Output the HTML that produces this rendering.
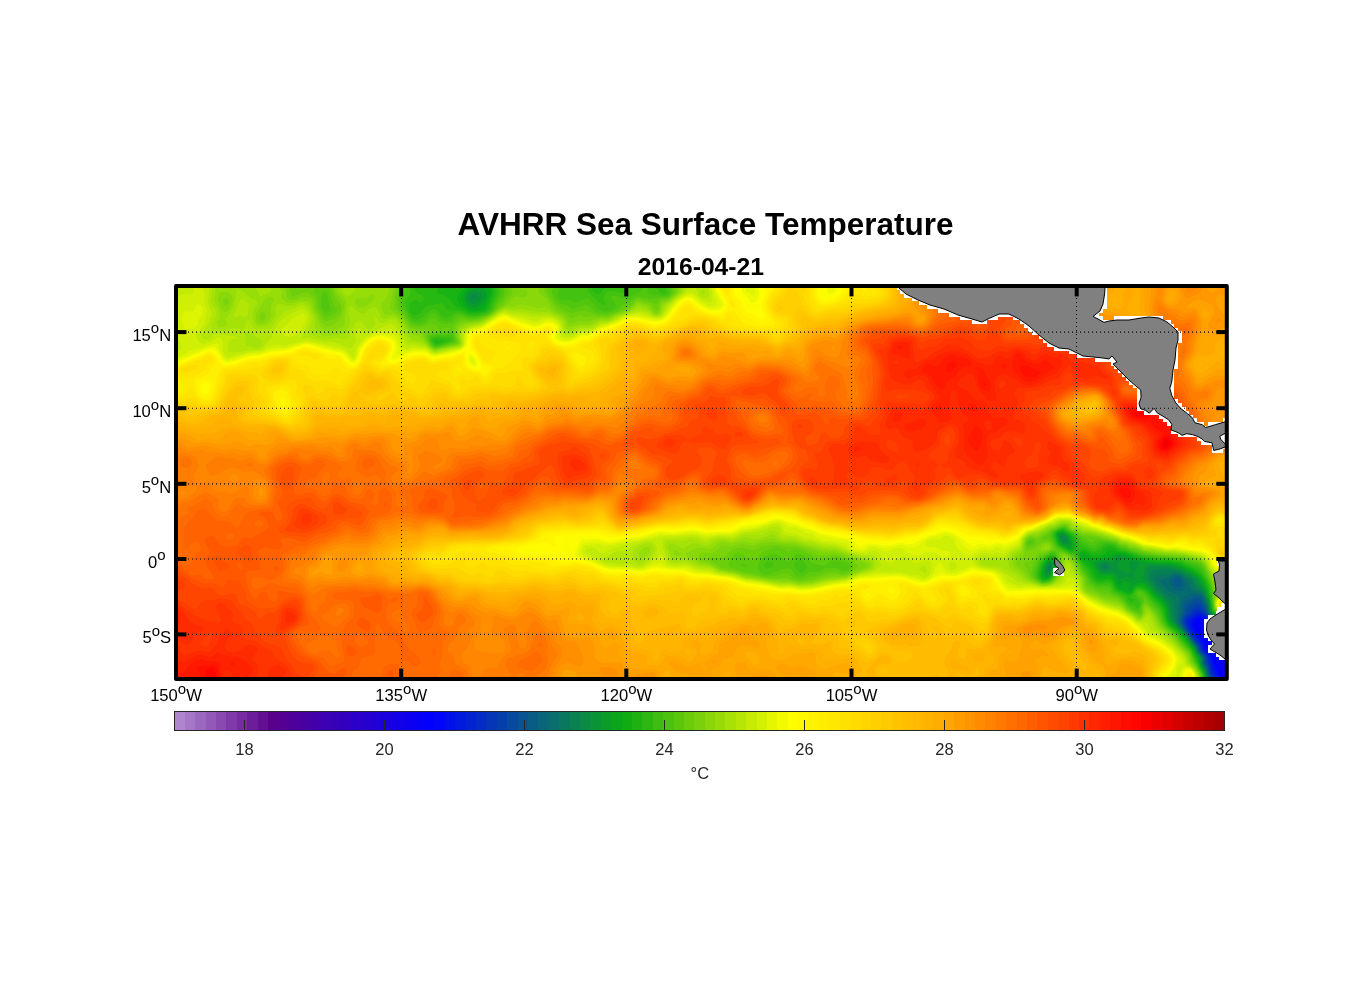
<!DOCTYPE html><html><head><meta charset="utf-8"><title>AVHRR Sea Surface Temperature</title>
<style>html,body{margin:0;padding:0;background:#fff}svg{display:block}text{font-family:"Liberation Sans",Arial,Helvetica,sans-serif}</style></head><body>
<svg width="1356" height="1000" viewBox="0 0 1356 1000">
<rect width="1356" height="1000" fill="#fff"/>
<defs><clipPath id="ax"><rect x="176.0" y="286.0" width="1050.8" height="393.0"/></clipPath></defs>
<g clip-path="url(#ax)" id="field">
<rect x="176.0" y="286.0" width="1050.8" height="393.0" fill="#ff8800"/>
<g fill-rule="evenodd" shape-rendering="geometricPrecision"><rect x="174.0" y="284.0" width="1054.8" height="397.0" fill="#1200e8"/>
<path fill="#0c00ef" d="M174 284l1054 0 0 387-1 1-1 2 1 6-1053 0z"/>
<path fill="#0600f7" d="M174 284l1054 0 0 377-4 0-2 1-0.5 2 1.5 4 0.5 6 1.5 6-1051 0z"/>
<path fill="#0000fe" d="M174 284l1054 0 0 373-12-2.5-0.5 3.5 0.5 4.5 4 7.5 3.5 10-1049.5 0zM1198 621.5l-1 2.5 0.5 4 4.5 7 2 1 0-4-1-10-1-1.5-2 0zM1206 641l0 3 2 3 4 2.5 2 0 2-1 5-4.5-3-1z"/>
<path fill="#0109f3" d="M174 284l1054 0 0 357-14 0-4-1-2-1.5-1-2.5-2-8-0.5-8-2.5-2-2.5 0-3.5 2-1.5 2-0.5 2 1 4 8.5 14 2.5 6 5 6 4.5 12 3.5 6 3.5 8-1048.5 0zM1228 646l0 7.5-4.5-1.5-1-2 0.5-2 3-1.5z"/>
<path fill="#0113e6" d="M174 284l1054 0 0 355.5-12 0.5-4-1-2-1-1-2-2.5-8-0.5-8-1-2-3-1.5-2 0-4.5 1.5-2.5 2-1 2-0.5 2 1 4 10.5 16 1 4 6.5 8 3.5 11 7 13-1047 0z"/>
<path fill="#021dd8" d="M174 284l1054 0 0 355-12 0-4-1.5-1.5-1.5-3-8-0.5-8-1-2-4-3-2 0-4 1-5.5 4-1 2 0.5 4 1.5 4 10.5 14 2 6 5.5 6 4 14 6 10-1045.5 0z"/>
<path fill="#0226cb" d="M174 284l1054 0 0 354-12 0-3.5-2-4-8-0.5-8-1-2-3-3-4-2-2 0.5-7.5 4.5-2 2-1 2 1 4 1.5 4 11 14 2 6 5 6 3.5 10 0.5 4.5 6 9.5-1044 0z"/>
<path fill="#0330be" d="M174 284l1054 0 0 353.5-10 0-3.5-1.5-5-8-0.5-8-1-2-2-2.5-6-4-2-0.5-2 1-8 6-1.5 2-0.5 2 3 8 7 10 4 4 2 6 5.5 6 0.5 2 0.5 4 2 4 1 6 4.5 8-1042 0z"/>
<path fill="#033ab1" d="M174 284l1054 0 0 353-8-0.5-4-1-5.5-7.5-0.5-8-1-2-9-9-2-0.5-4 2.5-8 7.5-1 1.5 0 2 3 8 8 11 3 3 3 7.5 4.5 4.5 1 2 0 4 2 4 1 6 4 8-1040.5 0z"/>
<path fill="#0444a4" d="M174 284l1054 0 0 352.5-8-0.5-4-2.5-4.5-5.5-0.5-8-1-2-6-6-2-3.5-2-2-2-1-2 1-4 3-7.5 8.5-1 2 0 2 1 2 3.5 7 8 11 3.5 4 1 4 1 2 4 4 1 2 0 4 2.5 4 0.5 6 3.5 8-1039 0z"/>
<path fill="#044e97" d="M174 284l1054 0 0 352-8-1.5-2-1-4-4-1.5-1.5-0.5-2 0-4-1.5-4-5-6-3.5-6-4-3.5-2 0.5-6.5 5-3 6-3 4-1 2 0 2 1 2 4.5 8 7 10 3.5 4 1 4 1.5 2 4 4 0.5 2 0 4 2.5 4 1 6 3 8-1038 0z"/>
<path fill="#055889" d="M174 284l1054 0 0 351-6.5-1-5.5-3.5-2-2-1-2.5-0.5-6-2.5-4-3.5-4-1.5-4-5-8-2-1.5-2 0.5-9.5 7-0.5 2-1.5 6-2.5 4-0.5 2 0 2 5.5 10 7.5 10 3.5 4 2 6 4 4 1 2-0.5 4 3.5 6 0.5 4 2.5 8-1037 0z"/>
<path fill="#06617c" d="M174 284l1054 0 0 350.5-6-1.5-4-2-3-3-1-2-0.5-6-1.5-2-5-6-2-6-2.5-4-1.5-4-1-1-2-1-4 0.5-6 4-3.5 3.5-1 2 0 6-3 6 0 4 6 10 7.5 10.5 3 3.5 2.5 6 4 4 1 2-0.5 4.5 0.5 1.5 2.5 4 0.5 4 3 8-1036.5 0zM1176 578l-2.5 2 0.5 3 2.5 3 1.5 1 2-0.5 1.5-2.5 0-2-1.5-2.5-2-1.5z"/>
<path fill="#066b6f" d="M174 284l1054 0 0 350-6-2-6-4-1-2-1-6-6-8-1.5-6-2.5-4-1-4-1.5-2-3.5-1.5-6-0.5-4 1-4 3.5-2.5 5.5 0 8-2.5 6 0 4 7 10 8 11.5 2.5 2.5 2.5 6 3.5 4 1 2 0 4 0 2 3 4 3 12-1035.5 0zM1176 576l-2 0.5-2.5 1.5-1.5 2 0 2 0.5 2 3.5 4.5 2 2 2 0.5 2 0 2-1 2-2 1-2 0-2-0.5-2-3.5-4-3-2z"/>
<path fill="#077562" d="M174 284l1054 0 0 349-6-2-5-3-1.5-2-0.5-6-6-8-1.5-6-2.5-4-1-4.5-2-3-2-1.5-8.5-3-1-2-2.5-6-2-2-6-5-4-1-4 1-6 3.5-5 1.5-0.5 2 6.5 8 12 6 1 2-1.5 8 0 6-1 8 0.5 2 1 2 17 22.5 2 5.5 4 4.5 1 1.5 0 6 3 4 3 12-1035 0z"/>
<path fill="#077f55" d="M174 284l1054 0 0 348.5-4-1-4-2-2-1.5-1.5-2-1-6-6-8-1-2-0.5-5-1.5-3-2-6-2.5-3.5-7.5-4.5-3-6-1-2-2.5-1.5-8-5-4-1-2 0-6 2-10 1-2 0.5-1 2 0 2 1.5 4 5.5 5 2 3 2 2 7 4 1.5 2 0.5 2 0.5 14 1 6 18.5 24 1 2 1.5 4 4.5 5.5 0.5 6.5 2.5 4 3.5 12-1034.5 0z"/>
<path fill="#088948" d="M174 284l1054 0 0 348-6-2.5-2.5-1.5-2-2-1.5-6-6-8-0.5-2-1-6-4.5-11-2-2.5-5.5-4.5-3-6-2-2-11.5-6-4-1.5-10-1-12 0.5-2 0.5-1 1.5-1 2.5 0 3.5 6 9.5 4 3.5 4 4.5 5 4.5 1.5 2 1.5 4 0.5 8 1.5 6 2.5 4 5.5 6 8 10 5.5 8 1.5 4 4.5 6 0.5 6 3 6 2 6 0.5 4-1033.5 0zM1050 565.5l-2 1 0 3 2 0 0.5-1.5zM1104 565l-1.5 1 1 2 2.5 0.5 1.5-0.5 0-2-1.5-1z"/>
<path fill="#08923a" d="M174 284l1054 0 0 347-6-2-3.5-3-1.5-6-6-8-1-2-1-6-5-13.5-5.5-6.5-4-6-4.5-3-10-5-6-2-6-1-16-0.5-2 0.5-2 1.5-1.5 9.5 9 12 4.5 4 7.5 8 2 4 1.5 10 1 4 3 4 7 7 6 7.5 7 9.5 1.5 4 4 6 0.5 6 3.5 6 2 6 0.5 4-1033 0zM472 295l-1 1 0 2 1 1.5 2 0 2-1.5 0.5-2-0.5-1-2-1zM1050 563l-2 1-1.5 4 0.5 4 1 1 2-1.5 2-3.5 0-3zM1062 535l-2 1 0 2 2 3 2 1.5 2 0 0.5-0.5 0.5-2-0.5-2-2-2zM1102 563l-2 1-0.5 2 1 2 1.5 2 2 1 4-0.5 2-0.5 2-2-1-2-3-2.5-2-1z"/>
<path fill="#099c2d" d="M174 284l1054 0 0 346.5-6-2.5-2.5-2-2-6-6-8-1-2-0.5-6-6-16-6-9-3-3-15-7.5-7-2.5-5-1-20-0.5-2 0.5-1.5 1 0 6-2.5 6 1 2 5 3.5 6.5 8.5 7.5 6.5 4.5 5.5 1.5 4 2 10 2 4 10 10 6 7.5 6 8.5 2 4.5 4 5.5 0.5 6 3.5 6 1.5 4 0.5 6-1032 0zM472 291.5l-3.5 2.5-1 2-0.5 2 1 2.5 2 2.5 2 1 2 0 4-1.5 2-2 2-2.5 0.5-2 0-2-2.5-2-4-1.5zM1050 561.5l-2 1-2.5 3.5-0.5 4 1 5 2 0.5 2-2 3-5.5 0-2 0-2-1-1.5zM1060 534l-1 2 1 4.5 3.5 3.5 4.5 1 1-1-1-6-1.5-2-2.5-2-2-0.5zM1116 558l-2 4-2 0.5-6-2-4 0.5-4 1.5-1.5 1.5 0.5 2 2.5 4 2.5 2.5 2 0.5 8-1 2 0.5 2 1.5 2 4 2 1 6-2.5 2 0.5 4 2.5 2 0.5 1-2-1.5-6 6-8-3.5-2.5-4-0.5-2 0.5-0.5 0.5 0 4 1.5 6-3 1.5-2 0-4-2-3.5-3.5 0-2 0-2 4-6-2.5-1.5-2 0z"/>
<path fill="#09a620" d="M174 284l1054 0 0 345.5-4.5-1.5-3-2-2-6-6.5-8-1-2-1-7.5-4-13-4-7.5-3-4-3-3-16-8.5-4-1-8-2-10 0-12-1-18-5-6-2.5-4-0.5-4 1.5-2 2.5-14 2-4.5 1.5 0 2 4.5 7.5 2 2 2 1 10 0 2 1.5 4 8 2 1 4-4 2 0 2 0.5 2.5 2.5 0 2-1.5 2 0 2 1.5 0 2-4 5.5-3 4 0 2 0 4 3 6 7.5 7.5 6.5 3.5 4 2 4 1.5 10 2 4 10 10 13 16 2.5 5.5 3 4.5 1 6 4 7.5 1.5 4.5 0 4-1031.5 0zM476 288l-4 1-4 2.5-2.5 2.5-1 2 0 2 1.5 4 3 4 3 1.5 4 0 4-1.5 2-2 2-3 2.5-5 0-2-0.5-2.5-2-3-2-2-2 0zM1048 561l-2.5 3-1.5 4 0 7.5 2 2 2-0.5 2-2 3-5 1-4 0-2-2-3.5-2-0.5zM1060 533l-1.5 1-0.5 2 0 2 2 4 4 3.5 6 2.5 1.5-2 0-2-2-6-1-2-4.5-3-2-0.5zM1123.5 564l0.5-0.5 0.5 0.5-0.5 1.5z"/>
<path fill="#0baf14" d="M174 284l301.5 0-2 2-5.5 3-3.5 3-2 2-1 4 1 4 5 6 2.5 1.5 4 1 4-0.5 4-1.5 2-2 1.5-2.5 4-10 0-2-2-8 740.5 0 0 345-3-1-3-2-3-6-6.5-8-1-2-0.5-6-4-14-3.5-8-5.5-7-6-4-10-5-5.5-2-8.5-1.5-10 0-12-1.5-8-2-14-5-4-1-6 0.5-6 2.5-7 2-7 0.5-4-0.5-2-0.5-4-3.5-2-0.5-1 2.5 1 1.5 6 3.5 2 2 3.5 5 4.5 7.5 4 1.5 8-1 2 1 2 2.5 2 5 2.5 3.5 7.5 3 2 1 2 0 2-1.5 4-4.5 2-1 4-0.5 4 2 8 9 6 5 3 3.5 2.5 4 2 10 1.5 4 1.5 2 9.5 8.5 8 9.5 5.5 8 4.5 8 1.5 6 4.5 9 1 3 0 4-1031 0zM1048 560l-3.5 4-1.5 4-0.5 4 0 4 1 2 2.5 0.5 2-0.5 2.5-2 3.5-6 1-4-1-4.5-2-2.5-2-0.5zM1060 532l-3 2 0 2 2 6 1.5 2 2.5 2 7 3.5 2-0.5 1-1 0.5-2-0.5-2-3-8-6-4-2-0.5z"/>
<path fill="#19b413" d="M174 284l270 0 0.5 2 1.5 1.5 1.5-1.5 0.5-2 22.5 0-6.5 5-5.5 5-1 2-0.5 2 1 4 3.5 4 6.5 4.5 2 1 4 0.5 8-1 2-1 2-2 6-14 0-4-1.5-6 737.5 0 0 344.5-5-2.5-3.5-6-6-8-1.5-2-4-20-3-8-5-7-6-4.5-12-6-4-1.5-10-1.5-10 0-14-2.5-6-1-14-5-12-2.5-2-0.5-2 1-3.5 3-4 2-4.5 0.5-4-0.5-8-4.5-2 0-2 1-1 1.5 1 3.5 2 2.5 5 4 4 4 1.5 2 2.5 6 1.5 2 3.5 1.5 2 0 8-1 2.5 1.5 3.5 7.5 2 2 10 4 2 0 2-1.5 4-5 2-1 4 0.5 2 1 4 3 6 6.5 6 5.5 4 5.5 3 12 2 4 11 9.5 8 9.5 5 7 4 8 3 8 4 8 0 6-1030 0zM1050 557.5l-2 1-3.5 3.5-2 4-1.5 6 0 4 0.5 2 2.5 1.5 2 0 4-2 2.5-3.5 3-6 0.5-4-2-5-2-1.5zM1058 532l-2 2 0 2 1 4 2 4 3 2.5 8 4 2 0 1.5-0.5 1.5-2 0-4-3.5-8-7.5-5-2-0.5z"/>
<path fill="#27b912" d="M174 284l264.5 0-1 8 0.5 2 4 0.5 4 1.5 2.5 2 4.5 6 3 2.5 12 6 2 1 4 0 10-1.5 3-2 1-1.5 6-14.5 0-4-1.5-6 735.5 0 0 343.5-4-1.5-3.5-6-8-10-3.5-20-3-8-4-7-4-3.5-16-8.5-14-3-10 0.5-16-3-16-5.5-9.5-2-2.5-2-4-1.5-4 1.5-6 5-4 1-4-0.5-6.5-3.5-3.5-0.5-2 0.5-2 2-0.5 2 0.5 2 2 3.5 9.5 10.5 4 8 2.5 2 4 1.5 8-1 2 0 2 1.5 2.5 6 2 2 11.5 5 2 0 2-1.5 4-5 2-1 4 0.5 6 4 4 5 7.5 7 2.5 3.5 2 4.5 2 8 2 4 11 10 13 16 8 18 3.5 6 0 2-0.5 4-1029 0zM436 341.5l-0.5 0.5 0.5 0.5 3-0.5-1-1zM1052 556l-2 0.5-2 1-3 2.5-1.5 2-2.5 4-1 6-0.5 4 1 2 2 2 3.5 0.5 2-0.5 2-1.5 2-2.5 4.5-8 0.5-4-1-2.5-2-4.5zM1062 529.5l-4 1.5-3 3 0.5 4 2.5 6 2 2 10 5.5 2 0.5 2-1 1.5-1 1-2 0.5-4-4-8-9-6zM453 284l10 0-3 4-2 1-2 0-2-1.5z"/>
<path fill="#35bd10" d="M174 284l237.5 0 0.5 2 4 5.5 2 2 4 1.5 1 1 1 2 0 2-2 2.5-2 0-4-2.5-2 0.5-4.5 3.5-0.5 4 1.5 4 1.5 2 2 1.5 2 0 3-1.5 7.5-8 3.5-1 12-2 2 1 2 5 2 0.5 12 1.5 10 4 8-0.5 8-2 2-1.5 2-2 2.5-7 4-8 0-2-1.5-8 98.5 0-1 4 0 2 1.5 2.5 2 1 2 0.5 2-0.5 1.5-1.5 4.5-6 2 0 8 1 2.5-1 1-2 608.5 0 0 343-2.5-1-1.5-1.5-3-4.5-8-10-3-20-2.5-8-5.5-9-2-2.5-4-2.5-14-6.5-14-2-10 0-18-3.5-14-5-6-1-2-1-4-3.5-4-1-4 0.5-2 1-6 4.5-2 1-4-0.5-8-3.5-4-0.5-1.5-5-4.5-7-10-6-2 0-3 1-3.5 2-1.5 2 0.5 4 2.5 6 3 3 8 4.5 2 1 4 0 2 1.5 4 7 8.5 11 3 6 2.5 2.5 2 1.5 4 1.5 8-1 2 0.5 2 2 2.5 5 3 2 6.5 2.5 2.5 1.5 1.5 2 0.5 2 1.5 2 2 0 2-1 0.5-1-0.5-1-4.5-1 1-2 1.5-1 4-5 2-1.5 2 0 2 1 4 2.5 2 2 4 5 6 6 2.5 3 1.5 2.5 3 9.5 2 4 1.5 2 9.5 8 13 16 8.5 18 3.5 6 0 2-0.5 4-1028.5 0zM434 339l-1 1 0 2 2 2 1 0.5 3.5-0.5 4-2 2.5-2-6-1.5-4 0zM1050 555.5l-4 2.5-4 4-1.5 2-1.5 6-1 4 1 4 2 2 3 1.5 4-1 3.5-2.5 4.5-8 1.5-4-0.5-4-2.5-6-2.5-1zM428 284l6.5 0-2.5 2.5-2-0.5z"/>
<path fill="#43c20f" d="M174 284l234.5 0 2.5 8-1 3-4 5-0.5 6 1.5 4 3.5 6 1.5 2 2 1 2 0.5 2 0 3-1.5 7-6.5 4-2.5 2 0 2 0.5 6 6 2 1.5 2 0.5 2 0 2-1 3-2.5 3-1.5 4 0.5 8 3 4 0.5 6-0.5 8-2.5 3-1.5 2-2 3.5-8 3.5-6 1-4-2-8 90 0 0.5 6 1 2 1.5 2 5 4 5 5 4 2 2-1-2-4 0-2 0.5-2 1.5-3 2-1.5 4-0.5 4 0.5 6 1.5 2 0 1.5-1 0-2-1-6 29 0 1 2 5.5 6 4 2 2-0.5 1-1.5-1-2-3-4-1-2 566 0 0 342.5-3.5-2.5-2.5-4-8.5-10-0.5-4-2-16-2.5-8-6.5-11.5-4-4-16-6-14-2-10-0.5-18-3-14-5-6-1.5-6-4-4-1-6 0-8 5-4 0-10-4.5-7.5-10-4.5-2-6-4-2 0-4 1.5-4 2.5-1 2-0.5 2 1 2 2.5 6 2 2.5 2 1.5 10 5.5 4 1 13.5 19.5 3.5 6 3 2.5 2 1.5 4 1 8-0.5 2 1 4 6 9.5 4.5 4.5 6.5 2 2 4 0 2 3 1 0.5 1 0 2-4 0-2-4.5-6-1-2 1-2 2.5-2 2 0 4 2 2.5 2 4.5 6 9 10 4.5 12 2.5 4 9.5 8 6.5 8 7.5 8 8.5 18 3.5 6 0 2-1 4-1027.5 0zM432 338l-1 2 1 2 2 3 2 0.5 2 0 10-3.5 4-2 0-2-2-1-4 0-8-0.5zM1052 553.5l-5 2.5-5 4-1.5 2-2 4-1.5 6 0 4 0.5 2 2 2 2.5 1.5 4 0.5 4.5-2 3-4 4.5-8 0.5-4-2-6-2.5-4z"/>
<path fill="#51c60e" d="M174 284l231 0 0.5 6-3.5 8 1 8 1.5 4 6.5 10 3 2 4 0.5 3.5-0.5 2.5-1 6-7 2-1 2 0 2 1 6 6 4 1 5-1 4-4 3-1 4 0 6 2 4 0.5 6-0.5 10-3 3-2 1.5-2 3.5-6.5 4.5-7.5 1-4-2-8 61 0-1 4-2.5 6 1 3 2 2.5 2 1 6-1 2 0.5 6 2.5 2-0.5 6-3 2-0.5 2 0 2 1 2 2 4 5.5 2 2 2 1 6 1.5 6-1.5 3-2 1-2-0.5-2-1.5-3-3-3 0.5-2 4.5 0 8 2.5 4-0.5 6-3.5 5.5-2.5 2-2 2.5-6 1.5 0 0.5 0 1.5 4 0 4 1.5 2 15 2 2 0 2-1 1-1 0.5-2-3.5-8 562 0 0 341.5-2.5-1.5-11.5-14-1-4-1-16-2.5-8-7.5-14.5-4-3.5-16-5-14-1.5-10-0.5-16-2.5-16-6-6-1-4-3.5-8-2-6.5 0-7.5 4-4-0.5-6-3.5-8-8-6-2.5-4-3.5-2-1-2 0.5-4 1.5-5.5 3-1 2-0.5 2 1 2 4 8 2 2 16 8 8 12.5 4 5.5 4 7 2 2.5 4 2.5 2 0.5 4 0.5 6 0 2 1.5 2 3.5 6 3 4 2.5 6 7 7.5 5.5 2.5 0.5 1-0.5 3-8-1-2-4-6 0.5-2 0.5-0.5 2 0 4.5 2.5 15 18 4 10 2.5 4 10 9 6 7.5 8 8.5 5 11 6.5 12 0.5 2-1 4-1027 0zM432 336l-2 1 0 3 2 4 2 2 2 0.5 2 0 14.5-4.5 1.5-2-0.5-2-1.5-3-2-0.5-4 1-8-0.5zM766 562l-1.5 2-0.5 2 2 2.5 2 0 2-1 3-1.5 1-2-2-2.5-4-0.5zM798 559.5l-2.5 2.5-1 2-0.5 2 4 6 2 1 2 0 4-3 1-2-0.5-2-2.5-4-2-2-2-1zM844 567l0 1 1.5 0zM1050 553.5l-8 4.5-2 2-4.5 10-0.5 4 0.5 2 3 4 3.5 2.5 2 0 4-0.5 3.5-2 3-4 3.5-6 1.5-4-0.5-4-3-7.5-2-2zM568.5 284l8 0-2 2-2.5 0.5-2-0.5z"/>
<path fill="#5fcb0d" d="M174 284l227.5 0 0 6-1.5 4.5-0.5 3.5 0 6 1.5 4 9 14 3.5 2 4.5 1 4-0.5 4-1.5 6-5.5 2 0 6 5 2 1 4 0.5 6-1 5.5-5 2.5-1 8 1.5 6 0.5 6-1.5 8-2.5 4-3 2-2 9.5-14 1-4-2.5-8 54 0-3.5 6-0.5 2 0.5 2 3.5 6 4 4 8 2 4 2.5 2 0.5 10-4 2 0 2 0.5 8 6.5 4 1 6 0.5 6-1.5 5-2 2.5-2 2.5-3 6-2 8-6 4-0.5 6.5 1.5 9.5 1 4-1.5 6-0.5 2-0.5 3-2.5 0.5-2 0-2-3-6 559.5 0 0 340.5-2-1.5-11.5-13-1-6-0.5-14-2.5-8-6.5-14-2-3-2-1.5-2.5-1.5-5.5-1-10-3-24-2-16-2.5-12-4-4-2-6-1.5-4-3-8-2-9-1-7 2-2 0-5.5-4-4.5-2-4-3.5-6-2-4-3.5-2-0.5-4 1-8 4-1 0.5-2 4 0 2 3 3 4 7.5 2 1.5 6 2 8 4 2 1.5 7.5 12.5 4.5 6 2.5 6 1.5 2 6 4 6 1.5 4.5 0.5 5.5 4 6 2.5 4 3 6 7 4.5 3.5 5.5 2.5 2-0.5 1.5-6 2-4 0.5-2-1-2 1-1 13.5 15 2 4 2.5 6 2.5 4 11.5 10 6 8 8 8 4 10 7 12 0.5 2-1 4-1026.5 0zM324 291l-1 1-1 2-1 8 0.5 4 0.5 2 2 3 2 1.5 2 0 1.5-0.5 1.5-2-0.5-2-2.5-11-2-4.5zM436 334l-6 1-1.5 1-0.5 2 3 6 3 3 2 0.5 2-0.5 17-5 0.5-2-0.5-2-1-3-2-2.5-2 0-4 1.5-6-0.5zM742 564l-0.5 0 1 2 3.5 0.5 1-0.5-2.5-2zM774 554l-6 1-4 1.5-2 2-2.5 3.5-2 4 0 2 2.5 4 2 1.5 4 1 4-0.5 12-5 6-0.5 2 0.5 2 1.5 4 5.5 4 1 2 0 8-5 8 0 4.5-2 1.5-1.5 2-0.5 10 0 8 3.5 4-1 2-2.5 0-2-2-2.5-12-3.5-4 0.5-3 1.5-3 3-2 1-12-3-6-5.5-6-3.5-2 0-2 0.5-6 6-2 0.5-2-0.5-2-1-6-4.5-2-1zM1030 540l-2 2 0 2.5 2 0.5 3-3-1-1.5zM1052 551.5l-12 6-3 4.5-3 8-1 4 0.5 2 1.5 2 5 4 2 1 2 0 4-0.5 4-2 3.5-4.5 4-8 0.5-4-3-10-1-2.5-2-0.5zM1141.5 596l1 0-0.5 0.5z"/>
<path fill="#6dcf0c" d="M174 284l142.5 0-2 6 0 2 3 6 1.5 10 5 8 2 1 4-1 4.5-2 2-2 1-2-0.5-2-3.5-4-5.5-20 71 0-0.5 6-1.5 8 1 10 1 2 5 5.5 4 6.5 2 2.5 4 2 6 0.5 4-1 8-2.5 2 0.5 2 1.5 3 2.5 1 2 2-1 1-1 3-0.5 4 0.5-1 2-3 1.5-6-1.5-4.5 2-5.5 1-2.5 1-1 2 0.5 2 1.5 4 3.5 4.5 2 1 2 0.5 18-4 3-2-1-4.5-2-5.5-2-4 1-2 6.5-6 2.5-1 8 1.5 8-1 10-4 5.5-3.5 9-10 5.5-8 0.5-2-0.5-2-3-6 44.5 0-1.5 6 1 4 7 10.5 4 3 10 5.5 2 0.5 8-2.5 4-0.5 4 1 8 3 10 1 4-1 16-6.5 3-2 5-5.5 2-1.5 2-0.5 12 2.5 6 3 3.5-4 8.5-2 4.5-4 1.5-2 0-2-2.5-6 556.5 0 0 339.5-11-11.5-2.5-4-1-6 0-12-2.5-10-7-14.5-4-4-16-4-24-2-16-3-10-3.5-4-0.5-4-2.5-6-1-4-3-8-2-26-4.5-6-4-5.5-1.5-4.5-4-2-0.5-4 1-8 3.5-2 1.5-2 2.5-4 2-2 2 0 0.5 2 1.5 4 0 2 1.5 2.5 2.5 1.5 4-1.5 2-6.5 3.5-6 2-2.5 2.5-5 8-1 4-0.5 4 0.5 2 1.5 2 5.5 4 3.5 1.5 4 0 5-1.5 4-4 4.5-8 1.5-4-0.5-4-2-8 1.5-2 4 1 6.5 3 3.5 3 6 11 4.5 6 1.5 4 1 4 1 1.5 14 8 6 1 10 3.5 6 5 4 5 4 3 6 3 2 0.5 0.5-0.5 1-2 1-6 1.5-2.5 2-1 2 1 9 10.5 3.5 8 3.5 5 10.5 9 7.5 9.5 6.5 6.5 1.5 2 3 8 3 4.5 4.5 7.5 0 2-1 4-1025.5 0zM772 548l-9.5 4-6.5 7-2 1-2 0.5-2-1-6-4.5-2-1-4-1-2 0.5-2 0.5-1.5 2-2.5 4-2 4 1 2 3.5 2 5.5 1.5 6 2.5 10 1 10 3.5 10 0 8-3 4 0 2 0.5 5.5 4 4.5 1.5 2 0.5 4-0.5 6-2.5 6-1 8-3 6-1.5 6 0 6 2 4 0 4-2 2-1.5 1-2 0-2-0.5-2-2-2-14.5-5-4 0-8 2.5-4 0.5-4-1-7.5-5-9-4-5.5-0.5-6 2-7.5-3.5-2.5-0.5-2-0.5zM1028 539.5l-1.5 2.5-0.5 2 0.5 2 1.5 2 2-0.5 4-2.5 2-3-1-2-3-1.5-2 0z"/>
<path fill="#7bd40b" d="M174 284l114.5 0 1.5 4 0.5 6 1.5 2.5 2 0 8-3.5 4-0.5 2 0.5 5 3 1.5 2 1 2 0.5 6 1.5 4 4.5 8 2 2.5 2 1 8-3 4-2.5 2-2.5 1-3.5 0-4-0.5-2-4.5-5.5-2.5-4.5-2-10 65 0 0 4-1.5 8-0.5 10 0.5 2 1 2 6 5.5 5.5 8.5 2.5 3 2 1 4 1 10 0.5 2 0.5-2 1.5-1 2.5 0.5 4 5 8 3.5 2.5 2 0.5 21-5 1-2-2.5-10 0-4 1-2 3.5-3 2-1.5 2 0 6 0 8-1 8-3 6-3.5 12-10 8-10 0.5-2-0.5-2-3.5-6 36 0-0.5 4 1 4 9 14.5 3.5 3.5 6.5 2.5 6 5 2 1 8-3 6 1.5 6-1 14 1 2-0.5 20-7.5 2-1.5 5-5.5 3-1.5 2 0 10 3 2 2 4 5 2-1.5 1-5 1.5-2 1.5-1.5 6-1.5 2-1 4.5-4 1.5-2 0-2-2-6 554 0 0 338.5-10.5-10.5-3-4-0.5-6 1-12-3-10-2.5-6-5.5-10-4-3.5-8-1.5-8-2.5-20-1.5-20-3.5-10-3.5-4-0.5-4-2.5-6-1-4-3-28-6.5-6-0.5-6-3.5-4-0.5-2-1.5-2-2.5-2-1-2-0.5-2 0.5-6.5 3-5.5 1.5-2 2.5-2 1.5-2.5 0.5-5.5 4.5-8-1.5-2 1-1.5 2-1.5 4 0.5 4 0.5 1.5 2 1.5 8-3 4-4.5 4-1.5 4 0 2 1.5 2 2.5 0 2-1.5 2-4.5 2.5-6 0.5-2 1-4 5-2 1.5-6 1.5-2.5 2 4 6 2 6 1.5 2 6 4 5 2 6-0.5 4-1.5 4-4 5-10 1-4-1.5-8 1-2 2.5 0 4.5 2 3 2 3 4 4 8 5.5 8 1.5 8 2.5 2.5 8 3.5 6 4 6 1 8 2 6 4 4.5 5 3.5 3 9 5 1 0.5 2.5-2.5 0.5-6 1-2.5 2-1 2 1 7.5 8.5 4.5 9.5 3.5 4.5 10.5 9 8 10 6 5.5 2 3.5 1.5 6 4.5 5.5 3.5 6.5 0.5 2-1 4-1025 0zM764 546l-4 1-6 3-4-0.5-8-2-5 0.5-7 3-6 6-2 0.5-11.5 0.5-1.5 2 12.5 8 14.5 3 9 3 9 1 13.5 3 8.5 0.5 10-0.5 6.5 2 7.5 1.5 12-1.5 12-4.5 4-1 6-0.5 8 1 4-0.5 6-2.5 2.5-2 3.5-4-1-2-5-4-16-5-12 0.5-4 0-19-7.5-5-1.5-12-0.5-8-1.5z"/>
<path fill="#89d80a" d="M174 284l109 0 3 6 0.5 6 1 2 2.5 2 4 0 8-2.5 4-0.5 4 1 2 1.5 3 10.5 3.5 6 2.5 6 3 3 4 1.5 4-1.5 6-4 2-1.5 2-4 1.5-5.5 0.5-4-0.5-4-1.5-2.5-6-6.5-1-3-1-6 60 0-2.5 16-2 8 1 2 9.5 6 2 2.5 4.5 7.5 3.5 3.5 4 2 6 0.5 2 1.5 3 6.5 4.5 6 2.5 2.5 2 1 2 0 10-2.5 10-2 3-1 0.5-2-2.5-8 0-4 1-2.5 4-3.5 4-1 12-1.5 4-1.5 8-4 10-7.5 8-4.5 4-5 2-2 2-0.5 6 1 2 0 2.5-1.5 1-2 0.5-2-2-2-8-1.5-3.5-2.5-1-2 26 0-0.5 6 0 2 1.5 2 5.5 4.5 5.5 9.5 4.5 4 8 3.5 2.5 2.5 2 4 1.5 1.5 2 0 8-2.5 8 1 8-3.5 4-0.5 8 0.5 6-3.5 15-5 7-7 2-0.5 2 0 8 3 2 1 4 5.5 2 1 2-0.5 1.5-2.5 1-4 1.5-3 8-4 6-5 2-2 0-2-1.5-6 551.5 0 0 337.5-10-9.5-3-4-0.5-6 1-10 0-4-4.5-14-3-4-3-6-4-4-17-4.5-20-1.5-20-3-10-4-4-1-4-2-4-0.5-2-0.5-4-3-16-4-12-2.5-6-0.5-4-3-6-1-1.5-1-2.5-3.5-4-0.5-4 0.5-6 3-4 1-4 3-4 1.5-4 3.5-8-0.5-3.5 2-1 2-1 4-0.5 10-1 2-5 3-1 1-1 2 0.5 2 1 2 6.5 5.5 3 4.5 1.5 2 3 2 10.5 4.5 6 0 4-1.5 3.5-3 3.5-6 3.5-8 0-4-0.5-4 0.5-2 1.5-0.5 2 0.5 3.5 2 3.5 4 4 8 5.5 8 1 2 0.5 6 2 4 2 1.5 8 3 6 3.5 8 2 4 0.5 6 2.5 2 1.5 3 3.5 5 4 4 2 4 3 2 0.5 2.5-1.5 1-2 1-6 1.5-1.5 4 3 4 4.5 5 10 3 4 11.5 10 8 10 6.5 6 2.5 8 5 6 3.5 6 0.5 2-1 4-1024.5 0zM224 298l-1 2 0 2 1 2.5 2 1.5 2.5-2 0-4-1.5-2zM264 311.5l-2 0.5-2 2-0.5 2 0 2 0.5 1.5 2 1 2-0.5 1.5-2 0.5-1.5-0.5-2.5zM770 542l-10 1.5-8 2.5-10-2-12 2.5-8-0.5-2 1-5.5 5-2.5 1-10-0.5-2.5 1.5-0.5 2-0.5 2 1.5 2 2 1 8 2.5 8 5 4 1.5 10 1.5 14 4 10 1 8 2 12.5 1.5 11.5 0.5 12 2 12-1 16-4.5 14-0.5 4-0.5 5-2 5-3 8.5-3 2.5-2 0-2-3-1.5-28-10-12 0-28-8-6-0.5-6 0-10-2zM1044.5 544l3.5 0 2 2 0 2-1.5 2-2.5 1-4 0-1.5-1 0-2 1.5-2.5z"/>
<path fill="#97dd08" d="M174 284l70 0 2 2 2-2 28.5 0 4.5 6 0.5 2-0.5 4 0.5 2 5 4 3.5 1 2 0 8-2.5 4 0 4 0.5 2 1.5 3 7.5 3.5 6 2.5 8 1 2 4 4 4 1.5 4-0.5 10-4 2-2 1-3 0-6 1.5-14-2-4-4.5-5-2-2.5-1-6.5 53 0-2.5 12-1 2-4 4-1 2 0 2 0.5 4 2 4 2 1 6-0.5 4 1 2 1.5 3 3 5 8.5 4 4.5 4 2 6 1.5 10.5 11.5 3.5 2 2 0.5 10-2.5 12-2.5 2-1.5 0.5-2-2.5-10 0.5-2 1.5-2 4-2.5 4-1.5 12-2 10-5 12-8.5 4-1.5 8-0.5 6-2 6 0 10 3.5 4.5 0 3.5-1.5 2 0.5 6.5 5 9.5 4.5 3 3.5 3 6 2 1 10-3 10 0.5 6-3.5 4-1.5 8 0 8-4 14-4.5 6-6 2-0.5 2 0 8 3.5 6 5.5 2 1 2-0.5 2-2 2-6 1.5-2 6.5-3.5 8-6.5 1.5-2 0.5-2-1.5-6 549.5 0 0 336.5-10-9-2.5-3.5-1-6 2.5-10-0.5-4-4.5-14-4-5.5-2-5-4-4-2-1-8-1.5-8-2.5-10-1-10-0.5-20-3-9-4-5-1-4-2-4-0.5-6-3.5-16-4.5-12-2.5-6-0.5-4-3-6-0.5-2-3-2-1.5-4-1-2 0.5-8 3.5-4 1-4 2.5-8 4-8 1-4 2.5-2 3.5-2 10.5-2 2-4 2.5-3 4-0.5 4 1.5 3 6.5 5 5.5 6 3 2 11 4.5 4 1 4-0.5 4-1.5 5-3.5 2-4 4-8 0.5-4 0.5-6 2-0.5 2 1 4 4 3.5 7.5 6 8 0.5 2 1.5 8 2.5 4 10 4 8 4 16 4.5 2 1.5 4 4 4 3 4 2 4 3.5 2 0.5 2-1 2.5-4 1.5-4.5 2 0.5 2 1.5 3.5 4.5 3.5 8 3 4 12 10.5 8 9.5 6.5 6 1 2 2 6 1 2 4 4 3.5 6 1 2-1 4-1024 0zM222 291.5l-2 1-0.5 1.5-1.5 4 0 2 4 10 2 2 2 0 2.5-2 2.5-4 1.5-4 0-4-0.5-2-2-2.5-4-1.5zM268 297.5l-2 1-2 2-8 13.5-0.5 2 1 4 1.5 3 2 1 4-0.5 3-1.5 2-2 2-4-0.5-8 3-8-0.5-2-1-0.5-2-0.5zM374 294l-8 4-8 0.5-2 0.5-0.5 1-0.5 2 1 2 2 2.5 2 1.5 2 0 2-0.5 8-6 2-3.5 0.5-2zM674 550.5l-0.5 3.5 1.5 2 3 0 3-2-5-3.5zM764 540l-12 3-8-2-4 0.5-8 2-10-1.5-4 1.5-6 4.5-2 1-8-1-4.5 0-13 6 1.5 2 8 3 6 4 10 2 10 5.5 14 2.5 12 3.5 34 5 10 0.5 10 2 12-1 16-4.5 18-1.5 20-8 2.5-1 1.5-2 0.5-2-2.5-2.5-8-2.5-24-8.5-10 0-22-5-8-3-6-0.5-8 0-10-3.5zM1043.5 548l2.5-2 1.5 2-1.5 1z"/>
<path fill="#a5e207" d="M174 284l43 0-1 4-1.5 12 0.5 2 3 6 1.5 4 0.5 4-0.5 2-2 4-0.5 2 1 2 2 1 4 0 2-2 0.5-1 0-6 6.5-10 1.5-4 1-4 1-10-0.5-1.5-2-1-6-1-3-2.5 12.5 0-1 4 9.5 5.5 6 5.5 4 1 1.5 2-1.5 4-2.5 4-1 4 0 4 1.5 4 2 3 2 1 4 0.5 4-0.5 4-2 5.5-8 0.5-2-0.5-6 0.5-2 2-2 2 0 8 2 4-0.5 8-2.5 4 0 2.5 1 2.5 2 6 12 0 10 7 7 2 1 2 0 12-2 6 0 2.5-2 3-8 0.5-4-1.5-8 0.5-4 1-2 2 0 6 6 2 1 4 0.5 2-1 2-2.5 3-2 3-1 2 0 2 3 2 5 2 3 2 1 2-0.5 6-1.5 4 1 2.5 2 7.5 12.5 4 5.5 4 2 8 1.5 4 3 6 5.5 2 1 2 0 10-2.5 13.5-2.5 1.5-2 0-2-1-6-0.5-4 2.5-3 6-3.5 10-2 4-1.5 10-5.5 8-5.5 4-2 2 0 8 0.5 8-0.5 14 2.5 12 0.5 12 5.5 2 1.5 2 3 2 6.5 2 1.5 2 0.5 10-4.5 10 0 10-5 8 0 9.5-5 12.5-4 3-2 3-2.5 2-1 2 0.5 8 3.5 6 4.5 2 0.5 2-0.5 2-1 1.5-2 2.5-5.5 2-2.5 4-2.5 11.5-9.5 0.5-2-1.5-6 547.5 0 0 335.5-8-7-4-4.5-1-6 0.5-2 2.5-6 0-6-5-14-4-6-3-6-4-3.5-16.5-4.5-11.5-1.5-10-0.5-10-2-10-1-10-4.5-4-0.5-4-2-4-0.5-6-3-10-3-4-1.5-4-0.5-10-2.5-6-1-4-3-5-1-3-3-2-1-6-0.5-8 4-4 0.5-6 3.5-6 2.5-8 2-4 2.5-2.5 3.5-1.5 7-1.5 3-6 4-2 2-4 6 0 2 2 4 2 2 6 4 6.5 6 15 5.5 4 0.5 4-0.5 5-1.5 3.5-2 2-2 4.5-10 3-10 2 0.5 3.5 3.5 3.5 8 4.5 6 1 2 1.5 8 2 3 2 2 20 9.5 14 3.5 8 6.5 6 3.5 4 4 2 0 2-1 3-3 1-2 2-1.5 2 1.5 2 3 3 7 2.5 4 14 12 8.5 9.5 6 6 2 6.5 1.5 2 4.5 4 3.5 6 0.5 2-0.5 4-1023.5 0zM644 547.5l-3 2.5-2 2-0.5 2 0 2 1.5 2 2 0 4-1.5 3-2.5 1-2 0-3-2-2-2 0zM768 535.5l-6 2.5-4 1-6 0-6-1.5-2 0-8 3-4 1-8-1.5-4 0-4 1-6 4-2 0.5-4 0-8-2-4 0-8 4.5-2 0-8-4-4 0-2 2 0 2 3 10 1 1 2 1 8-1 4 0.5 6 2 8 3.5 10 1.5 10 5 14 2 12 4 34 5.5 10 0 10 2 11.5-1 14.5-3.5 20-2.5 12-5 10-3 3.5-2 1.5-2 0-2-0.5-2-2.5-2-10-2.5-24-8.5-10-0.5-22-5-10-3-12-0.5-4-2-4-3-2-0.5zM255 284l16 0 0.5 6-2 2-7.5 4-2 0-5-8zM341.5 286l0.5-2 14 0-0.5 6-5.5 5-2 0.5-2-1-3-2.5-1-2zM368 284l2.5 0-0.5 2-2 1.5z"/>
<path fill="#b3e606" d="M174 284l38.5 0-1.5 16 0 2 1 2.5 3.5 5.5 1 4-0.5 2-3.5 6-1 4 0 2 0.5 1.5 1 0.5 11 1 10-3 8 2 2 0 2-7.5 2-2.5 2 2 4 6.5 2 1 12 0 2-1 2-1.5 6-8.5 6-6.5 14-5.5 4-0.5 2 0 3 2 5.5 10-0.5 4-2 4.5-1 3.5 1 3.5 2 1.5 8 3.5 4 1 14-1.5 8 1.5 2.5-1.5 5.5-13 2-3 2-1.5 2 0 2 1.5 4 5.5 2 1.5 2 0 2.5-1 2-2 0.5-2 0-2-1.5-4 0.5-3 2 1.5 1.5 3.5 1 2 1.5 1 4 0 6-3 2 0 2 0 2 1.5 2 2.5 4 6 4 8.5 2 2.5 2 1 14 2.5 8 6.5 2 1 2 0 24-5.5 2-2.5 0-2-1-8 0.5-2 2-2 4.5-3 14-3.5 10-6 8-5.5 4-1.5 2-0.5 6 1.5 10 0 10 2.5 8 0.5 6-0.5 4 0.5 7.5 3.5 3 2 2.5 4 1.5 6 1.5 2.5 2 0.5 4-0.5 8-4.5 10 0 4-1.5 6-4 8-0.5 12-6 12-4 4-2 2-0.5 10 2.5 6 4 4 0 3.5-2 5-8 9-8 6-4 2-2 0.5-2-1-6 545 0 0 296-2 0.5-2 1.5 0 2 2 1.5 2 0.5 0 32.5-8-6.5-3.5-4-1-2 0-4 0.5-2.5 3.5-5.5 0.5-4-1-4-1-2-1.5-6-2-4-4.5-6-3-6-5-5-16-3.5-12-2-10 0-10-2.5-10-1-9-4-5-1-4-2-4-0.5-4-2.5-8-2.5-16-4.5-10-2-6-3-4-1.5-4-3-8-1-14 5.5-6 3.5-14 4.5-4.5 4-3.5 10-8 5-6 6.5-4 1-18-1-2 0.5-2 2 1 2 5 2 10 0 4 1 13 7 7.5 6 3.5 2 6 1 10 3 4 0.5 8-1.5 7-3 2.5-4 4.5-12.5 2-2 2 1.5 3 7 5 6 1.5 4 1.5 6 2.5 4 2.5 2.5 20 9.5 8 2.5 6 1 8 6 6 4 4 3.5 2 0 2-0.5 4-3.5 2-1.5 0.5 0.5 1.5 2 4 10 2 2 8 5.5 6 5 15 15.5 3 8 5 4 4 6 0.5 2-0.5 4-1023 0zM246 332l-1 2 1 11 1 1 9 2 2 0 2.5-2 2-4-0.5-2-6-3-4-4-2-1zM644 544l-4.5 2-3 2-3.5 4 0 4 1.5 4 1 2 2.5 2 2 0 4-2.5 7-5.5 2.5-4 0-4-1.5-2.5-2-1.5-2-0.5zM702 289.5l-1 2.5 1 2.5 2 0 1-0.5 0.5-2-1.5-2zM768 531.5l-6 3-4 1-10-1-4 0.5-8 3.5-4 1-10-1.5-4 0.5-5 1.5-5 2.5-2 0.5-4-0.5-6-2.5-4-1-10 2-10-0.5-4 0.5-2 1-1 2 0.5 4 4 12 2.5 2 4 0.5 6-1 4 0 12 5 12 1.5 8 4 16 2.5 12 4 10 1 24 4.5 10 0 10 1.5 12-0.5 14-3.5 20-3 10-3.5 15.5-5 2.5-2 1.5-2 0.5-2-0.5-2-1.5-2-4-2.5-8-1-8-2.5-18-7-2-0.5-8 0.5-14-4-8-1-8-3.5-14-1-2-1.5-2-3.5-2-1.5-4-0.5zM240 300l2-1.5 2 1 4.5 4.5 0.5 2-1 7.5-2 4-4-1.5-2 0-4 1-2-1 2-6z"/>
<path fill="#c1eb05" d="M174 284l34.5 0 0.5 8-1 10 3.5 10 0.5 2-5 12-5 8-0.5 2 0.5 2 2 1.5 2 0.5 2 0 2-1 4-4 4-1 10 2 6.5 0 2 2-0.5 0.5-6 1.5-2 3.5 0 7.5 1 1 1 0.5 10-0.5 10-2 8 0 4-1.5 9.5-10.5 1.5-6 1-2 4-6 4-4.5 6-4.5 12-5.5 2-0.5 2 0.5 3 2.5 2 4 0.5 4-5.5 12.5-2.5 3.5-0.5 2 7 0 14 3.5 12 0.5 16 6.5 2-0.5 3.5-6 0.5-2-1-4 0-2 1-3 2-2.5 2 0 3 3.5 3 1 4-1 20-8 2 0 2 1 6 7 2 4 2 6 2 3 2 0.5 8-0.5 8 1.5 2 0.5 6 5 2 0.5 2 0.5 24-5.5 2-1.5 1-2-0.5-10 1-2 2.5-2.5 4-2 12-3 18-11.5 4-1.5 2 0 6 2 9 0.5 13 3 12-1 6 1 6 3 2 2 2 4 0.5 6 1.5 2 2 1.5 2 0 5.5-1.5 6.5-4 10-0.5 4-1.5 6.5-4 9.5-1.5 12.5-6.5 13.5-4 2-0.5 8 1.5 8 4 4 0 3-1 2-2 4-6 7.5-8 11-8 1.5-2 0-2-1.5-4 8.5 0 2 4 2 6 1.5 2 2.5 2 4 0.5 2-0.5 1-2 0.5-4-1.5-3.5-4-4.5 524 0 0 294-8 0.5-2-1.5-5-7-3-3-1.5-5-1.5-2-5-4-16-3.5-12-2-8 0.5-12-2.5-10-1.5-8-3.5-6-1.5-2-1-6-1-4-2.5-8-3-16-4.5-10-2.5-8-3.5-6-3.5-4-0.5-6 0-8 4-4 1-6 3.5-14 4.5-5.5 5-3 8-1.5 1.5-6 3-6 5.5-2 1-2 0.5-6-1-6 0.5-6-1-2 0-3.5 2-1.5 2-0.5 2 1 2 3 2 5.5 1.5 8 0.5 4 1.5 14 8 4 4 2 1 6 1.5 6 0 12 3 8-0.5 10-2.5 2-2 1-2 3-8.5 2-3.5 3.5 6 4.5 4.5 1.5 3.5 1 4 1 2 4.5 6 6 3.5 14 6.5 10 3.5 6 1.5 8 5.5 5.5 3.5 2.5 2.5 2 1.5 2 0.5 6-1 3.5 6.5 2 2 10.5 6.5 4 3 8 7 9 9.5 1.5 2 2 6 5.5 4 4.5 6 0.5 2-0.5 4-1022.5 0zM644 542l-11.5 4-6.5 5-8 0-4 1.5-6 3.5-4.5 2-0.5 2 3 2 2 0.5 14 1.5 6-0.5 8 2.5 4 0.5 2-0.5 3-2 7.5-6 3-4 1.5-4 0-2-2-4-2.5-2-4.5-1zM770 527.5l-12 4-12 1-4 1-8 3.5-2 0.5-14-0.5-5.5 1-6.5 2.5-2-0.5-8-3-4-0.5-16 2-10 0-3 1.5-0.5 8 5.5 14 3 2 5 0.5 8-1 2 0 10.5 4.5 5.5 1 6 0 10 4 14 2 14 4 10 1.5 24 4.5 10 0 10 1.5 12-0.5 14-3.5 20-3 12-4.5 14-3.5 3.5-1.5 4.5-3.5 1-0.5-1.5-4-1-2-2.5-2.5-4-2.5-8 0-4-0.5-8-2-8-4-8-3-12-1-12-3.5-8-1-8-3.5-12-1.5-2-1.5-2-5-2-2-4 0zM884 567.5l-0.5 0.5 2.5 0.5 6 0 1-0.5zM922 566l-2.5 2 1 2 3.5 2.5 2 0 1-2.5-1-3-2-1zM1223.5 590l2.5-1 2-0.5 0 29-9.5-7.5-2.5-4-0.5-4 1-2 1.5-2.5 4.5-3.5z"/>
<path fill="#cfef04" d="M191 284l8 0 1 2 2 1.5 2 2.5 0.5 4-0.5 6 3 10-0.5 6-3 10-1.5 2-5.5 6-0.5 2 1.5 4 2.5 3 4 1 6-1.5 7-4.5 1-0.5 2.5 0.5 2 2 0.5 2 0 8 1 4 2 2.5 2 1 20-5 12-1.5 3-1 5-3.5 6-2 4 0 6 1 22-5 24 4.5 6 2 6 1.5 4 1.5 6 6.5 2 0 1.5-6.5 2-4 6.5-8 6-3.5 6-2.5 14-2.5 2 0 2 1 4 3.5 2 4 2.5 8 1.5 2 2 1 8-2 10 1 2 0.5 6 4.5 4 0.5 24.5-5.5 2.5-2 0.5-2 0.5-9 1.5-3 2-2 2.5-1.5 12-3 18-11.5 4-1.5 2 0.5 6 2 10 2 12 4 2 0 10-3.5 6 1 4 2 4 3.5 1 4 0 6 1 2 2 1 4 0.5 5.5-1.5 6.5-4 2-0.5 6 0 2-0.5 12-6 8-2 12-5.5 6-2 8-2 2 0 8 1.5 8 3 2 0.5 4-1 4-3 5-6.5 7-8 12-7.5 4 0 2 1 6 5.5 10 4 2-1 0.5-8-1-4-3-6 519.5 0 0 292.5-8-1.5-2-1-7.5-8-2-6-4.5-4-2-1-16-3.5-12-1.5-8 0-12-2.5-10-1.5-16-6-6-1-4-2.5-8-2.5-26-8-8-3-4.5-3-3.5-1-6 0-4 0.5-6 3-4 1.5-14 6.5-6 1.5-6 5.5-2 5-2 3-6 3-8 5-2 0.5-4-1.5-2 0-4 1.5-2 0-4-1.5-4 0.5-5.5 3-4.5 4 0.5 2 4.5 4 5 2 10 1 4 1.5 6 3.5 7.5 8 4.5 2.5 4 1 12 0 12 2 16-1 2-0.5 4-2 4-6.5 2-0.5 2 1 2 2 3.5 8 6.5 7 6 3.5 14 7 16 4.5 12 8 4 4 2 1 4 1 6.5 8 11.5 5.5 8 5.5 6 5.5 7 7.5 1.5 2 2 6 2.5 2 5 2.5 1 1.5 3.5 6-0.5 4-1022 0 0-329 4 0 1.5-1 1.5-2 0-2-0.5-2-2.5-3.5-4-3 0-7 2-1 1.5-3.5-1-6 0-6-1-2-1.5-1 0-10 6-5.5 2-1 8 0 2-1 1.5-1.5 0-2zM776 523.5l-18 5.5-16 3-10 4-14-0.5-12 2.5-10-3-4 0-18 1.5-10 0-6 1.5-2 1-10 1-19.5 4-14.5 4.5-3.5 1.5-2.5 2-2 1-4 0-1.5-1-2.5-3-1.5-1-2.5 0-4 0.5-2 1-1 2.5 1.5 2 7.5 3.5 7 4.5 5 2.5 4 0.5 20 1.5 8 1.5 4-0.5 3.5-1.5 9-6 5.5-5 2 0 2 3 2 5 2 2 2 0.5 6 1 10-1 10 4 14 1.5 8 3 15 2 13 4 12 1.5 22 4.5 10-0.5 10 2 12-0.5 20-4.5 14-2 12-4.5 20-4 10 0.5 12-0.5 10 2.5 8 0.5 6 2.5 4.5-1.5 1.5-2 1-2 0.5-8-0.5-2-1-1-2-0.5-4 0.5-10 2.5-5.5-5.5-4.5-1.5-4 1-8 5-4 0-2-1-9-9.5-3-1.5-10 3-8.5-1.5-5.5-2-6-3.5-6-2-4-1-6 0-4-0.5-12-4-8-1.5-6-3-12-2-2-1.5-2-5-3-2zM950 561.5l-2 2.5 1.5 4 2.5 2 3 0 1.5-2 0-2-1.5-4-1-1-2-0.5zM300.5 314l1.5-0.5 2 0.5 1.5 2 1 2-0.5 2-4 8-3 4-3 3-4 1.5-6-0.5-4-2-1-2 0.5-2 1.5-2 5-4.5 2.5-3.5 2-2zM1226 594l2-2 0 25-6-4.5-4-3.5-1.5-3-0.5-2 0-2 2-3.5z"/>
<path fill="#ddf403" d="M711 284l517 0 0 291-8-2-2-1-6-6-1-2-1-4-1.5-2-4.5-3.5-2-1-26-4.5-10 0.5-12-3-10-1-16-6.5-5.5-1-12.5-5-18-5.5-16-6-4-2.5-4-0.5-8-0.5-2 0.5-6.5 3.5-6 2-12.5 6-5 1-6 5-4 7-12 6.5-2 0.5-6-2.5-2 0-4 3-2 0-4-0.5-4 0-10 5-2 0-4-1-8-5-2-3.5-2-5.5-1.5-2-3.5-2-4 0-5 3.5-6-0.5-4 0.5-3.5 2.5-0.5 2.5 2 2.5 8 0.5 6 3 6 0.5 2 1 0.5 2-2 2-4.5 1.5-2 0-6-4.5-6-1-4 0.5-6 3-4 0-8-2.5-6-5-2-0.5-4 0.5-8 3.5-4-0.5-7-3-3-0.5-4 0.5-4 3-2 0.5-6-0.5-4-1-4-2-4-4.5-12-2.5-8 0-5.5-1-4-2-4.5-4.5-2-0.5-4 0-4.5-3-5.5-2-8-1-6-4-4-1-4 0.5-8 2.5-10 3-14 2.5-10 4-14 0-12 1.5-10-2.5-4 0-18 1.5-14 0-6 2-16 3.5-12 1.5-16 3.5-4 0.5-8-2-12 1.5-2 1-1.5 1.5-1.5 4 0.5 2 2.5 2 8 3 10 5.5 6 2 20 1 12 1.5 4-0.5 10-5 6-1 6 3.5 4 1 6 0.5 10 0 10 3.5 6 1 6 0 10 3 14 1.5 14 4.5 22 3 12 3 10-0.5 10 2 12-0.5 20-4.5 14-2 12-4.5 20-3 22 0 6 1 16 4.5 4-0.5 4-2 3-3 3-8 2-3 2-0.5 2 2 3.5 5.5 3 2 3.5 1 4-0.5 8-3 6-3.5 2-0.5 8 3 12 2 4 1.5 3 2 2 2 3.5 6 2 2 5.5 2.5 4 1 4 0.5 8-1 14 1.5 16-1 9-1.5 3-2 2 0.5 3 3.5 5 4 4 4 6 4 14 6.5 10 3.5 4 0.5 6 3.5 8 5.5 4 3.5 5 3 4.5 6 2.5 2 14 6.5 10 8 6.5 7.5 2 4 0 2-3.5 6-0.5 6-2.5 4-0.5 2-999.5 0 0-322.5 7-1.5 9-5.5 26-7 2 0.5 4 10 2 3.5 2 1.5 2 0.5 20-6 12-1 10-4 4-0.5 10 0 16-5 6-1 6 0.5 22 6 8 1.5 4 2.5 6 7 2 0 2-3 2.5-8.5 5.5-7.5 8-5.5 4-1.5 4-0.5 12 1.5 2 0.5 2 2 2 3 2 6.5 2 3.5 2 1 2 0 8-2 10 0.5 2 0.5 6 4 4 0.5 16-3.5 10-3 2-2 0.5-2 0.5-8 1-2 2-3 4-2 10-2.5 16-10.5 4-2 2 0 22 6.5 8 3 4-0.5 8-3.5 4 0.5 4 1 4 3 1.5 2 0 2-1 6 0.5 2 1 1.5 2 1 4 1 2 0 4.5-1.5 9.5-5 6 0 2-0.5 12-6.5 8.5-2 7.5-3.5 4.5-2.5 5.5-2 8-1 10 1.5 8 2.5 6-0.5 2-0.5 2.5-2 13-16 6.5-4 4-1.5 4 0.5 2 1 6 5 8 5 4 0.5 2 0 2.5-2.5 0-2-2.5-10zM198 304l2 0.5 2 2 1 3.5-0.5 4-4 6-1.5 6-3 2-2 0.5-4 0.5-2-0.5-2-2-2.5-6.5 0-4 0.5-2 2-2.5 2-0.5 6 1 2-1 2-5.5zM1225.5 596l2.5-1 0 21-8.5-6-1.5-2-1.5-4 0-2 1.5-2.5zM1182.5 668l1.5-1 2 0 4 1 2 1.5 3 4.5 0.5 2 0 4-18 0 2-6z"/>
<path fill="#ebf802" d="M713 284l33.5 0-1 4 0 2 0.5 1 6 4 2 0.5 1.5-1.5 0-2-2.5-8 475 0 0 289.5-10-3-6-6.5-1-4-1-2-5-4-3-1.5-26-4-10 0-12-2.5-10-1.5-16-6.5-4-0.5-28-10-4-0.5-4-2.5-12-4-4.5-2.5-3.5-0.5-10 0-8 4-12 5-6 3-4 1-2 1-5 4.5-3 4.5-2 1.5-10 4.5-2 0-6-2-2 0.5-6 2.5-8-0.5-10 3.5-3-0.5-3-2-5-6-7.5-6-3.5-2-4-0.5-3 0.5-5 2-6 0.5-4 1.5-10 7.5-6 2.5-4-0.5-4-2-4-0.5-14 3-4-0.5-6-2-4 0-3.5 0.5-4.5 3-2 0.5-4-0.5-3.5-1-2.5-4.5-1.5-1.5-2.5-1-28-5.5-8-4.5-8-2-8-3-10-2.5-4-2-4-1.5-4 0.5-12 4.5-12 2.5-8 1-8 4-4 1-12-0.5-12 1.5-10-2.5-4-0.5-18 2.5-14-1-20 5.5-13 1.5-17 3.5-4 0-8-2-14 1.5-2 1-1.5 2-2.5 6 0 2 2 2.5 12 4.5 10.5 5 5.5 2 22 1 10 1.5 4-1 8-3 4-1 14 3 14 0.5 12 3.5 12 1 10 2 12 1.5 16 5 22 3 12 3 10-0.5 10 2 12-0.5 22-5 12-1.5 14-5 20-1.5 14-0.5 6 0 6 1 14 4.5 4 0 6-2 8-6 2-1 7.5 2 6.5 0.5 3.5-0.5 6.5-2.5 8-3.5 10 2.5 8 0.5 4 1.5 4.5 3.5 5.5 9 4 3 4 1 6 0.5 12-1 14 1 14-0.5 12-1 2 0.5 6 3 6 5.5 6 4 12 6 16 5 6 3 6 4 6 5.5 2.5 1.5 7.5 8.5 16 8 10 7.5 4.5 6 1.5 4-4.5 12-3.5 4-1 2-0.5 2-994.5 0 0-319 8-3 10-4.5 14-5.5 4-1 4 0 2 0.5 2 2.5 4 7 2 2.5 2 1.5 2 0 8-2 10-3.5 14-1.5 12-4 14-1 16-5 4-1 10 2 17 5 9 1.5 3.5 2.5 5 6 1.5 1 2 0 2-1.5 1-1.5 3-10 4-5.5 2.5-2.5 5.5-3.5 6-2 4 0.5 8 1.5 4 2 2.5 3.5 1 4 0.5 4-1 4 1 0.5 8-1.5 6-2 4-0.5 10 0.5 6 4 4 0.5 16-3.5 10-3 3-3 1-2 0.5-8 1.5-3 2-2 12-3.5 18-11.5 4-1 30 10.5 4-0.5 8-3.5 4 0 4 1 2 1.5 2 2 0.5 2-2 8 1 2 4.5 2.5 4 0.5 2 0 6-2 8-4.5 6 0 14-7 11-3.5 5-2 6-3.5 4-1.5 8-0.5 10 1.5 8 2.5 4 0 4-1 2-1.5 2-2 11-14 3-2.5 6-3 2-0.5 4 1 10 7.5 6 3.5 6 1 4-1 3-2 1-2-4.5-8zM472 357.5l-1 0.5-0.5 2 1.5 3 2 1 0.5-2-0.5-2zM1222.5 598l5.5-2 0 19.5-8-5.5-3-4 0-4 1-2 2-1.5zM1183.5 670l2.5-1.5 2 0 2 0.5 2 1.5 2.5 3.5 0.5 2 0 4-14 0 1-6z"/>
<path fill="#f9fd00" d="M714.5 284l28 0-1 6 0.5 2 6.5 6 2 4 1.5 1 2 0 2-1.5 2-3.5 1.5-4 0-2-3-8 471.5 0 0 287.5-10-3-4.5-4.5-1.5-5-2-3-4-3-4-1.5-12-1.5-14-3-10 1-10-2.5-10-1-18-7.5-6-1-24-8.5-6-1.5-4-3-12-3.5-6-3-6 0.5-4-0.5-4 0.5-6 4-13 5-5 3-6 1-8 8.5-2 1.5-10 4-10-1-6 2-2 0-8-1.5-6 2.5-2 0-2-1-5.5-5-10.5-6-4-2-4-0.5-4 0.5-6 2.5-8 1.5-10 5.5-6 2.5-4 0-8-1-10 2-4 0.5-10-1.5-6-0.5-4 1-4 2-2 0-2-0.5-3.5-4-4.5-2.5-30-6-8-4-6-1.5-10-4-8-2-8-3-4-0.5-12 4.5-14 2.5-8 1-8 4-4 1.5-12 0-12 1-10-2.5-4-0.5-18 2.5-14-1-4 0.5-8 3-8 2-14 1.5-16 3.5-4-0.5-8-2.5-16 0.5-2.5 2.5-4.5 10 0 2 0.5 2 3.5 2 13 4.5 10 4.5 6 2 22 1 10 1.5 4-0.5 8-3 4-0.5 12 2 16 1 12 3.5 12 0.5 10 2 12 1.5 16 5 22 3 10 2.5 4 0.5 8-0.5 10 2 12-1 22-4.5 14-1.5 10-4 4-1 12-0.5 18-1.5 6 0 6 1 14 4.5 6 0.5 4-1 10-5.5 4-0.5 10 0.5 4 0 16-6 18 2.5 4 1.5 2.5 2 5.5 9.5 4 4.5 2 1 12 0 10-1 42 0 6 3 10 8 10 5.5 6 2.5 14 4 6 3 6 4 9 8 6.5 8 12.5 5.5 6 3.5 8 7 3 4 1 4-1 4-3 6.5-5 5.5-1.5 4-991.5 0 0-317 34-14 4-0.5 3.5 1.5 2.5 2.5 4.5 7.5 3 2 2.5 0.5 8-2 12-4 12-1.5 12-3.5 10-0.5 6-1 14-5 4-1 10 2.5 14 4 12 2.5 2 1.5 6 7 2 1 2 0 3-2.5 3.5-10 4-6 3.5-3.5 4-2.5 2-1 4-1 6 0.5 6 2 2.5 1.5 2 2 1 6-1 4-3 6 0.5 1.5 2 0 10-4.5 10-3 12 0.5 6 3.5 4 0.5 16-3.5 8-2.5 4-2 2.5-2.5 0.5-2 1-8 2-3.5 2-1 10-3 18-11 4-1 2 0 12 5.5 16 5 4-0.5 8-3.5 2 0 4 0.5 4 2.5 1 2-0.5 2-2 6 0.5 2 1 1 2 1.5 4 1.5 6 0 6-1.5 8-4.5 6 0 15-8 12.5-4 4.5-2 4-2.5 4-1.5 8-0.5 18 4 8-1 4-2.5 13-16 3-2.5 4-1.5 2-0.5 4 1 9 7.5 7 3.5 6 1 5-0.5 3-2 1.5-2 0.5-2-0.5-2-5.5-8.5zM828 285.5l-0.5 0.5-0.5 2 1 4.5 2 1 2-0.5 2.5-1 1.5-2 0-2-2-2zM470 354l-1 2-0.5 2 1 4 2.5 3.5 2 1 2 0 1-2.5-1-4-4-5.5zM1225 598l3-1 0 17.5-8-5-2-2.5-1-3 0.5-2 1.5-2zM1186 670l2-0.5 2 0 2 1.5 2.5 5 0 4-11.5 0 0.5-6 1-2z"/>
<path fill="#fffb00" d="M716 284l23.5 0-1.5 6 0 2 1 2 5 4.5 3 7.5 1 1.5 2 1 4 0.5 2 0 1-1 5.5-14 0-2-0.5-2-2-3-1-3 61 0 0.5 6 1 4 2.5 3 2 1 2 0.5 2-0.5 4-2 3-2 1.5-2 1-4-1-4 389.5 0 0 286-7.5-2-2.5-1.5-2.5-2.5-2.5-6-1.5-2-3.5-3-4-2.5-6-1.5-8 0-10-3-4 0-8 1-12-2.5-10-1-4-1.5-6-3-8-2.5-6-1.5-12-4.5-8-2-4-2-6-1.5-4-3-12-3-6-3-2 0-4 0-6-0.5-2 0.5-8 5-12 5-4 2-6 1.5-8 7-10 4.5-4 1-8-1-8 1.5-8-2.5-6 0-4-0.5-18-8.5-6-1.5-4 0.5-6 2-8 2-12 5-6 1.5-8 0-14 2.5-14-1-14 0-8-4-30-5.5-10-4.5-6.5-2-9.5-4-8-2-8-2.5-4-0.5-12 4.5-22 2.5-4 2-6 3.5-6 1-20 1-10-2.5-4-0.5-18 2.5-12-1-4 0-19.5 6-10.5 1-18 2.5-4-0.5-8-2.5-18 0-3 1.5-1.5 4-3.5 5.5-2-0.5-1-5-1-2-2-1-2 0.5-0.5 0.5 0.5 6 0 2-1 2-3.5 4 0.5 2 8.5 2 7.5 1 12 3.5 6 2 10 5 6 1.5 20 0 10 2 4-1 8-2.5 4 0 12 1.5 14 0.5 14 3.5 12 0.5 22 3.5 16 5 22 3.5 10 2 4 0.5 8-0.5 10 2 12-0.5 22-5 14-1 10-4.5 4-0.5 12 0 18-2 6 0 8 1 12 4 6 1 4-1.5 8-3.5 4-1.5 4-0.5 12 0 16-5 4 0 14 1.5 4.5 2.5 7.5 12 4 4 2 1 14-0.5 12-1.5 16 0.5 14-0.5 8 0.5 6 2.5 10 8.5 10 5 6 2.5 14 4 6 3 7 5 7 7 6 7.5 4 2.5 14 6.5 8 6.5 3.5 4 1 4-1 4-3 6-6 6-1.5 4-989 0 0-315.5 16-7 18-7 4 0 2 0.5 3 3 5 7.5 2 1.5 4 0.5 8-1.5 12-4.5 14-1.5 10-3 16-2 14-5 4-1 10 2.5 13.5 4.5 10.5 2 3.5 2 6.5 7 2 1 2 0 2-1 2-3 3.5-10 4.5-6 6-5 4-1.5 2-0.5 4 0.5 4 1 4 1.5 2.5 2 1 2 0 4-0.5 4-3.5 6 0 2 2.5 1.5 2 0 16-7 4-1 12 0 6 4 4 0 16-3 14-5.5 1-1 1-2 1-8 1.5-4 3.5-2 6-1.5 4-1.5 14-9 4-2 2-0.5 2 0.5 12 5.5 14 5 2 0 4-0.5 10-4 4 0.5 2 1.5 1 2 0.5 2-2.5 6 0.5 2 1 2 3.5 2 4 1.5 6 0 6-1.5 8-4.5 6 0 16-8.5 14-5 7-4 3-1 4-0.5 4 0 18 4.5 8-1 4-2.5 14-17 6-3.5 2 0 4 1 6.5 6 7.5 4.5 8 1.5 6-0.5 2-1 2.5-2.5 1-4-1.5-4-6-10zM470 351.5l-2 1.5-0.5 3 0 4 0.5 2.5 2 3 2 1.5 4 1 2-0.5 1-1.5-1.5-6-3.5-5.5-2-2.5zM528 548l-2.5 2 6.5 1 3 1 3 0.5 2.5-0.5 1-2-7.5-2zM1227.5 598l0.5 0 0 16-4-2-4-3-2-3-0.5-2 0.5-2.5 2-1.5zM1186 672l2-1.5 2 0 2 1.5 2 4-0.5 4-9 0 0-4z"/>
<path fill="#fff500" d="M717 284l19.5 0-2.5 6 0 4 2 2.5 5 3.5 1 2 1.5 6 1 2 2 2 7.5 2.5 8 4.5 2 0 1-1-0.5-2-3-6-0.5-6 1.5-4 3.5-8 0-2-4.5-6 56 0 0.5 10 2 3 2 2 2 1.5 2 0.5 6-1.5 4-2 4.5-3.5 2-4 0.5-6 385 0 0 284.5-8-2.5-2-2-5-8-3-3.5-4-2.5-4-1.5-4-1-8 0-8-3.5-6 0.5-5 1.5-3 0-12-2.5-10-1-10-4.5-16-4.5-12-4.5-6-1-4-2.5-4-0.5-2-0.5-4-3-10-2.5-6-3-4-1-4 0.5-4-0.5-4 0.5-8 5-12 4.5-4 2.5-6 1-3 1.5-5 5.5-2 0.5-12 4.5-8-1.5-8 0.5-8-2.5-10 0-18-8-4-1.5-4 0-4 0.5-26 9.5-10 1-12 2.5-4 0.5-22-2-6-1-7.5-2.5-6.5-1.5-24-3.5-4-1.5-6-3-8-3-8-3.5-15-4-5-0.5-4 1-4 2-4 1-8 0.5-14 2.5-4.5 1.5-7.5 4-18 2-6 0-10-2.5-4-0.5-18 2.5-14-1-6 1-12 4-6 1.5-24 2-4 0-8-3-4-0.5-18 0.5-6 1-10-0.5-5.5 1.5-2 2-0.5 2 2 4-0.5 2-1.5 0.5-2-0.5-6-4-2 0-6 2-8 1-10 2-3 1-0.5 2 1.5 2.5 2 1.5 2 0.5 8 0 8 1 10 0 8 4.5 2 1 12 0.5 4-0.5 4 0 14 4 12 5.5 6 2 6 0 14-0.5 10 2 14-3 14 1.5 14 0 14 4 12 0 22 3.5 16 5 22 3.5 10 2.5 12-0.5 10 2 4 0.5 10-1.5 22-4.5 12-1 4-1 6.5-3 3.5-1 12 0.5 18-2 10 0 4 0.5 12 4.5 6 0.5 16-6 6-0.5 12-0.5 14-4.5 4-0.5 12 1.5 4 1.5 2 2 3 6 2.5 4 6.5 6 2 0.5 14 0 14-2 12 0.5 16-1 8 0.5 6 2.5 10 8.5 10 5.5 12 4.5 8 2 6 3 6 4 14 15 4 2.5 14 6.5 6.5 5.5 3 4 1.5 4-1 4-3.5 6-6.5 6-1 4-987 0 0-314 16-7 8-3 10-4.5 4 0.5 2 1 2 1.5 4 6.5 2 2.5 2 1 4 0.5 8-1.5 12-5 12-1 12-3.5 18-2 12-5 4-0.5 10 2.5 12 4 12 2.5 2 1 7 7.5 3 1.5 2 0 2-1.5 3.5-4 3.5-10 3-4.5 6.5-5.5 3.5-1.5 2 0 4 0 4 1.5 4 2 1.5 2 0.5 2 0 4-1.5 4-2.5 4 0 2 1 2 1 0.5 4 0 14-6 6-1.5 10-0.5 2 0.5 6 4 2 0 8-2 10-1 12-4.5 1.5 0.5 1 10 2 4 2 2 3.5 1.5 6 0 2-1.5-3-8-3.5-6-5.5-6 0-8 1-4 1-1.5 2-1 10-3 9-6.5 9-4.5 4 0 12 5.5 14 5 6-0.5 10-4 3.5 0.5 2 2 0.5 2-2.5 6 0 2 1.5 2 3 2.5 4 1.5 4 1 4 0 6-1.5 8-4.5 6 0 8-5 8-4 14-4.5 10-5.5 4-0.5 4 0.5 18 4.5 4-0.5 6-1.5 4-3.5 12-15 2.5-2 3.5-1.5 2-0.5 4 1.5 7 6.5 8 4 9 1.5 4 0 2-1 4-4.5 0.5-4-1-4-6-10zM202 383.5l-1 2.5 0.5 6 2.5 2 2 0 2-1 1.5-3 0.5-4-2-3-2-0.5-2 0zM1221.5 600l6.5-1.5 0 15-6-3.5-3.5-4-0.5-2 0.5-2zM1187.5 672l2.5-0.5 2 1.5 1 3 0 4-7 0 0.5-6z"/>
<path fill="#ffef00" d="M718.5 284l14.5 0-1.5 6 0 4 2 4 4 4 1.5 2 1 6 1.5 4 2.5 2.5 2 1 6 1.5 2 1.5 2.5 3.5 3.5 1 5.5-1 3.5-2 0.5-2-0.5-2-4.5-8-1-6 2-6 8-14 42 0 0 8 1 4 1.5 2.5 3.5 3.5 4.5 1 4-0.5 4-1.5 8-5 2-2 3-6 3.5-4 377.5 0 0 282-8-3-4-4-6-8-8-4.5-4-1-8 0.5-6-3.5-2-0.5-6 1-6 2-2 0-10-2.5-10.5-0.5-11.5-4.5-16-4.5-12-5-6-1-4-2-4-0.5-2-0.5-4-3-12-3.5-6-3-2-0.5-4 1-6-0.5-2 0.5-8 5-10.5 4-5.5 3-7.5 1-3 2-3.5 4-2 1-12 4-22-4-12-1-18-7-8-2-6 1-12 5.5-10 3.5-10 1.5-14 3-4 0-20-1-8-1.5-18-5-20-2.5-4-1.5-6-3.5-10-3-8-4-12-3-6 0-4 0-6 2.5-10 1-16 3.5-12 4.5-18 3-6-0.5-8-2.5-4-0.5-18 2.5-14-0.5-5 0.5-19 5-18 2.5-8-1-10-3-4-0.5-36 1-8 2-6 0.5-3 1.5-5 4.5-4 1.5-21.5 4-4.5 2 8 8 2 1 4 0.5 8-0.5 8 1.5 8-0.5 4 2 4 3 4 1 10 0 8-1.5 2 0 14 3.5 14 7 4 1 6 0 14-1 10 2.5 14-3 14 1.5 14-0.5 12 4 14 0 20 3 5.5 1.5 12.5 4.5 30 5.5 4 0.5 10-0.5 10 2 14-1 10-2 12-3 12-0.5 6-2 6-2.5 4-0.5 12 1 18-2.5 8 0 4 0.5 12 4.5 6 0.5 16-6 6-1 12 0 14-4.5 4-0.5 12 1.5 2 0.5 2 1.5 3.5 8 1.5 2 9 7.5 2 0.5 4-0.5 10 0.5 14-2 12 0.5 16-1 8 0.5 6 2.5 8.5 7.5 11.5 6.5 12 4.5 8 1.5 6 3 6 4.5 14 15 18 9 4.5 4 3.5 4 1.5 4-1 4-4 6-5 4-1.5 2-1 4-985 0 0-288 2.5-2-0.5-2-2-1.5 0-18.5 14-7 10-3.5 10-4.5 4 0.5 2 1.5 2 2 4 7 2 1.5 6 0.5 8-1.5 12-4.5 12-1 12-3.5 20-2.5 10-5 4-0.5 9 2.5 13 5 10 1 3.5 2 6.5 7.5 4 1.5 2-0.5 2-1 3.5-3.5 2-4 2.5-7.5 3-4.5 5-4.5 3-1.5 3-0.5 6 1 3.5 1.5 2.5 2.5 0.5 1.5 0 4-4.5 10 0 2 2 1.5 4 0.5 2 0 14-6 6-1.5 10-1 2 0.5 4 3.5 4 0.5 10-2 8-0.5 10-4 2 0.5 1.5 10 3 4 3.5 2.5 6 0.5 6 2 2.5-1 1.5-2-0.5-2-3.5-2-2-2-4-8-5.5-8-1-4 0-6 1-2 1.5-1 10-3 10-7.5 8-3.5 4-0.5 12 5.5 14 5.5 6-0.5 8-3.5 4-0.5 1.5 1 0.5 2-2 6 0 2 2 3 2 1.5 4 2 6 2 4 0 6-1.5 8-4.5 6-0.5 8-5 6-3 16-5.5 10-5.5 4-0.5 4 0.5 18 4.5 4-0.5 6-1.5 4-2.5 14-17 4-2 2-0.5 2 0.5 8 7 8 4 6 1.5 10 0.5 5-5 1.5-2 0-2-1.5-6-7-11.5zM868 593l-2 1 1 2 1 0.5 2.5-2.5-0.5-0.5zM888 587.5l-1 2.5 1 2 2 1.5 2 0.5 2-0.5 1-1.5 0-2-1-1.5-4-1.5zM202 379.5l-2 1-2 1.5-0.5 2 1.5 8 1 3 2 2 4 0.5 3.5-1.5 1-2 2-6 0-4-0.5-2.5-2-2-4-0.5zM280 397.5l-0.5 2.5 0.5 4 2 3 2 1 2-2 0.5-2-0.5-5-2-2-2 0zM496 548l1 2 3 1 2 0 3-1 1-1 1.5-1-5.5-1zM1223 600l5-1 0 14-6-3.5-3-3.5-0.5-2 0.5-2 1-1zM1187.5 674l2.5-1.5 1.5 1.5 1 2-0.5 4-4.5 0-0.5-4z"/>
<path fill="#ffe800" d="M720 284l10.5 0-2 12-0.5 0.5-6-7.5zM778 284l36 0-0.5 10 1.5 4 2.5 4 2.5 2 4 1 6.5-1 6-2 7-4 6.5-6.5 6-3.5 2-1 2 0.5 4 2.5 2.5 0-4.5-6 366 0 0 279-8-2.5-4-3.5-4-6-2-2-10-5.5-4 0-4 1-2-0.5-4-3-2-0.5-8 1-6 2-2 0-10-2.5-8 0.5-14-5-14-3.5-12.5-5-5.5-1-6-3-4 0-6-4-12-3-6-3-2-0.5-4 1-6-0.5-2 0.5-10 6-9.5 3.5-4.5 2-6 1-2 0.5-4 2.5-2 2.5-2 1-8 3-4 1-4-1-8-2-18-2.5-10-4-16-4-6-1-4 1-12 6.5-12 4-8 0.5-16 3.5-10-1-10-0.5-12-2-16-4-20-3-4-1.5-6-3-10-3.5-8-4-10-2.5-10-0.5-34 7.5-12 3.5-18 3.5-6-0.5-8-2.5-4 0-18 2-14 0-6 1-18 4-16 2.5-6-0.5-10.5-3.5-5.5-1-18 1-16-0.5-10 1.5-8 0.5-4 1.5-6 6-4 1.5-12 3-27 2.5-6.5 2-0.5 2 4 2 8 2 10 1.5 6 4.5 2 0.5 14 0 8 2 6 0 7.5 3.5 4.5 1 12-1 8-2 2 0 14 3.5 12 6.5 6 1.5 6 0.5 10-1.5 4 0 10 2.5 14-3 14 1.5 14-0.5 4 1 6 2.5 2 0.5 14 0 20 3 14 5 8 2 8 2 9.5 1 8.5 2 14-1 12 2.5 10-1 12-2 10-3 14-0.5 8-2 6-2.5 4-0.5 3.5 2-1 2-6.5 3-1 1 0 2 3 4.5 2 2 2 0.5 2-0.5 6-5.5 4-1 2 0.5 6 4.5 2 1 4 0.5 2-1 2.5-3.5 2-6-2.5-6 4-1.5 4 0.5 10 3.5 8 2.5 14-6 6-2 16 0 7.5-3 6.5-2 14 1.5 2 1 1.5 1.5 0.5 2 0 6 2 2 6 2 6 5.5 6-0.5 4 1 8 0 6-2 6-1 12 1 16-1.5 8 0.5 6 2.5 8 7.5 10 6 14 5.5 8 1.5 4.5 2 5.5 4 5.5 6 10 10 16.5 8 5 4 3.5 4 1.5 4-0.5 2-3.5 6-6.5 6-1 2-1 4-983.5 0 0-284.5 4-0.5 2.5-1 2-2 1-4-1.5-5-8-7.5 0-5 3-2.5 11-5.5 10-3.5 8-4 2-0.5 2 0 2 1 2 1.5 1.5 3 0.5 2-1 2-4 4-3 5.5-4 2.5-7.5 2-2.5 2 0.5 4 2 8 1.5 4 2 2.5 2 1 2 1 4-0.5 2-0.5 1.5-1.5 2-4 2-6 0.5-8 3-8 1.5-2 3.5-2 12-2 4-1 6.5-3 3.5-1 10-0.5 14-4 18-2 4-1.5 6-3.5 4-0.5 15.5 5 3.5 2 3 2.5 2 0.5 4-0.5 4 0.5 2 1 6 7 2 1 4 0.5 4-1.5 4.5-5 5-12 3-4 5.5-4 2-1 4-0.5 4 1 4 2.5 1 2 0.5 2-2 6-3.5 6-2.5 2-1 2 1.5 1 2 0.5 12-1 12-5 6-1.5 10-1 2 0.5 4 3.5 4 0.5 10-2 8-0.5 8-3.5 2 0 1.5 2.5-0.5 8 2 2 5 3 8 1.5 6 3.5 2 0.5 2-1.5 2-3 2-4 0-1-0.5-1-5.5-1.5-2-1-2-2.5-8.5-15-0.5-4 0.5-4 0.5-1 2-1.5 6-1 4-1.5 8-7 8-3.5 4-0.5 14 6.5 12 4.5 6-0.5 10-3.5 2 0.5 0 2.5-2 4 0 2 1.5 2 2.5 2.5 4 2.5 6 2 4 1 8-1 8-4.5 6-0.5 2-1 8-5.5 8-3.5 10-3.5 10-5 3.5-1.5 6.5 0 18 5 4-0.5 6-1.5 5-3 13-16 3-2 3-0.5 2 0.5 6 5.5 6 3 8 3 8 1 4 1.5 2-1 4-5 4-1 2 0.5 8 10 3.5 2.5 10.5 3.5 6 0 10-2 2.5-1.5 0-2-8-12-0.5-6 1-4 1-2.5 4-5.5 5-6zM928 594l-1 0 1 1.5zM960 586l-1.5 2 0 2 1.5 4 1.5 2 2.5 0.5 2 0 4-2.5 0.5-2-0.5-2-4-4-2-1-2 0zM278 389.5l-2 1-2 1.5-0.5 2 0.5 4 4 10.5 4 4 2 1.5 2 0 2-1.5 3-6.5 0-4-1-4-2-5-2-2.5-4-1.5zM458 367l-1 1-0.5 2 1.5 1 2.5-1 0.5-2-1-1zM506 346.5l-0.5 1.5 0.5 1 2 0 1.5-1-1.5-2zM574 353l-1.5 1-0.5 2 2 3.5 6 6 2 0.5 2-1 1.5-3 0-4-2-2-5.5-3.5-2 0zM729.5 298l0.5-0.5 5 6.5 0 2-1 1.5-2-0.5-2-3zM1225.5 600l2.5-0.5 0 13-4-2-3-2.5-1.5-2-0.5-2 1-2.5zM1189 676l1-1.5 1 1.5-0.5 4-1 0z"/>
<path fill="#ffe200" d="M722 284l5.5 0-1.5 5-2-1zM780.5 284l31.5 0-0.5 10 1 4 3.5 6.5 2 2 2 0.5 4 0 12-2.5 8-3.5 8-5 4-1.5 2 0 10 2 4-0.5 2-0.5 2-1.5 1-2-0.5-2-2.5-3-3-3 357 0 0 277-6-1-3.5-2-2.5-3-4-6.5-10-7-4-0.5-6 1.5-2-0.5-4-3-2 0-8 1-6 2-12-2-8 0.5-6-2.5-22-5.5-12-5-6-1-5-2.5-5-0.5-6-3.5-12-3.5-6-3-2-0.5-4 0.5-8 0.5-10 6-14 5.5-6 0.5-2 1-4 2-4 3-10 4-4 0-10-3.5-16-2-10.5-4.5-13.5-3.5-10-1.5-4 1-12 7-10 4-10 0.5-12 3.5-4 0.5-10-1.5-12-0.5-12-2-14-4-20-3-4-1.5-6-3-10-3-6-3.5-3.5-1.5-10.5-2-8 0-4 0-20 5.5-13.5 2.5-8.5 2.5-8 1-8 2-6 0-10-2-8-0.5-14 2.5-10-0.5-8 1-22 4.5-12 2-6 0-10-4-6-1.5-20 1.5-16-1-10 1.5-8 0-3 1-3 1.5-6.5 6.5-11.5 3.5-24 2.5-20 3.5-8-1-11.5 1.5-2.5 1-4 1-4 2-3.5 4-2 2 0 2 3.5 1 4-1 2.5-2 5.5-6 4-1 4-0.5 8.5 1.5 6.5 4 19 2.5 3 1.5 7 4 6 1 10 0 12 4 14 1.5 22-4 4 0 16 3.5 12 7 10 1 4 0 5-2 3-0.5 3.5 0.5 6.5 3 2 0 14-2.5 6 0 10 1 8-1.5 4 0 4 1.5 6 3.5 16-1 14 2 7.5 2 8.5 4.5 10 3 6 2.5 12 0.5 10 2 14-2 12 3 10 0 6-2 8-1 8-3.5 10 0.5 8-1.5 2 0.5 2 1.5 3 4 7 7.5 2 1 2 0.5 2-1 4-3.5 2-0.5 2 0.5 6 3 4 1 4 0.5 3-1 3-2.5 7-9.5 0.5-2-0.5-2 1-1 6.5 1 4.5 2 4.5 6 4.5 4.5 2 1 4 0.5 3-2-0.5-2-5.5-8 0.5-2 8.5-4 8-2 4 0.5 3.5 1.5 0.5 6 1 4 3 4.5 2 1.5 2 0 6-1.5 4-0.5 2-1 1-1 0-4-1-2-9-8 1-2 4-2 4-0.5 4 0.5 8 2 1 2-1 6 0.5 2 1.5 3 2 1.5 6-1 2 1 2 1.5 2 3.5 2 1 6-1.5 12 1 6-2.5 6-1 14 1.5 14-2 8 0 5 2 8.5 8 8.5 5.5 16 7 8 1 5 2.5 5 4 3.5 4 10.5 10 4 2.5 14 7 5 4.5 3 4 0 2 0 2-4 6-6.5 6-1 6-982.5 0 0-282.5 6 0.5 4-1.5 4.5-4.5 1.5-3.5 2 1 3.5 6.5 4.5 5 4 1.5 6 0 2-1 2.5-3.5 3-8 1.5-8 2-6 3-5 2-1 14-3 10-3.5 4-0.5 6 0.5 2-0.5 5-3 5-2 10-1.5 6-0.5 4 1 2 1 2.5 4 1.5 1 2 1 8 1 2 1.5 2 5.5 2 2 2 0.5 12 0.5 2-1 2-4 2-2 2-0.5 2.5 0.5 5.5 4 4 0.5 6-2.5 4-3 5-7 3-7.5 2-3.5 5.5-5 4.5-2 4 0.5 3 1.5 2 2 0.5 2-0.5 4-3 5.5-2 1.5-6 3 0 2 4 3.5 2 0.5 6-1 8-0.5 4-1 5.5-3.5 4.5-2 12-1.5 2 0 6 4 2 0.5 12-2.5 10 1 2-0.5 1-1 3-1 0.5 1-0.5 1-4 1.5-2 2.5-1.5 3-1 4 0.5 2 1.5 2 0.5 0.5 2 0 6-2.5 4-1 10 1 4 2 4 3.5 2 0.5 2-1 6-8 2-1.5 8-2.5 6.5-5 7.5-8 2.5-4 0.5-4-0.5-2-2.5-1.5-24-4-2-0.5-2-2-0.5-2 0.5-2 3.5-4 4.5-2.5 6-1.5 6 1.5 20 9.5 2 0.5 4 0 3.5-1.5 4.5-1 1 1 0.5 4 3.5 4 7 4.5 10 3.5 2 2 1 4 3 5 6 8 2 1.5 2 0 4-2 3-2.5 4-4 1-2 0.5-2-0.5-3.5-2-3-2-2-5-1.5-2-2 7-3 6-5 8-4 10-3 13.5-7 2.5-1 6 0.5 18 5 4-0.5 8-2 4-2.5 7.5-7.5 4.5-5.5 4-3.5 2 0 3.5 3 2.5 1 16 5.5 8 1.5 4 2.5 2 0 1-0.5 2-2 1-1.5 2-1 1.5 2.5 0 6 2.5 2 24 3.5 19-1.5 2.5-2 0-2-1-2-4.5-4.5-4-5.5-1.5-4-0.5-4 2-6 4-5 5-5zM1218 519.5l-1 2.5 1 1.5 2 0.5 3.5-2 0-2-1.5-1.5-2 0zM282 386l-6 1-4 2-1.5 3 0 4 3 10 2 4 6.5 6 4 1.5 2 0 2-2 5.5-9.5 0.5-2-0.5-2-3.5-7.5-2-8-2-1zM530 341.5l-2.5 2.5 0 2 1.5 4 1 1 2 0 2-3 1.5-6-1.5-1.5-2 0zM475.5 340l0.5-1.5 2 0 3.5 5.5 2.5 3 4 2 6 2 1 1 0.5 2-0.5 2-5 5-2 1-2 0-2-1.5-8-13.5-0.5-3zM302 352l4-1 2 0.5 4 1.5 3.5 1 4 2 1 2-2.5 1-2 0.5-8-3.5-7.5 0-0.5-1 0-1zM208 356l2 0.5 2 1.5 1 2-1.5 2-3.5 2-2 2-2 4-2 2-10 3.5-4 2-2 0-6-3-2.5-2.5 0.5-2 2-2 3.5-2 4.5-2 14-5zM1220 602l2-1 6-1 0 12-4-2-4-3.5-1-2.5z"/>
<path fill="#ffdc00" d="M783 284l27 0 0 4-1 8 0.5 4 3.5 8 2.5 2 2.5 0.5 24-5.5 4-1.5 4-3 4-1.5 10 1 8-1 4-1 4-2 1.5-2 0-2-4.5-8 351 0 0 235.5-4-2.5-4-0.5-3 1.5-1.5 2-1 2 0 2 1.5 2 4 1 4-1 4-2.5 0 35.5-4 0-4-1-2-2-1.5-2-2.5-6-1.5-2-6.5-4.5-4-2-4 0-6 0.5-2-0.5-4-2-2 0-14 2.5-12-1.5-8 0.5-6-2-22-5-12-5-6-1-4-2.5-6-0.5-4.5-3-11.5-3-10-4.5-4 0.5-8 0.5-2 0.5-8 5.5-14 5.5-8 1-4.5 2-5.5 4-8 2.5-4 0-8-3-16-2-10-4.5-14-4.5-12-1-4 0.5-10 7-10 4-4 1-8 0.5-12 3-4 0.5-10-1-10-0.5-12-1.5-16-4-20-3.5-10-4.5-10-2.5-8-5-8-2-12-0.5-6 0.5-20 6-12 1.5-10 2.5-6.5 0.5-7.5 2-6 0.5-10-2.5-8 0-14 2.5-10 0-8 0.5-18 4-16 2.5-6-0.5-10-4.5-6-2-8 1.5-12 1-6 0-8-1.5-12 2-10 0-5 2.5-7 7-12 3.5-38 4.5-12-0.5-10 1-8 1-3 1.5-5 5-4 2.5-4 0.5-8.5 0-1 2 1.5 3 4 3 2 0.5 4 0.5 8-0.5 6-1.5 10-5.5 2 0 1.5 0.5 0.5 2-0.5 4 0.5 2 4 2 4-0.5 3-1.5 3-3 2-0.5 2 0 2 1.5 2 2.5 2 1 8-2 4 1 14 5 2 0 8-1 8 1.5 8 0 8 1.5 4 0 6-2 12-2.5 4 0 8 2 8 0.5 4 1.5 8 5.5 16 3 2-0.5 4.5-3 3.5-0.5 8 4 8 0 6 1.5 2 0 6-3.5 10 0.5 8-2 4 0 4 2 2 3 2 1 4 0 7.5-2 6.5-0.5 16 3 3.5 1.5 6.5 7.5 4 2.5 16 1 10 0 12 3 4 0.5 2-0.5 6-3 4 0 3.5 1 6.5 4 6 2 6-0.5 6-4 2 0 6 1 2-0.5 4-5 2-0.5 4 2 2 0 7-2.5 3 0 4 2.5 10 10 2 1 2 0.5 8-2.5 12 3 4 0 3-0.5 10-6 2-2 5-7 2-0.5 2 1.5 10 10 4 2 4 0 4-2 2.5-2 1-2-0.5-2-4.5-6-0.5-2 1-2 3-2.5 4-1.5 2 0 2 0.5 2 1.5 5 12 3 5 2 0.5 2 0 4-1.5 4-0.5 4 1.5 1 1 1 2 0.5 6 1 2 2.5 1 2 0.5 2-1.5 1.5-4-0.5-6-4.5-6 0-2 0.5-2 1-1 2 1.5 2 3.5 2 1 8-0.5 3.5 3.5 4.5 1.5 8-1.5 10 0.5 2-0.5 6-3.5 4-0.5 4 0 10 2 4 0 10-2.5 8 0 2.5 0.5 3 2 6 6 10.5 7.5 8 3 8 5 8 0.5 4 2 4 2.5 5 5.5 11 9 6 4 8 3.5 5 3.5 3.5 4 1 2 0.5 2-0.5 2-2.5 4-5 5-2 3-1 6-981 0 0-280.5 6 0.5 3.5 0 6.5-2.5 2-0.5 2 1 4 4 4 2 6 0.5 4-0.5 2.5-2 4-8 2.5-6 3-12 2-3 4-1.5 15.5-1.5 6.5-2 8-0.5 2-1 5.5-4.5 3-2 5.5-1.5 8-1 4.5 0.5 2 2 1.5 5 2 3 8 2 2 2 1.5 4 2.5 2 8 3.5 2 0 6-1 4 0.5 10 4 2 0 2-1.5 3.5-5.5 6.5-4 8.5-8 5-6 2.5-5.5 4-5.5 4-3.5 2-1 2 0 3.5 1.5 1.5 2 0 2-1 4-2 2.5-6 2-3 1.5-1.5 2 0.5 2 2 2 6 4 2 0 8-1.5 2 0 4 1.5 2 1.5 5 2.5 1 1.5 2 4.5 1 2 3 2 2 0 2.5-2 1.5-4-0.5-2-2-2-7.5-2.5-2-1.5-0.5-2 1-2 2-2 4-2 11.5-1.5 2 0.5 4 3.5 2 1 4-0.5 10-3 5.5 2 0.5 2-2 3.5-2 1.5-6-0.5-2 0.5-1 1-0.5 2 0.5 2 2.5 2 8.5 2.5 2 1.5 6 7.5 2 1 1.5-0.5 1-2-0.5-6 0.5-2 1.5-1.5 2 0 4 2 2 0 4-3.5 2-0.5 2 1 3.5 4.5 2.5 2 2 0.5 2.5-0.5 3-2 2.5-6 2-2.5 2-0.5 6 0 6-2 12-1.5 1-1.5-1-6 0-2.5 2-2 8-0.5 2.5-1 2-2 3.5-8.5 2-1.5 2-0.5 4 0.5 16.5 8 10 16 1.5 4 2 2 4-0.5 5.5-1.5 2.5-1.5 6-5 2-3.5 0.5-4-0.5-4-4.5-10 1-2 1.5-2 2.5-2 3.5-2 10-2.5 18-9 4 0 2 0 16 5 4 0.5 12-3 8-5 7.5-2 6.5-4.5 6-1 8 1.5 12.5 4 5.5 3 4 1.5 4 3.5 2 0.5 26 2.5 12-0.5 2 0.5 4 2 2-0.5 5.5-6.5 0.5-2 0-2-2-2-6-3.5-4-4.5-1.5-4 0-4 1.5-4 1-2 8-8 1-2zM290 380l-10 3.5-11.5 2.5-2 2 0 4 3 10-1 6 1.5 2 11.5 8 4.5 2 3 0 3-2 7.5-12 1.5-6-1-3-3.5-3-1-2 1.5-6-0.5-4-2.5-2.5zM501 328l7 0 4.5 2 6 4-2 2-6.5 1-12-2.5-2-1-1-1.5 0.5-2 2.5-1.5zM188 366l8-1.5 2.5 1.5-1.5 2-7 4-4 1-3.5-1-1-2 2-2zM973.5 580l5 0 3 2 0 2-1.5 1-2 0-3-1-2.5-2zM1221 602l7-1.5 0 11-4-2-4-3.5-0.5-2z"/>
<path fill="#ffd500" d="M785.5 284l19.5 0 1 2 0 2-2.5 8 1 4 6 10 2 2 3.5 1.5 2-0.5 12-3.5 16-1.5 4.5-4 3.5-1.5 6 1 4 0 10-2 6-2.5 4-2.5 1.5-2.5 0-2-1-2-3.5-6 347 0 0 232.5-6-1.5-2 0-2 1-3 2-1.5 2-1 4 0 2 4 4 1 2-0.5 2-1 2.5-2 1-6 1-6-1-10 0.5-6-2-2 0-14 2.5-12-1-8 0.5-6-2-6-1-16-3.5-14-5.5-4-0.5-4-2.5-6-0.5-4-2.5-12-3.5-10-5-12 1.5-2 0.5-8 5.5-14 5.5-6 0.5-3.5 1-5.5 2-6 4-5 1.5-4-0.5-8-3-10-0.5-6-1.5-22-9.5-6-1-8 0.5-4 0.5-10.5 7.5-9.5 4-4 1-8 0-12 3.5-4 0.5-10-1.5-10 0-14-1.5-14-4-8-1-14-3-8-4-8.5-2-7.5-5-4-1.5-10-1-10-0.5-24 6.5-30 4.5-8 2-6 0-8-2.5-8 0-14 2.5-10 0.5-8 1-20 4-14 2-6-0.5-12-7-4-1-8 2.5-12 1.5-6-0.5-8-2-12 2-10 0.5-6 2-5.5 6-2.5 2-10 3-24 3.5-12 1-14 0-12 0.5-9 2-7 5.5-2 1-4 0.5-6-1-4 0.5-2.5 1.5-2 2 0 2 2.5 4.5 3.5 3.5 6.5 2.5 6 0.5 12-1.5 4 0 14 7 4 0 6-2 2 0.5 6 4 2 0.5 2-0.5 1.5-1 2.5-4 2-1.5 2-0.5 2 0 4 2 4 3.5 2 1 4 0.5 4 0 8-2.5 12-0.5 10 2 4 0 8-3 10-1.5 4 0.5 8 3.5 2 0 6-1 2 0.5 6 4 4 2 10 1.5 8 2.5 4-0.5 4-2.5 2 0.5 20 5.5 4-0.5 4-4 2-1 2-0.5 8 0.5 6-2.5 2 0 2 0.5 4 4.5 2 1.5 2 0 6-0.5 8-2.5 4-0.5 8 3 4 0.5 3 1.5 4 6 2 2 7 4 6 2 8-2.5 12 0 4.5 0.5 11.5 4 4 0.5 3-0.5 5-3 2-0.5 2 0.5 10 5 4 1.5 8 0.5 6-2 8 0.5 8-3 8-0.5 4-3 2-0.5 2 0.5 4 2 8 7.5 4 1.5 8-1.5 2 0 10 2 6 0.5 12-5.5 3-2.5 5-5 2-0.5 2 1 2 1.5 4 4.5 2 1.5 6 2 4-0.5 7-4.5 2-2 1-2-0.5-4-2.5-4-0.5-2 1.5-2 1.5 0 0.5 0 2 2.5 5.5 11.5 2.5 4.5 2 1.5 2 0.5 2 0 5.5-2.5 2.5 1 1 1 1 6 1.5 2 4.5 2.5 4 0.5 2-0.5 2-2.5 4-10 2-1.5 2-0.5 8 1.5 4 0 16.5-1.5 3.5-1 5-3 3-0.5 4 0 8 2.5 4 0.5 4.5-0.5 9.5-3 6 0 4 1.5 6 5.5 10 8 9 4 7 5.5 10 2.5 6 2.5 20 15 12 6.5 2.5 2 3.5 4 1.5 4-0.5 2-2.5 4-5 6-1.5 4-0.5 4-979.5 0 0-278 6 0.5 12-1 10.5 4.5 3.5 0.5 6-0.5 3.5-2 2.5-4 6.5-14 1.5-8 2-3 2-1 2 0 14 0 6 0.5 5 1.5 2 2 0 6-1.5 6 0.5 2 1 2 5 4 1 2 0 2 0 2-2 4 0 2 1 1.5 2 1.5 8 3 11.5 6 2.5 0.5 2 0 2-1 3.5-3.5 8-14 1.5-6 0.5-2-0.5-2-2.5-4-0.5-2 1-2 1-1 2-0.5 4 1 2 1.5 4 5 2 1 2 0 2-0.5 5-4.5 3-1 4 0.5 6 2 2-0.5 2-1.5 4-5.5 14-15 2-2 2-0.5 2 0.5 10 6.5 2 0.5 8-1.5 2 0.5 1.5 1 4.5 6 4 2.5 6 6.5 12 6.5 2 0 2-0.5 3-3 5-8 2-1.5 2 0 6 2.5 6 1.5 2 1 2 2 4 5 2 1.5 2 0.5 4-1 6-5 6-2.5 4 0.5 8 1.5 12-2 8 1.5 6-1 3.5-2.5 0.5-6 2-1.5 2 0 1.5 1.5 3 6 2.5 2 3 1 4-1 1.5-2-0.5-2-5.5-10-1.5-4 0-4 1.5-2 6.5-3.5 3-2.5 3-6 2-2 4-1 4 1 8 3.5 3.5 2.5 8 14 1.5 10 1 1 2-0.5 14-4 8.5-6.5 1.5-2 1-4 0.5-6-1-8-2.5-6 1.5-2 4.5-2 6 0 2-0.5 7-5.5 9-5 3.5-1 4.5 0 16 5.5 4 0.5 15-4 7-3 6-2 8-4.5 6-1.5 4 0 4 1 5 2 18.5 10 26.5 2 11 0 3 1 5.5 5 2.5 0 4.5-6 5.5-6 0.5-2-0.5-3.5-2-3-6-1.5-4-2-3-4 0-4 1-4 1-2 7.5-6 2-4zM276 360l8-1 3.5 1 1.5 4 0.5 10-4 4-5.5 3-4 1-6-0.5-7-3.5-2-2 0-2 2.5-4 5-6 2.5-2zM1215 540l1-1.5 2-0.5 2 0.5 2 1.5 4.5 6 1.5 1 0 11-6-0.5-2-1-2-2-1-2.5-1-6-1.5-4zM1222 602l6-1 0 10-4-2-3.5-3-0.5-2z"/>
<path fill="#ffcf00" d="M789 284l4.5 0 3.5 8 2.5 8 2 4 7.5 8 3 2.5 4 1.5 2 0 12-4.5 16 0 3-1.5 3-3 2-1 6 0.5 4-0.5 16-4 6-3.5 2-2.5 0.5-2-0.5-4-2-6 342 0 0 231-6-1.5-2 0-2 1-4 3-2 2.5-1.5 4 0 2 1 4 0 2-1.5 2-2 1-14 1.5-10-2-14 2.5-12-1-6 1-24-4.5-14-4.5-4.5-2-5.5-1-4-2.5-6-0.5-4-2.5-12-3.5-10-5-12 1.5-2 0.5-8 6-14 5-6 0.5-10 3-6 4-4 0.5-4-0.5-8-3-10 0-6-1.5-15-7-7-4.5-4-0.5-14 2-12 9-5 2-5 1.5-10 0.5-12 3-4 0.5-8-1-12 0-12-1.5-6-1-10-3-10-1.5-12-2.5-8-4-8-2-6-4-4-2-6-1-14-1-6 1-22 6.5-12 1-8 1.5-8 0.5-8 2.5-4 0-10-2.5-10 0-12 2.5-10 0.5-8 1-18 4-16 2.5-4-0.5-2-0.5-12-9-2-1-2-0.5-8 4-12 2-4 0-8-2-4-0.5-10 1.5-12 1.5-4 1-2 1.5-6.5 6.5-11.5 4-24 4-14 0.5-10 0-20 1.5-2 0.5-6 4.5-2 0.5-8-0.5-4 0.5-6 2.5-2.5 2-1.5 2 0 2 1 2 2.5 4 4.5 4 10 3.5 6 1 8-1 2 0.5 6 4 8 3 4 0.5 8 0 8 2.5 4-0.5 6-1 2-0.5 4-3 2 0.5 4 2 4 1 8.5-0.5 9.5-2.5 10-1 14 2.5 2-0.5 6-3 8-1.5 2 0.5 4 1.5 8 4.5 2 0.5 6-1.5 2 0.5 8 2.5 10 2 12 3.5 2 0 6-2.5 2 0.5 5.5 2 6.5 3 2 0.5 8-0.5 2-0.5 4-4 2-1 8 1 6-3 2 0 5.5 4.5 2.5 1 10-0.5 8-2.5 2 0 9.5 4 2.5 1.5 4 6 2 2 14 6 4 0 8-3.5 8 0 24 6.5 4 0 4-2.5 2-0.5 10 3.5 12 3 8-2 8 1 3 1 5 4.5 2 0.5 2.5-1 5.5-6.5 4-2.5 2-0.5 4 1.5 10 7.5 2 0 4-1.5 4-0.5 8 1.5 6 0.5 4-1 10-4.5 10-6.5 2 0.5 4 4 2 1 6 2 4 0.5 4 0 2-1 6-4.5 2-0.5 2 0 6 6.5 4 2.5 18 8 4 1 2-1 2-2.5 4.5-10 1.5-2 2-1 2-0.5 10 1 10-0.5 10-2.5 6-3 2-0.5 4 0 8 2.5 4 0.5 6-0.5 10-3 4 0 4 2.5 9 7 5 4.5 11 5.5 5 5 4 2 16 5.5 8 5 10 7.5 9.5 5 2.5 2 4 6 0.5 2 0 2-6.5 10-1.5 8-978.5 0 0-274.5 14-0.5 6 0.5 10 2.5 4 0 6-1 2-1 2-2 10-18 2-6 2-2 10-1 6 0 2.5 1 2.5 2 1 2-0.5 8 0.5 4 6 8 0 2-2 6 0.5 2 3.5 2.5 12 4 10 5 2 0.5 4 0.5 2-0.5 4-2 3.5-4 6-12 2.5-6.5 2-3 2 0 10 3.5 4 0.5 2-1 1.5-1.5 2.5-4.5 2 0 4 3 2 0 2-1 7-9.5 5.5-6 7.5-9.5 2-1.5 2-1 6 2 6 4 2 0 6-1 2 0.5 2 2 4 6.5 5.5 4 4.5 5.5 8 2.5 6 4 2 1 2-0.5 10-8.5 2-1.5 2-0.5 6 0 4 1 2 1 5.5 6 4.5 1 5.5-1 8.5-5 4-1 8 0.5 12-1 10 1.5 16-2.5 6 1 4 0.5 5.5-2 1.5-2 0.5-2-0.5-2-5-6.5-2-3.5-1-4 0-2 1-2 2-1.5 7-4.5 5.5-6 3.5-1 4 1 6 2.5 4 3.5 3.5 6 1 4 0 8 1 6 0.5 1 2 1 10-4 8-2 3.5-2 8.5-7 2-3 1.5-16 1-4 1.5-2 6.5-4 7.5-7 6-3.5 4-1.5 4 0 4 1 14 5 4 0 12-3.5 8-3.5 6-2 8-4 8-1.5 4 0 6 2.5 6 4 12 5 4 1 34 1.5 2 1 6.5 5.5 1.5 0.5 3-0.5 2.5-2 4.5-5.5 6-4.5 1-2-1.5-8-1.5-3.5-2-0.5-6 0-4-1.5-2.5-2.5 0-2 0.5-3.5 2-2.5 6-2.5 1.5-1.5zM862 644l4 4 2 1.5 2-0.5 0.5-1 0-2-2.5-2-4-1zM275.5 362l6.5-1.5 2 0.5 1.5 1 1 4-1 6-1 2-4.5 4-4 1-6-1.5-2-1.5-1.5-2 0-2 1-2 2.5-4 2-2zM1219 548l1-1 2 0 6 4 0 5.5-4 0-2 0-2-1.5-2-3 0.5-2zM1223.5 602l4.5-0.5 0 9-4-2-2.5-2.5-0.5-2z"/>
<path fill="#ffc800" d="M890.5 284l337.5 0 0 229.5-8-1-4 2-4 3.5-2.5 4-2 8-1.5 2-2 0.5-10 2-8-1.5-14 2-14 0-6 0.5-14-2-14-2.5-10-3.5-4-2-6-1-4-2.5-6-0.5-6-3-12-3.5-8-4.5-12 1.5-2 1-8 5.5-14 5-6 0.5-10 2-6 4-2 0.5-4 0-10-3.5-8 0.5-7-1.5-12.5-6-8.5-6-4-1.5-16 3-4 2.5-7 6-9 4-4 0.5-8 0-14 3.5-10-1-12 0-16-1-12-3.5-10-1.5-12-3-6-3-10-3-6-4-4-2-20-2-6 1-18 6-6 1-12 0.5-7 1.5-7 0.5-10 2-4-0.5-6-1.5-12-0.5-12 3-10 0.5-10 1.5-16 3.5-16 2.5-4-0.5-2-0.5-7.5-6-4.5-5-2-1-2-0.5-2 0.5-5.5 4-2.5 1-8 1.5-6 0.5-8-2-4-0.5-24 3-5.5 2.5-6.5 6-9 4-19 4-10 1-10 0.5-10-0.5-20 1.5-2 0.5-6 3-2 0-8-0.5-10 4.5-6.5 4-1 2 1 4 4.5 6 2 2 3.5 2 14.5 5 10 0.5 8 4.5 6 2 12 0.5 8 1.5 4 0.5 14-2 8 0.5 10-0.5 12-3 8-0.5 4 0.5 10 2.5 4-1 6-3 6-0.5 6 2 8 5 2 0.5 10-1 16 2.5 12 4.5 2 0 6-1.5 2 0.5 1.5 2 1.5 4 3 1.5 10-2 8-0.5 6-1.5 8 0 8-4 6 2 26-0.5 4 1.5 2 1.5 1.5 2 1.5 4 1 6 2 2 4-1.5 4-0.5 8 2.5 2 0.5 2-0.5 6-3.5 2-1 4 0 4 1 6 3.5 8 0.5 3.5 1 12.5 6 2 0 5-4 3-0.5 4 0.5 12 3 10-1.5 6 2 6 4.5 4 1.5 2-0.5 2-1.5 6-5.5 4-2 3 0 3 1.5 2.5 2.5 2 4 1.5 1.5 4 1 10-3 8 0 4-0.5 18-7.5 6-1 6 1 14 4 8 4 2-1 2-3 2-1.5 2 0 10 6 8 2.5 2.5 1.5 5.5 6 2 0.5 2 0.5 2-2 1.5-5 5-10 1.5-3 2-1.5 4-1 10 0.5 8 0 10-3 8-3 4 0 6 2 4 0.5 8-0.5 8-2 4 0 8 3.5 6 4 6 6.5 7.5 3 2.5 1.5 6 7 4 1.5 12 3.5 6 2.5 6 3 10 7.5 9.5 5.5 2.5 4 1.5 4 0 2-5 10-1.5 8-977 0 0-271 10-1.5 8 2 12 1 12-2 3-2.5 7-12 8-10.5 4-2 6-1 2 0 2.5 1.5 0.5 2 1 12 1 2 3 4 1 2-3.5 8 0.5 2 3.5 2 18.5 4.5 12 5 6 0.5 6.5-2 3.5-2.5 1-1.5 2.5-8 4.5-9.5 2-2 2 0 2 1 10 4.5 4 0.5 10-0.5 2-2.5 8-13.5 7.5-8 6-8 2.5-2 4 0 8 4 8 0 2 2 1 2 1.5 6-0.5 4.5-2 1-8 2.5-2 1.5-1.5 2.5 1 2 2.5 0.5 4-1.5 4-3 2-3 2-0.5 2 1 2.5 4.5 1.5 2 4 1 3-1 3-2 2 0 2 1 8 5.5 4 1 2.5-1.5 2-4 1.5-2 8-4.5 4-1 4 1 6 5 6 1 12-1 6-4.5 10-0.5 6-1.5 4 0 8 2 10-1.5 18 0 6-1.5 4-3 1-2 0-2-2-4-5-5-2-3-1-4 0.5-2 2.5-2.5 8.5-3.5 5.5-3.5 2-0.5 8 1.5 2 1.5 2 2.5 1.5 4.5-0.5 8 1.5 12 3.5 1.5 2 0 6-2.5 14-4 4-2.5 11.5-8.5 2-4 1-8-0.5-6 2-6 11-10 9-5 4-0.5 4 0.5 14 5 4 0 26-9 8-4 12-1 4 1.5 4 4 2 1 12 3.5 6 1.5 12 0.5 20 1 2.5 1 4.5 4 3 1.5 4 1 4.5-2.5 5.5-5.5 7.5-4.5 1.5-2 0.5-2-1.5-4-1-4 1-9 2-0.5 2 1 12 7.5 4 1.5 4-0.5 10-3.5 16-1 4-1.5 4-2.5 10-1.5 14-3 8-4 3.5-3 1-2 0-4zM856 635.5l-1 0.5-0.5 2 2.5 8 2.5 2 4.5 2.5 4 3.5 2 0.5 2-1 2.5-3.5 0.5-2 0-2-1.5-2-3.5-3-4-2.5-6-2zM779 308l1-1.5 2 0 1.5 1.5-1.5 2-2 0zM277.5 364l2.5-0.5 2 0.5 1 2 0 2-1 3.5-2 2.5-2 1-2 0-4-1.5-1-1.5 0-2 2.5-4zM1220 552l2-1.5 3 1.5 1 2-2 1-2-0.5-1-0.5zM1221.5 604l2.5-1.5 4-0.5 0 8-4-2-2-2z"/>
<path fill="#ffc200" d="M893 284l335 0 0 228-8-1-4 1.5-5.5 5.5-5.5 10-3 2-8 1.5-8 0.5-20 2-14 0.5-14-1.5-14-2.5-10-3.5-4-1.5-6-1.5-4-2.5-6 0-4-2.5-4-1.5-10-3-6-3.5-2-1-12 1.5-4 2-6 4.5-10.5 4-3.5 1-6 0.5-10 1.5-2.5 1-3.5 2.5-4 0.5-10-3-10 0-8-2-12-6-8-6.5-2-1-2 0-14 3.5-4 1-8 7-8 4-4 1-10 0-10 2.5-4 0.5-10-1-12 0.5-18-1-10-3-10-1.5-10-2-8-4-8-2-3.5-2-4.5-3.5-4-1.5-20-2-8 2-15 5-5 1.5-14 0-8 1.5-6 0-10 2-10-2-14 0-10 2.5-10 0.5-16 3-12 3-14 2.5-3-0.5-3-1.5-7.5-6.5-4.5-5.5-2-1.5-2-0.5-3.5 1.5-6.5 5-10 2-4 0-8-1.5-6-0.5-24 3.5-3.5 1.5-6.5 4.5-6 2.5-6 4-18 4.5-10 0.5-16 0-12 0.5-14 1-6 2-8-1-2 0.5-16 9-2 2-1 2 2.5 6 4.5 6 2 2 20 7 10 1 8 4.5 6 1.5 12 0.5 8 1.5 4 0.5 12-1.5 8 0.5 12-0.5 4-0.5 6-2 6-1 6 0.5 10 2.5 4 0.5 4-1 6-2 4-0.5 6 2 4 2.5 4 2 4 0 8-1 8 1.5 11.5 3.5 10.5 4 8 5.5 4 1 4 0 6-2.5 4-1 8 1.5 8-0.5 8 2 2 0 3-4 3-2.5 6-1.5 6 0 4 2 2 2 0.5 2-2.5 1.5-4 1.5-1.5 1-2.5 4-0.5 2 0.5 3 2 2.5 2 0 5-1.5 6.5-4 2-2-1.5-8 1-2 2-2 3-0.5 2 1.5 1.5 3 0 4-1.5 4 0 2 2 2 2 1 4 0 6-3 2-0.5 10 2.5 2-0.5 6-4 4-1 4 1.5 8 4.5 10.5 1.5 7.5 5.5 4 1 4 0 2-0.5 6-4.5 2-0.5 10 2.5 12 0 2.5 0.5 10.5 6 2.5 2 1 2 1.5 6 2 3.5 6 2 2 2.5 2 6 2 2 6 2.5 4 4.5 2 1 2 0 3-2 5.5-6 1.5-2-0.5-2-7.5-9.5-4-4-2-0.5-2.5-2 4.5 0 2-1 10-5.5 12-1.5 20-8 4-0.5 6 0.5 14 4.5 10 7.5 4 2 2-0.5 1-1.5 0.5-4 2.5-1.5 6 3 8 2 2 1 2.5 3.5 0.5 8 1 1.5 2 0 9-5.5 1-2 1.5-8 3.5-8 2.5-4 2.5-1.5 20 0 18-5.5 2 0 8 1.5 4 0.5 18-2 8 2 5.5 3 2.5 2 4.5 6 9.5 4.5 5.5 7.5 2.5 2 4 2 6 0 4 1 8 3 7.5 4 14.5 10 2.5 2 0.5 2 1 6-3 10-1 8-976 0 0-268.5 8-0.5 2.5 1 3.5 3.5 2 0.5 8-2.5 19.5-3.5 3-2 5.5-10 8-9.5 4-2.5 4 0 2 2 0 3.5-4.5 4.5-1 2 0.5 2 1 1 7 5 0.5 2 0 2-2 6 1 2 3.5 1 16 1.5 10 2.5 12 4.5 6 0.5 10-2.5 2.5-1.5 1-2 1-8 3.5-5.5 2-2.5 2 0 2 0.5 10 3.5 6 0 6 0.5 4-0.5 2-2 2-7 4-7 2-2 4-2.5 2-2.5 2.5-3 3.5-7 2-2 2 0 2 0.5 4 2.5 8 0.5 2 2.5 0.5 3 0 2-2.5 2.5-12 6-2 0.5-4 0-6-2.5-1 1.5 0.5 2 7.5 6 5.5 2 5.5 1 4 0 8-2 8 1.5 14 0.5 4 1.5 6 3 4 0.5 2 0 3-2 1.5-2 3.5-6 2.5-2 3.5-1 2 0.5 4 2.5 4 1.5 18 1 2.5-0.5 5.5-3 2-0.5 6 0.5 3.5-3 2.5-1.5 4 0 6 2 10-1.5 10 1 12-1.5 6-1.5 6.5-3 2-2-4.5-8-6-6-1.5-2-1-2 0-2 2.5-2.5 16-5.5 4 0.5 2 0.5 2 2 1 3-1 6 1 8-0.5 2-2.5 2.5-3 1.5 11 4 4 0 6-2 10-2 10-3.5 2-1 13.5-11.5 3-4 1-6 0-4-2-6 1-4 1.5-2 7-6 7-4 4-1 4 0.5 14 4.5 4 0 34-13 10 0 3.5 1 4 4 2.5 1.5 8 0.5 12 2.5 12 1.5 18 0.5 2 0.5 8 5.5 4 1 2 0.5 2-1 5.5-3 11.5-8 4.5-4 0.5-2-2-6 0-2 2-2 4 0.5 8 4.5 4 0 10-3 10-0.5 8-2 10-4.5 7-1 15-3.5 8-3 4-2.5 2-3 0.5-4zM1092 405.5l-3 2.5 0.5 2 2.5-0.5 1-1.5 1-2zM1222.5 604l1.5-1 4 0 0 6-3-1-2.5-2zM853 620l1-0.5 2 0.5 0.5 2-0.5 4-2 1.5-2-0.5-1.5-1-1-2 0.5-2z"/>
<path fill="#ffbc00" d="M895.5 284l332.5 0 0 226.5-8-1.5-4 2-7 7-5 7-2 1.5-2 1-14 3-34 2.5-14-0.5-14-2.5-14-5-5-1-5-3-6 0-8-4-10-2.5-6-4.5-2-0.5-2 0-12 2.5-8 5.5-12 4.5-20 2.5-4 2-4 0.5-10-3-8 0.5-4 0-4-1-11.5-5.5-10.5-8.5-4-1-18 5-10 8-6 3-4 1-10-0.5-10 3-4 0-10-1.5-12 1.5-18-0.5-10-3-8-1-12-2.5-8-4.5-9-2.5-5.5-4-3.5-2-4-0.5-18-1-6 1-18 6-4 1-14 0-8 1-6 0.5-10 1.5-10-2-16 0-9 2.5-7 0.5-20 4-10 2.5-12 2-4 0-3-1-5-4-8-10-2-1.5-2-0.5-4 1-8 6-8 2-4 0.5-16-2.5-22 4-4 1-6 3.5-8 3-4 3.5-3 2-15 4-10 1-16-0.5-20 2-6-0.5-6 0.5-8-0.5-2 0.5-2 1-6 4.5-14 6.5-2 0.5-6-1-2 0.5-3 1.5-0.5 2 1.5 1.5 2 1 2 0 6-1 2 1 6 11 4 2.5 10 2 12 5.5 6 0 4 0.5 8 4.5 4 1.5 14 0 12 3 12-1 6 0.5 8-1 8 0 8-3 6-0.5 16 3.5 4 0.5 4-0.5 8-2.5 4 0.5 4 1 4 2.5 4 2 4 0 12-0.5 4 1.5 5.5 6 0.5 2-2.5 6 3.5 6 3 1.5 2 0 2-1 4-5 4-2 4 0 8 1.5 4-0.5 8-3 6.5 0.5 5.5 2 2 1 3 3 3 4 2 0 6-1.5 4 0 2 0.5 2 3 0 8 0.5 2 1.5 1.5 2 0.5 2 0 2-1 4-4.5 4-2 8-1.5 6-1.5 8-1 8-4 2 0.5 6 2.5 2 0.5 2-0.5 6-5 2-1 2 0 2 0.5 8 5 8 3 3 2 5 5 2 0.5 8-0.5 4-1 8-5 2 0 6 1.5 8-0.5 2 1 1.5 1 0.5 2 0.5 8 1.5 3.5 2 0 8-3.5 2 0.5 2 3.5 0.5 2 0.5 8 0.5 2 0.5 0.5 2 1 4-0.5 2 0 4.5 3 5.5 2 3 2 3 4.5 2 1.5 4-1 4-2.5 4.5-4.5 3.5-1.5 4 0 6 2.5 5.5 7 2.5 1.5 4 0 7.5-5.5 1-2 0-2-2-2-4.5-1.5-6 0-4-1-6-2.5-5.5-3-4-4-2.5-4-1.5-4 0-2 3.5-2.5 10-2 12-5.5 10-3 6-0.5 4.5 1.5 2 2 2.5 4 1 6 2 4.5 2 2.5 2 1.5 2.5-0.5 1.5-2-2-4-4-4-1-2 3-1.5 4 1 3 2.5 2.5 4 0.5 4.5 2 0.5 14-3 5 0 1.5 4 3 4 2.5 2 4 1.5 2 0 2.5-1.5 8-8 1.5-4 0.5-6 1-4 3-6 1.5-2 2-1 12-0.5 8 0.5 18-6 4 0 8 1.5 16-1.5 4 0.5 8 1.5 3 1 3 2 6 8.5 6 2 2.5 1.5 5 8 4.5 4 2 0.5 8-0.5 4 1 8 4.5 6.5 2.5 14 10 1.5 2 1 6-2.5 18-184.5 0-2-1.5-2 0-1 1.5-785 0 0-265 4-0.5 2 1 4 3 4 2 5.5-0.5 15-6 9.5-1.5 2-1 3.5-3.5 4.5-7.5 2-1.5 2 0.5 2.5 2.5 6 4 2 2 0.5 2-1.5 6 0.5 2 1 2 3 1.5 2 0.5 14 0 6 1 8 1.5 14 5.5 4 0.5 10-2 4-1.5 2.5-3 0.5-6 1.5-4 3.5-3.5 2-0.5 10 3 12 1 4-0.5 6-2.5 14-4.5 6 1 10 2 4 0 14-2 16 1.5 8 3.5 4 1.5 4-1 6-3 1.5-2 2.5-5 2-0.5 6 3.5 2 0.5 10-1.5 10 0.5 8-2.5 2 0 6 2 2 0 4-1 4-2.5 4 0 2 0 8-3.5 4 0 6 1.5 2 0 14-2.5 12-4 8-2 6 0 8 1.5 8-2 10-1 8-2 4-1.5 4-3 7.5-7 6.5-5.5 1.5-2.5 1.5-6 2-6-3-6 0-2 1-2 7-7 6-3 6-0.5 6 2 8 3 2 0 2 0 20-9 14-5 2 0 8 2.5 4 3 4 2 10-0.5 8 2 14 2 18 0.5 4 1.5 10 5.5 4 0.5 12.5-5.5 11.5-9 8-5.5 8-1.5 10-3 8 0.5 2-0.5 12-5 6-3 24-5 10.5-4 2.5-2 1.5-4 0.5-8zM1094 402l-4 2-4 4-1 2 1.5 2 3.5 0.5 2-0.5 2.5-2 1.5-2.5 0.5-3.5-0.5-1zM884 668l-2 0.5-1.5 1.5 0.5 2 1 1 2 1 2-0.5 2-1.5 0-2-2-2zM551.5 364l4.5-0.5 2 0.5 1.5 2 0.5 2-2 10-2 1.5-4 1.5-2-0.5-2-1-8-7-1-2.5 1-2 6-1.5zM369.5 380l0.5-0.5 2 0 10 2.5 0.5 2-0.5 2-3 2-5 2-2 0.5-3.5-0.5-1-2 0-2 1-4zM1224 604l4-0.5 0 4.5-4-2z"/>
<path fill="#ffb500" d="M898 286l0.5-2 329.5 0 0 225-6-2-4 0.5-4 2.5-8 9-4 3.5-6 1.5-8 4-6 1-10 0.5-8 1.5-12 1-8-1-6 0.5-12-1.5-8-3-4-1-4-1.5-4-1-6-3-6 0-6-3.5-11.5-3-6.5-4.5-4-1-12 2.5-8 6-12 4.5-14 1.5-6 0-6 2-4-1-6-2.5-10 1.5-5.5-1-6-2-4.5-2-3-2-9.5-8-3.5-1-4 0.5-8 3-8.5 1.5-3 2-6.5 5.5-8 3.5-12 0-12 3-12-1.5-13 1.5-15 0.5-4-0.5-8-2.5-10-1-9.5-2.5-8.5-4.5-6-2-8-5-4-2-14 0-8-1.5-8 2-13 5-7 2-4 0-10-1-16 1.5-6 1-10-1.5-20-0.5-8 2.5-6 1-10 2.5-10 2-8.5 2.5-15.5 2.5-4-1-4-3.5-4-4-6-8.5-2-1-4-0.5-4 1-11 7-5 1.5-4 0-12-2.5-4 0-8 1.5-14 3-17.5 6.5-6 6-2.5 1-12 4-8 0.5-18-0.5-20 2-8-1-14 0-4 2-4 3.5-2 1.5-12 4-12 1-4 2-1.5 2-0.5 2 0.5 2 1.5 1.5 6 3 7 1.5 1.5 2 1.5 4 4 3 6 1.5 10 1 8 4.5 4 1.5 6-0.5 4 1 8 5 2 1 4 0.5 12-0.5 14 4 12 1 4-0.5 8-2.5 9.5 0 6.5-3 4-0.5 4 0.5 10 3 6 1 6-0.5 8-2 4 0 12 5.5 4 0.5 10-0.5 2 1 1 1 0.5 2-2 6 0.5 4 4 6.5 2 2 4 1.5 8 1 2.5-1 4-6 1.5-1.5 2-0.5 2 1.5 1 2.5 0 4 1 4 4 10-2 6 0 2 2 2 4 1 2 0 1.5-1 0-6 0.5-2.5 2-1.5 6-1.5 6-2.5 14-2.5 4.5-1.5 1.5-1 2 1.5 2 5.5 2 1.5 4 0.5 4-0.5 4-1 6-3 10-2 8-4.5 6-1 6-2.5 2 0 5.5 2.5 4.5-0.5 3-1.5 5-4.5 2-0.5 16 7 3.5 4 4.5 7.5 2 1.5 2 0 5.5-3 6.5-1.5 8-5 6 0.5 8-0.5 1 0.5 1.5 2-0.5 6-2 4-5.5 6 2 2 5.5 1.5 2 0 10-4 2 0.5-1 6 0.5 2 2.5 2.5 2 1.5 4 1 10 0 6 2.5 2 2.5 2 7.5 1.5 2.5 0.5 2-1.5 8-686.5 0 0-258.5 6 0 12 3 4 0.5 10-5 5.5-4 8.5-1 2-1 3.5-2 4.5-4 2-0.5 2 0.5 2.5 2 1 8 2.5 3 4 3 4 1 18-0.5 8 1 6 2 12 5 4 0.5 10-2 4-2.5 4-4.5 1-6 1-2 2-1.5 2 0 4 2 4 0.5 10 0.5 12-2 6 1 2-0.5 8-4 6 0 6 2 4 0.5 10-3.5 6-1 8 1.5 8 0 8 4.5 2 0.5 4 0 18-5 8 0 6-2.5 8 0 10-3 2 0 8 2.5 10 1 4 0 2.5-1.5 2.5-4 3-2.5 2-0.5 2 0.5 4 1.5 2 0.5 8-2.5 8-1 14-5 6-1.5 4 0 10 1.5 10-2.5 16 0 4-2 11.5-8.5 11.5-10 1.5-8 1-2 4-4 0.5-2 0-2-4-6 0.5-2 2.5-4 5-3.5 4-0.5 4 0.5 5 1.5 7 3.5 2 0.5 10-5.5 12-5.5 12-3.5 4-0.5 3 1 11 6 2 0.5 10-1.5 8 2.5 12 2 10 0 10 0.5 14 6.5 4 1 8-4 8-1.5 2.5-2 5.5-6 10-5 6-2 6-2 4-0.5 8 0.5 8-5 12-5 24-5.5 13-3.5 2.5-2 2-4-0.5-8zM1090 402l-6 4-4 4-1 2 9 2 4-0.5 3-1.5 1.5-2 1-2 0.5-4-0.5-2-1.5-1.5-2-0.5zM798 637.5l-1 0.5-0.5 2 1.5 3 2 1 2 0.5 4.5-0.5 0.5-2-6-4zM550.5 368l3.5-1 2 1.5 0 3.5-2 3.5-2.5 0.5-1.5-0.5-2-1.5-1-2 0.5-2zM649 608l3-0.5 4 0.5 2 2 0.5 2-1 2-2 2-3.5 1.5-4 0.5-2-1-2.5-3 0-2 2-2zM1033 610l5-1 12 1 14-1.5 12 2 3.5 1.5 2.5 2.5 4 7 2 1.5 6 2 6 8.5 6 6 2 0.5 8-1 3 1 1 2-1 2-5 4-0.5 2 0.5 2.5 2 1.5 10 0 10-2 4 1 5 3 1.5 2 1 6 0.5 8-1 8-46.5 0-0.5-2-1-2-1-1-2-0.5-1 1.5-0.5 4-117 0 1.5-10-1-1.5-2 0.5-3 5-3 2-2 0-6-2-4-0.5-2 1-1.5 1.5-0.5 4-7 0 2-6-1-4-3.5-6-0.5-4 2-4 5-6 1.5-6 1.5-2.5 2-1 2 0.5 2 1 0.5 2 0 2-3.5 4 0.5 2 2.5 6 2 1 2 0 1-1 1-2-0.5-6 0.5-1.5 2 0 4 0.5 4 0 5.5-1 2.5-1.5 7-10.5 1.5-4 0-8 3.5-7 2-1.5 4-1 8-0.5 8 2 2 0 7.5-4zM1070 639l-4 3.5-2 2-1 3.5 0.5 2 2.5 4 8 9 10 7 2-0.5 1-1.5-1-4-6-6.5-2.5-3.5-2.5-8-1-6-2-2zM911 620l5-1 2.5 1 2 2 2.5 16-1 4-2 3.5-2 0.5-4 0.5-4-0.5-6-2-2 0-4 1-4 0-4-1.5-5-3.5-1-2-1-4 0-2 1-1 18-8.5zM880.5 656l3.5-0.5 4 1 2 1.5 1 2 0.5 2-1.5 2-10 0.5-2.5 1.5-1.5 2-1 2 0.5 2 3 8-12 0 0-8 0.5-2 11-12zM933 676l3-1.5 2 1.5 0 4-8 0 1-2z"/>
<path fill="#ffaf00" d="M902 286l0.5-2 216 0 1.5 1.5 2-1.5 106 0 0 57.5-2.5 0.5-3 2-1 2-0.5 4 0 4 1.5 4 3.5 4 2 1 0 143.5-6-2-2 0-4 1.5-4 3-4 5.5-4 4-2 1-8 2.5-5.5 4-2.5 1-4 0.5-10-0.5-8 2-10 1.5-10-1-6 1-12-1-20-6.5-4-2.5-2-0.5-6 0-6-3.5-10-2.5-4-2-4-3.5-4-1-12 3-7 5.5-11 4-14 1.5-8-0.5-6 1-8-3-4 0-8 1.5-10-2.5-5-2-3-2-10-8-4-1-4 1-8 3-10 1.5-2.5 1.5-5.5 4.5-10 3.5-10 1-10 2.5-14-1-18 2-10 0.5-4-0.5-8-2-8-1-12-3-6-3.5-7.5-3-6.5-4.5-4-2-6-0.5-8 0.5-12-1.5-10 3-11 5-5 1-4 0-12-2-20 2.5-8-1.5-10 0.5-12-2-22 7.5-12 2-10 3-14 2-4-1-4.5-4-3.5-4-5-8-3-1.5-4-0.5-4 0.5-10 3.5-5.5 4-2.5 1-4 0-10-2.5-4 0-10 2-14 4-16 5.5-3 2-5 5-6 2.5-6 1.5-8 1-18-0.5-12 0.5-8 1.5-10-2.5-14 1.5-3 1.5-4.5 4-2.5 1.5-12 2.5-8 0.5-4 1-6.5 4.5-3.5 4 0 2 3 6 1 1 4 0 2.5 1 5.5 6.5 14 4.5 10 0 4 0.5 10 5 10 1 4 2 5 4.5 3 1 16-1 6 1.5 8 3.5 12 2 4-0.5 8-3.5 10-0.5 10-3 4 0.5 10 4 4 1 8 0 10-3.5 2 0 2 1 6 5.5 2 1 2 0.5 8-0.5 2 0.5 1.5 2.5 2.5 10 0 8 0.5 2 1.5 2 2 0.5 6-2 4 0 12 6 3 3.5 1 2 0 6 2 4 2.5 2 7.5 2 8 2.5 2 1.5 1.5 2 2 6 0.5 0.5 2 0.5 2-1 1.5-2 1-6 1.5-2.5 2-0.5 2 0.5 4 2.5 4 0.5 9.5-4.5-0.5-4 0.5-4 1.5-2 3-2 6-1 6 0.5 2 0.5 4 3 2 0.5 1.5-1.5 2-4 1.5-2 7.5-6 23.5-3.5 4-1 6-3.5 2-0.5 6 1.5 6 2.5 3.5 4.5 7.5 18 0.5 4-1 4 0 2 1.5 1 2 0 1-1 2-6 1.5-2 1.5-1 2-0.5 12 5 10-1 5.5 1.5 4 2 1.5 2-1 6 2 2 2 0 4-3 2-0.5 8 1 6-1 4 0.5 2.5 1 1.5 2 1.5 8-0.5 4-3.5 6-677.5 0 0-254 8 0 12 3 4 0 6-2 6-0.5 1.5-0.5 2-2 3-4 3.5-1.5 4-0.5 2 0.5 5.5 3.5 4.5 1.5 10 4 8-0.5 8 0.5 6-1 6 0.5 4 1 4.5 2 9.5 5 4 0.5 10-1.5 4-2.5 8-6.5 12-3 10 0.5 4-0.5 1.5 2 2.5 2 4 0 8-2 6-4 6-1.5 4 1 6 4 2 0.5 2-2 1-4 1.5-2 5.5-2 4 0.5 4 3.5 2 1 2 0 6-3 2 0 6 2.5 6 0.5 14-1.5 8-2 10-1 8-2 8-3 4-0.5 8 2.5 10 1.5 12 0.5 3.5-1.5 2.5-2.5 12-5 4-0.5 6 0 8-3 8-3.5 4-1 14 1.5 10-2.5 6 0.5 2.5 2 1.5 4 4 1 2.5-1 13-12 6.5-4.5 6-6.5 2-1.5 6-2 1.5-1.5 4.5-12 2-1 1.5 1 4.5 0.5 4-1.5 3-3 4.5-8 5-6 3.5-2.5 14-6.5 10-3 4-0.5 16 7.5 4 0 4-1.5 4-0.5 8 2.5 12 3 10-1 7.5 0.5 6.5 2 12 5.5 2 0.5 8-4.5 10-1 1.5-0.5 5-6 2-2 15.5-7 4-1.5 4 0 6 1.5 2 0 2-1 6-5.5 12-5.5 10-1.5 8-2.5 21.5-5 2.5-2 3-4 0.5-2-0.5-2-1.5-6 0.5-2zM1092 399l-11 5-9 8-0.5 2 4.5 1.5 12 0.5 4-1 4-1.5 1.5-1.5 1.5-2 0.5-4-0.5-4-1-1.5-2-1.5-2-0.5zM1102 297.5l-0.5 0.5 0.5 0.5 1.5-0.5zM1116 297.5l-2 2.5 2 1 1.5-1-0.5-2zM1200 361.5l-1.5 2.5 1.5 2.5 2-2.5 0-2zM686 648.5l-2 1.5 2 4 2 1.5 2-0.5 1-1 0-2-1-2zM633.5 342l4.5-2 4 1 3 1 2.5 2 0 2-3.5 4-6 5-2-1-4-6-0.5-2 0.5-2zM1034 612l4-1 10 1.5 12-2.5 4 0 10.5 2 3.5 1.5 2.5 2.5 3.5 7 2 2 6.5 3 10 12 4.5 6 3 8.5 2 3 2 0.5 18-1 8 1.5 2 1 2 2.5 2 7.5 0 4.5-0.5 6-42.5 0 0-4-1.5-4-1.5-2-6-4.5-11-11.5-4-8-1.5-10-1.5-2.5-2-1-2 0-4 1.5-9 10-1 2-0.5 2 1 2 2.5 4 7.5 10 7.5 8 2 7.5 3-1.5 5-1 2 0 1 1 1.5 2-29 0-1-2-2.5-1-8-1-2 0.5-1 1.5-0.5 2-64.5 0 1.5-6 2.5-5 2-2.5 4.5-2.5 1-2 0.5-2-0.5-4-0.5-2-4-4-1-2 0.5-2 1-4 4.5-8 0.5-2 0-6 1.5-4.5 2-2 2-1.5 6-1.5 4 0 6 2.5 4 0 3-1 6.5-4zM907 624l7 0 2 2 0.5 2-0.5 10-2 1-4-1.5-10 0-6 2-2 0-2.5-1.5 0-2 1-2 4.5-4 6-4zM665 632l3-1 2 0.5 1 0.5 1 1.5 0 1.5-1 1-1 0.5-3-0.5-2.5-2zM806.5 632l2 0-0.5 0.5zM974.5 654l3.5-1.5 2-0.5 2 0.5 2 1 1 2.5-0.5 4-2.5 2-2 0.5-4-1-2-1-1-2.5 0-2zM951 660l1-1 2 0 6 5.5 2 1 6 0 1 2.5-0.5 2-2.5 1-4-2-8 0.5-2-1.5-1-2-1-4z"/>
<path fill="#ffa900" d="M907.5 284l206.5 0 0.5 6-2.5 3-2 1-2-0.5-6-3-4 0-4 2-1.5 1.5 0 2 4 4 5.5 4.5 4 1.5 6 1 6 2 2 0.5 2.5-1.5 2-4 0-4-1-6 0-2 5-6 0.5-2 5 0-1 10-4.5 10-1 4 1.5 4 2.5 4 2.5 1.5 2 0 4-1.5 0.5-2-1.5-6 1-8-2-16 90 0 0 53.5-6 1.5-5 3-1.5 2-0.5 6-1 2-2 2.5-2 1-2 0.5-6-1.5-2 0.5-4 4-3 5 0 2 1 2 4 4 2 1 2-0.5 5-2.5 9-8 2-0.5 2 0.5 6 4.5 2 0.5 0 90-8 7-1 2 0.5 2 3 6 1.5 1.5 4 0.5 0 26.5-6-1-6 2-4 2.5-6 8-2 2-2 1-8 2-8 6-4 1-10-1-12 3.5-6 0.5-10-1-8 2-8-1-4-1-4-1.5-14-4-4-3-2-0.5-4 1-2-1-6-3-12-3.5-6-4.5-4-1.5-12 3-8 6.5-10 3.5-14 1-3-0.5-3.5-2-4-6-1.5-1-2-0.5-2 0.5-6 3.5-10 3-4 0-5-1.5-11-6-10-6.5-4-0.5-12 4-10 1.5-10 5-26 7-12-0.5-12 0.5-12 2.5-8 0-4 0-8-2-10-1-10-4-4-2-8-3.5-8-5.5-4-1.5-6 0-10 1-10-2-12 4.5-10 4.5-4 1-4-0.5-14-3-4 0-10 1.5-10-1-10 1-4 0-6-2-4-0.5-4 1-20 8-10 1.5-10.5 3.5-13.5 1.5-4-1.5-4.5-4-3-4-3-6-1.5-2-6-2-4 0-15 4-7 4-2 0-8-2.5-16 2.5-30.5 10-3.5 2-6 6-8 2.5-10 1.5-30 0.5-8 1.5-4-1-4-3-2-0.5-12 2.5-4 1-8 5-8 0-4 2-8 1-4 1.5-10 6-6 2-1.5 1.5-0.5 2 2.5 6 1 6 1 2 3.5 2 6 2 5.5 4 8.5-0.5 10 2 10-0.5 4 0.5 8.5 4.5 3.5 1 6 0 3 1 2.5 2 2.5 4 2 1.5 2 1 4 0 10-2.5 6 0.5 4 1.5 6 4.5 16 3.5 4-1 6-4 2-1 22-2 4 1 5 3 6 6 3 1.5 2 0 2-0.5 8-4.5 2 0 8 6.5 2 0.5 8-2.5 2-0.5 2 1 2 4 0 4.5-2 4 0 2 4 8 1.5 2 2.5 1 2 0 4-3 4-1.5 2 0.5 4 2 3.5 3 1.5 2 1.5 6 5.5 9 2 2 4 2 6 0 4 1 2.5 2 0.5 2-0.5 4 0.5 2 5 1.5 4 0 2-0.5 2-1 6-7.5 2-0.5 11 0 1 0.5 6 4 2 1 2 0 2-1 2-2.5 3-6 0-2-5.5-6-0.5-2 3-2 4 0.5 2 1.5 1 2 0 2-2 4 1 2 4 3 2 0.5 2-1 3.5-2.5 1-2 0.5-6 3-4 2-1.5 6.5-2.5 5.5-6 4-2 12-3 4 0 4 2.5 2-1.5 1.5-2 2.5-1.5 4 0.5 2 1 2 2 1.5 6 0.5 4-4 6 0 2 2 7.5 2 4.5 1.5 2 2.5 1.5 4 1 6-0.5 5.5-2 2.5-3.5 2-1 8 0.5 10-2 3 2 1 2 0 6 1 2 1.5 2 3.5 2.5 4 0.5 8-3 12-3 2 0 2 1.5 1 3.5-0.5 2-1.5 2-3 1.5-2 0.5-6-2-2 0-3 2-1 2-0.5 4-102.5 0 1-6-2-2-2 1-1 1-0.5 2 0.5 4-43 0-2-2-8-2.5-2.5-3.5-1.5-1-2 0-2 1-1 2-1 6-488 0 0-249.5 10-0.5 16 4.5 6-1.5 6 0.5 2-0.5 5-3 5-1.5 4-1 6-0.5 4 1 10 4.5 6-1 2 0.5 4 2 2-1 4-3 2-1 6-0.5 5 1.5 13 7.5 4 0.5 12-2 3-2 5-4.5 4-1 6 0.5 6-1.5 2 0 6 3 4 0.5 10-2 8-1.5 8-3 4 0.5 10 3 8-1.5 22 0 2-0.5 8-3.5 8-1 8 0.5 10-4 4 0 6 1.5 2-0.5 8-5 6-2 4 1 5.5 3 1.5 2 1 3 2 1 7.5-4 4.5-0.5 8 0.5 4-0.5 8-6.5 4-2.5 2-0.5 6 3.5 2-1 2-2.5 3-2 5.5-2 7.5-4 4 0.5 14 2.5 8 5 2 0.5 4 0 16-2 4 0.5 2 0 0.5-1-1.5-4 1-2 12.5-6 2.5-2 1-2 0-6 1-2 3-1.5 4-1.5 2-1 3.5-8 2.5-2.5 10-2.5 14-6.5 1-2.5-0.5-2-2.5-4 0-2 1-2 2-2 13-7 4-1 6-1 4 0.5 13 6.5 2.5 2 2.5 4.5 2 1.5 2.5-2 3.5-6 2-1 2 0.5 6 2.5 10 1.5 12-1.5 8 1 10 3 8 5 2 0 2-1 5-4 3-1 4 0 6 1.5 2-1.5 3-5 3-3.5 4-2.5 10-4 6-1.5 8 2 2 0 2-1 2-1.5 3-4 2.5-2 10.5-4.5 10-2 10-2.5 18-3.5 4-1.5 8-5.5 1.5-2.5 0-2-3-8zM1092 397.5l-13 4.5-6.5 6-6.5 4-1 2 1 1.5 2 1 4 1.5 6 0.5 14-1.5 3-1 3-1.5 2-2.5 1-2 0-4-0.5-4-1-2-2-2-3.5-1zM1206 340l-0.5 2 2.5 0zM578 612.5l-2 2-0.5 1.5 0.5 2 4 2.5 2 0 2-1 1.5-1.5-1.5-2-4-3.5zM748 651l-1.5 1-1 2 0.5 2 6 8.5 2 1 4-1.5 1.5-2 0.5-2-0.5-4-2-2-3-2-4.5-1zM638 344l2 0 1 2-1 1-2 0-1-1zM1059.5 612l6.5 0 8 2 4 2 1 2 3 6 1.5 2 6.5 4 8 8 3 4 3 8 0.5 2-0.5 8 2 4 2 1 2 0 6-3.5 6-1.5 8 0 4 1 6 3 2 2 1 2 1 2.5 0 3.5-1 6-37.5 0 0-8-1.5-5-8-5.5-10-9-3-6.5-1.5-8-1.5-5-3.5-3-4.5-0.5-3.5 0.5-3 2-7.5 8-4.5 4-1.5 2 0 2 2 4 12.5 16 1.5 4-2 1.5-12-3-8-4-2 1-2 4-1 4.5 0.5 4-41 0-0.5-2.5-2-3-2 0-6 2-1.5-0.5-0.5-2 2-3 2-1 4-0.5 2-1.5 0.5-10 1.5-3.5 2-1.5 5.5-3-1.5-1-1-1-3-1.5-6 1-2-0.5-1.5-1-0.5-2 0.5-2 5-10 0-6 2.5-3 2-1.5 4-1 4 0 6 1.5 4 0 4.5-2 7.5-4.5 4-1.5 4 0.5 6 1.5zM1010 650.5l-2 1.5 2 1 2 0 0.5-1-0.5-1.5z"/>
<path fill="#ffa100" d="M913 284l160 0 3 4 2 1 2 0 1-1 1.5-4 8.5 0-1 2-2 2-3 2-1.5 2 0 4 2.5 3.5 2 1 6 2 10 7 8 2 12 5 6.5 5.5 9.5 5.5 2 0.5 4-2 2-2.5 0.5-3.5-1-4-3.5-8 1-8-1.5-10-0.5-6 85 0 0 17-2 1.5-1 3.5 0.5 4 2.5 2.5 0 19.5-10 3-2 0-2 0-8-3-2 0.5-2 2.5-2.5 5-1 4 0.5 6-2.5 4-5.5 8-1 2 0 2 1 2 7 10 2 1 18-9.5 2 0 4 2 4 0 0 82-4 2-10 8.5-1 2 0.5 2 2.5 6-0.5 2-9.5 4-1.5 2 0.5 2 3 1 14 2.5 3-1.5 2-4 1-0.5 0 14-8 3.5-6 3-4 3.5-6 8-2 1-8 2.5-6.5 5-3.5 1.5-12-0.5-12 4-6 0.5-8-1-10 2.5-8-0.5-4-1-18-6-4-2.5-2-0.5-4 0.5-2-0.5-8-4-9-2.5-7-5.5-4-1-12 3-2 1-6 5.5-8 3-4 1-10 0-4-1-1.5-2-4.5-7.5-4-3.5-2-0.5-2 0.5-8 6-6.5 3-3.5 1-3-1-1-2 1-2 0-2-2.5-2-8.5 0.5-4-1-12-5-4 0.5-10 4.5-12 2-8 3-8 2-16 5-26 0.5-4 0.5-6 2-6 1-8-0.5-16-2.5-22-9.5-12-7-6-0.5-12 1.5-10-2.5-14 6-6.5 3.5-5.5 1.5-4-0.5-16-5-2 0-6 1.5-4 0.5-8-1.5-4 0-8 2-3-0.5-7-2.5-4 0-10 3-9.5 5.5-4.5 1.5-12 2.5-10 3-12 0.5-4-1.5-4-3.5-2.5-4.5-2-6-1.5-2-6-2-4-0.5-10 3-8 1.5-6 1.5-8-1-18 3-8 3.5-10 2.5-8 3.5-6 2-2 1-6 6-2 1-16 3-30 1-8 0.5-2 0-6-4.5-2-0.5-6 0-4 1-14 6.5-10-2-2 0.5-6 3.5-10 3-6 5.5-8 2.5-3 3-1 4 1 10 1.5 4 3.5 2.5 10 4 6 5 2 0.5 8-2 10 2 12-1 10 4.5 11 2.5 2 2 3 4 4 3 4 0.5 10-2.5 6-0.5 4 1.5 2 2 2 3.5 2 1.5 2 1 8 1 6 1.5 2 0.5 4-0.5 4-2 6-5 4-1.5 4-0.5 12 1 2 0.5 3 3 3 6 3 2 11 0.5 6-3 2 0 2.5 2.5 0 2-2.5 6-0.5 2 0.5 2 2 1 4 0 6 1.5 8 0 2 1.5 4 6 5.5 6 2 6 2.5 3 2 0.5 2-0.5 6-4.5 2 0.5 4 3 0.5 2-1.5 6 0.5 2 5.5 4 2 2 1.5 6 1.5 2 6-2 8 1.5 12 0 2 0.5 1 2 0 8-485 0 0-246 8-0.5 4 0.5 6 2 5.5 4 2.5 0.5 8-2 6 1 4-0.5 4-2.5 6-4.5 4-1.5 2 0 4 1.5 10 7.5 2 0.5 12 0.5 4-1 1.5-1.5 2.5-6 4-1 4.5 1 11.5 6.5 4 1.5 2 0 14-2 3-2 3-2.5 2-1.5 2 0 6 1.5 6-0.5 8 2 4 0 10-3.5 10-0.5 8-2 10 1.5 12 0 8 0.5 6 1.5 4 0 4-1 10-5.5 4-0.5 6 1.5 4 0.5 3.5-1.5 4.5-3 4-1.5 2 0.5 2 1.5 4 5.5 2 0.5 2-1 2-2.5 4-7 2-1.5 2-1 2 0 2.5 1.5 1.5 6 2 2 4 1.5 8 1 2 0 6-6 2-0.5 10-1 3-1 7-4.5 2-0.5 2 0.5 6 3 2 0.5 2-0.5 1.5-2.5 1.5-4 1.5-2 1.5-1 6.5-1 5.5-3 2-0.5 4 0.5 6 1 4 2 4 3 2 1 8 0 12-1.5 8 2 4 0 4-2.5 1.5-2 1.5-6 1.5-2 5.5-3 4-3 2-4 1-4 5-4.5 4-8 2-2.5 4-1.5 10-0.5 6-4.5 4-1.5 2-3 0.5-2 1-4 0-6 1-2 4-4 3.5-2.5 6-1.5 4 0 2 0 12 7.5 6 8 2 1.5 2 0 2-0.5 6-5.5 4-1 14 1 10-1 10 3.5 6-1 2 0 3 1.5 5 3.5 2 0.5 4-1 6-5 2-0.5 3.5 0.5 6.5 4.5 2-0.5 6-11.5 2.5-2.5 3.5-2 12-4.5 4 0.5 6 1.5 2-0.5 4-2 6.5-7 9.5-4.5 20-4.5 22-4 12-5 1.5-4 0-8zM1094 396l-8 2-6 1.5-2 0.5-6 6-8 4.5-1.5 1.5-0.5 2 1 2 2.5 2 2.5 1.5 4 1 4 0 6-0.5 12-2 5-2 2.5-2 1-2 0-4-1-6-1.5-3-2-2-2-1zM1172 289.5l-2 0.5-1.5 2-1.5 4-0.5 2 0.5 2 1 1 2 1 2 0.5 2-1.5 2.5-5 0-2-1-2-1.5-2zM1202 308l-0.5 2 0.5 4.5 2 3.5 2 0.5 2.5-2.5 0.5-2-0.5-2-2.5-3.5-2-1zM604 655.5l-0.5 0.5 0 2 1.5 0-0.5-2zM358 563.5l-1.5 2.5 0 2 0.5 2 3 2 2-0.5 1.5-1.5 0.5-2-1-4-1-1-2-0.5zM676 367.5l-1.5 0.5-0.5 2 2 0.5 10 2 4.5-0.5 0.5-2-3-2.5-4-0.5zM1102.5 284l8.5 0 0 2-1 2.5-2 0.5-2-1-2.5-2zM1060.5 614l5.5 0.5 10 3.5 1.5 2 1 2 0 4-2.5 1-6 0-6 2.5-3.5 2.5-5 6-3.5 2.5-8 4-2-0.5-4-3.5-2-0.5-2 0.5-2.5 1.5-2 4 0.5 2 2 2 4 0 6-1.5 2 1.5 4 4 1 2-1 1-4-1-4 0.5-2 1.5-2 2-0.5 2 2 6-1 8 0 4-31 0 0-8-2-8 0.5-3 2-0.5 6 1 4 0 3-1.5 0.5-6 2.5-8-1-6-1.5-2-3.5-2-5 0-5 3.5-2 0.5-4 0.5-1-0.5 0.5-2 4-4 0-2-0.5-4 1-1.5 2-1 14-1.5 14-6 4-0.5 6 1.5 4-0.5zM741 630l3-1.5 2 0 2 1 2 7 2 2 6 3 1.5 2.5 0.5 2.5-1.5 1.5-2.5 0-10-4-2 0-4 2-2.5 2-1.5 2-2 5-2 2.5-2 0.5-4 0-2 0.5-2 5.5-2 2-8 4-1 2 1.5 4 0.5 4-21.5 0-0.5-4-1-1.5-2-1-6 0.5-4-1-3.5-3-5.5-6 0-2 1-1 4-0.5 4 1 10 5.5 2 0.5 2-0.5 6-4.5 2 0 1 1.5 1 6 2 1 2 0 1.5-1-0.5-2-1.5-4 0-2 4-4 7.5-4 1-1 0.5-1 0.5-6 1-2 8-2.5 5.5-7.5zM608.5 632l1.5-1 2 0.5 2 1 1 1.5 0.5 2-1.5 4-2-0.5-4.5-3.5-0.5-2zM1085 634l1-1.5 2 0.5 2 1 4 3 2.5 3 1 2 0.5 4-1 4-1 1.5-2 1-2-0.5-2-1-2-2-2-5-1-8zM738.5 662l3.5-0.5 2 0.5 2 2 4 6 2 1 10-1.5 4 0 4 1 4 3 2 2.5 1.5 2 0.5 2-41 0-2-14 1-2.5zM780 664l2-0.5 3.5 0.5 4.5 4 8-2.5 4 0.5 10 2.5 2.5 1.5 1.5 2 0.5 2-0.5 2-1.5 4-28 0 0-4-7-4-2.5-2-1-2 0.5-2zM1121.5 664l4.5-0.5 4 0.5 10 4.5 1.5 3.5 0 2-1.5 6-31.5 0 1.5-4 2-1.5 5.5-2.5 0-4 1-2z"/>
<path fill="#ff9800" d="M918 284l150.5 0 1.5 3 4 5.5 10 10.5 4 2 6 1 10 8 8 1.5 4 2 8 5 10 7.5 3.5 2 2.5 0.5 4-1 4-3 2-2.5 2-4 0-2-3-12 2-16-0.5-8 56.5 0 0 4 0.5 2 2.5 2 2 0.5 2-0.5 2-1.5 1.5-2.5 1-4 9.5 0 0 9.5-4 0.5-6 1.5-2 2.5 0 2 0.5 4 1 2 6 8 4.5 2.5 0 10-12 4-4-0.5-3-2-1-2 0-2 5-8 1-4-0.5-6-2.5-2-9-3.5-4-0.5-4 1-7 5-0.5 2 1.5 0.5 6-1 2 1 2.5 3.5 4 12-0.5 4-6 14-1 10-7.5 12 0 2 0.5 2 4.5 6 3.5 7.5 2 2 2 0 3.5-1.5 6-4 4.5-2 4-0.5 4 0.5 6-0.5 0 18.5-3 2-0.5 2 1 4 2.5 2 0 46.5-4 2-14.5 11.5-2.5 4-1.5 4-5.5 4-1 4 0.5 4 2.5 2 12 2.5 4 1.5 3 2-0.5 2-1.5 2-9 6.5-6 8-2 1.5-10 3.5-6 5-2 1-2 0.5-10-0.5-12 4-16 0-8 3-10-1-20-6.5-4-3-6 0.5-2-0.5-8-4-8-2.5-8-6-4-1.5-2 0-10 3.5-2 1-6 5.5-8 3.5-4 0.5-8 0-2-0.5-3-1.5-7-11-4-3.5-4-0.5-2 1-6 5-4 2-2-0.5-8-5-4-0.5-8 0.5-6-2-6-3-3.5-0.5-6 2-8 4-10.5 2-10 3-8 2-12 4-6 0.5-22-0.5-4 1-6 2.5-6 1-10-0.5-12-2-8-4-14-6-14-6.5-6-0.5-12 1.5-10-3.5-2 0.5-5 3.5-9 4-6 3.5-4 1-4-0.5-16-6-2-0.5-6 1.5-4 0.5-14-3.5-3 0-5 2-6-1-4 0-13 3-8 6-5 2.5-10 2-10 3-4 0-10 0-3.5-1.5-4-4-1.5-4-1.5-6-1-2-2.5-1-10-1.5-12 4-12 1-8-0.5-8 2-10 1-10 4.5-10 2.5-6 3-8 3-8 6.5-8 1.5-10 2.5-36 1.5-2-0.5-6-4.5-2-1-6 0-6 1-8 4.5-4 1.5-4-0.5-6-1.5-4 0-2 0.5-6 3.5-8 1-2 1-4 5.5-2 1.5-6 2-2 1.5-6 7.5-4 0.5-4 2-4 4-1.5 2.5-1 4 0 4 2 2 6.5 2 2.5 0 7.5-2.5 12 3 4 1.5 4.5 4 3.5 2 2 0 8-1.5 8 1.5 10-1 4 0 18 7 5.5 6 6.5 4.5 4 0.5 10.5-3 3.5-0.5 2 0.5 2 2 2.5 4 3.5 3 4 1.5 8 0 10 3.5 6 0.5 3-0.5 2.5-2 4-6 2.5-2 4-0.5 6 1.5 4 2.5 6 7.5 2 2 2 0.5 8-1 4 1.5 1 2 3 14 2.5 4 1.5 1 6 0.5 8 1.5 2 0 4-2 2 1.5 2 1.5 2 4 0.5 10 1 4 1 2 2.5 2 5 1 4 0 8-1 4 0.5 2 1.5 1 2 1 8 2 3.5 2 0.5 8-4 6 0 10-2 2 0.5 1.5 1.5 1 2 0.5 4-58.5 0-1-2-1.5-1.5-2-0.5-2 0.5-2 3.5-12.5 0-0.5-4-1-2.5-4-3-4-1-3.5 0.5-1.5 2 1 8-390 0 0-242.5 10 1 4 1.5 6 3 4 0.5 10-1.5 8 2 12 0.5 6-3 2 0 4 0.5 8 4 2 0 6-2 10 1.5 4.5-1.5 7.5-6.5 4 0.5 10 3.5 4 0 14-1.5 10-2.5 12 0 8 1 4 0 8-4 4-1 8 1 10-2 18 1 12 5 6 0 4-1 8-6 4-1.5 4-0.5 6 1 4 0 4-1.5 6-3 2 0.5 2 1.5 3 6 1 1 2 1 4-1 2-1 6-5.5 2-0.5 14 3.5 8 4 4 1 2-0.5 2-2 3-6 3.5-2 5.5-2 6-3 4-1 10 3 2 0.5 2-1 2-1.5 4-6 2-1 6 0 2-1.5 2.5-2.5 1.5-1 2-0.5 2 0 4 1.5 6 5 2 1 20-2.5 10 2 4 0 7-3.5 6.5-6 4-6 5-6 3.5-6 5-6 2.5-6 2.5-2 4-0.5 6 0 4 1.5 6 3 2 0.5 10-2 12 0.5 3.5-1 2-2 1-2 0-2-4.5-4-4-2-12-0.5-3-1.5-1-2 2-12 2.5-4 3.5-2.5 6-1 4 1 7 4.5 6.5 8 2.5 2 6 2 2 0 6-5.5 4-1 8 1.5 8-0.5 4 0.5 1.5 1 2.5 4.5 2 1 16-3.5 8 2 4 0 10-3 2 0.5 4 1.5 6 4.5 2 0 2.5-3.5 2-12 1.5-2.5 2-1.5 4-2 10-3.5 2 0 8 1.5 4-1.5 4-2.5 6-6 10-5 6-2 12-2 10-1.5 22-5 4 1.5 2 1.5 2.5 4.5 1.5 1.5 2 1 2-0.5 2-2 0.5-2 0-2-2.5-2-4-2-1.5-2-1.5-4 0-6 2.5-8zM1090 395.5l-12 3-2.5 1.5-5.5 5-8 4.5-1.5 2.5 0 2 1.5 3.5 2 2 4 2 4 1 4 0.5 6-0.5 14-3 6-3 2-2.5 0.5-2-1-8-1.5-4-3.5-4-2.5-1-2-0.5zM1170 285.5l-2 2.5-2 4-1.5 4 0 4 1 2 2.5 2.5 4 1 2 0 3-1.5 2-2 1.5-4 0-4-2.5-5.5-4-4.5-2 0zM328 556l-2 1-2 2-4 7-2 2.5-4 2-1.5 1.5 0 2 1.5 0.5 2-0.5 4-1.5 2 0 8 2.5 2.5-1 0-6 0.5-10-1.5-2zM1057 618l3-1 4 0 10 3 1.5 2-1.5 2-6 1-8.5 3-2.5 2-4.5 6-4.5 2-4-0.5-4-2.5-2-0.5-4 1-6 2.5-2 0-8-6-2-2 0.5-2 13.5-6 6-1 12 0zM1089.5 640l0.5-0.5 2 0.5 1.5 2-0.5 2-1 1-2-1.5zM712.5 662l1.5-1.5 1.5 1.5-1.5 1zM1023 672l3-1 2 0 2.5 1 1 2 0.5 6-12 0 0.5-4 0.5-2zM756 676l4-1 4 0 6 3 1.5 2-24.5 0 1-2.5 6-0.5zM801 676l1-0.5 2.5 0.5-2.5 2zM698 680l2-1.5 2 0.5 2 1z"/>
<path fill="#ff8f00" d="M931 284l134.5 0 1.5 4 7 10 10 11.5 2 0.5 6 0 2 0.5 2 1 4 5 2 1.5 10 3 10 5.5 2 1.5 1 2 1 2-0.5 6 0.5 1.5 2 1 6.5-2.5 9.5-2.5 4-3 6-6.5 1-2 0-2-2.5-14 0.5-6 2.5-8-1-10 12.5 0-3.5 8-1 4 0 4 2 4 5.5 4 8 1 4 3 2 1 10-2 2 1 3 8 0.5 6-5.5 16-1 10-6.5 10-1 4 1.5 4 4.5 6 3 8 2 2 1.5 0.5 2 0 16-6 12-1.5 0 9.5-8 0-2 0.5-2 2.5-1 4.5-1.5 4-3.5 3.5-3.5 2.5 0 2 1.5 1.5 6 2.5 1 2 0 2-2 2-1.5 2 0.5 2 4 4.5 4 3 8-1 0 18-4 2-8 7.5-10 7-5.5 3-2.5 2-4 6-1 4 0 2 1 2 4 5 2 1 10 1.5 4 1.5 2 1 0 2-1 2-5 4-8 9.5-10 4-8 5.5-4 1-8 0-12 4-16 0.5-8 3-10-0.5-18-6-6-3.5-6 0-2 0-8-4.5-8.5-3-9.5-8-2-0.5-4 1-10 5-8 6.5-6 2.5-4 0.5-10-1.5-2-1.5-8-12-2.5-2-3.5-1-6-0.5-2 1.5-4 4-2 1-2 0-8-3.5-12 0-14-5.5-2 0-5.5 2-8.5 4-30 7.5-10 3.5-6 0.5-22-1-4 1-8 3.5-4 0.5-10-0.5-12-2.5-8-4-18-7.5-6-3-4-1.5-6 0-12 1-10-3.5-2 0.5-8 5.5-12 6.5-4 1-6-1.5-16-7-6 1-4 0-6-1-8-3-6-0.5-14 4-10 1.5-4 2-5 5-5 3-20 5-4 0.5-10-1-2-0.5-2-1.5-2.5-3.5-2-10-0.5-2-1-1.5-12-1-4 1-6 2.5-4 1-10 0.5-10-0.5-8 2-12 1-8 4.5-10 2.5-8 4-6 2.5-8 5.5-8 1.5-12 3.5-16 1.5-18 0-2-0.5-6-4.5-2-1-8-0.5-6 0.5-6 4-4 1.5-4 0-8-2.5-4-0.5-2 1-6 3.5-10 2-2 1.5-4 5.5-12 7.5-4 0.5-8-1-14 0-14 5-2.5 1.5-1.5 2-4 7.5-2 2-5 2.5-2 2-0.5 4 0.5 2 1 1.5 2 1 10-2 6 2 4 0.5 12-3 8 1.5 10 1 6-1 4-0.5 12 2.5 6 5 4 1.5 10-1 8 0.5 10-1 4 0.5 13 5 2 2 3.5 6 9.5 5.5 4 0.5 10-0.5 4 0.5 7 6 5 2.5 2 0.5 8-1.5 4 1 8 3.5 4 0.5 4 0 4-2 4-3.5 4-3 2-0.5 4 0 4 2 8 8.5 4 3 2 0 4-1.5 2 0.5 2 3.5 1.5 4.5 1.5 8 1 2 4 3 8 1 3.5 2 1.5 2 4.5 12 0 4-1.5 3.5-2 1-2 0-4-1-6-3.5-2 1-5 3-3 4-1.5 4 0.5 6-383 0 0-239 4.5 1 7.5 4 4 1.5 16-2 20 5 8-2 8 1.5 12 0.5 2.5 1.5 2 4 1.5 1.5 2 1 2 0 2-2 2-4.5 1.5-2 2.5-2 6-3.5 4-1.5 4-0.5 10 1 16-1 10 1.5 8-2.5 10 1 4-0.5 8-4.5 4-1 2 0 6 1.5 12-2.5 6 0 4 1 2.5 1.5 1 2 2.5 8 1 2 3 2.5 4 1.5 2 0 1.5-2 1-6 1.5-2 10-3 6-5.5 4-2 14 0 8-2 2 0.5 1.5 2 2.5 5 2 1.5 2 1 4-0.5 6-1.5 8-4.5 2 0 6 2.5 6 0.5 8 3 4 0.5 2-0.5 2-1 2.5-2 9-10 4.5-2.5 6-1 8 2.5 4-0.5 8-7 2-0.5 6-0.5 2-0.5 4-3.5 2-1 2 0.5 6 4 4 1.5 12-2.5 6 0 12 2 6-1.5 8-4.5 6-4 6-9 4.5-4 3.5-6 5.5-6 2.5-4 1.5-2 2.5-1 2 0 4 0.5 6 3 4 1.5 4-0.5 6-1.5 12 0.5 4-1.5 7.5-7 0.5-2-0.5-2-3.5-2.5-8-3.5-12-1-1.5-1-1.5-2 0.5-6 1-4 1.5-2 4-2.5 4-0.5 4 1 5 4 7 9 10 4 2 0 2-0.5 5-4.5 3-1 8 3 8 2 4 2 4 1 2 0 8-2.5 8-1 8 1 10-0.5 6 0.5 3.5 1.5 4.5 4 2 1 2 0.5 2 0 2-2 2-5.5 1-12 1-2 2-2 12-4 4 0 4 1.5 2 0.5 2-1 6-4 8-7.5 5.5-3.5 4.5-2.5 8-2 18-2 10-2.5 12-1.5 2 1 2 1.5 3 4 3 2 4 0 2-1 2.5-3 1-4-1.5-3.5-5-6.5-1-4 1-2 1-1.5 4.5-2.5zM1092 394l-14 3-2.5 1-7.5 6-6.5 4-2 2-1 2 1 4 1 2 2 2 5.5 3.5 2 1 4 0.5 10-0.5 6-2.5 8-1.5 5.5-2.5 2-2 1-2 0-4-2-8-2.5-4-2-2-4-2zM1162 333.5l-2 0.5-2.5 2-1 2 0 2 1.5 2 4 1.5 2-0.5 1-1 1-2 0-2-0.5-2-1.5-2zM260 486.5l-1.5 7.5 1.5 1.5 2 0 1-1.5 0.5-2-1.5-5zM832 346.5l-1 1.5 1 2 2 0 1-2-1-1.5zM1179.5 284l24.5 0-1 4-3 4.5-12 6-2.5-0.5zM1217 320l1-1 2 0 1 1-0.5 2-4.5 2-0.5-2zM341 560l5-0.5 1 0.5 1 2-0.5 4-1.5 3-2 2.5-2 0.5-2 0-2-1.5-1-2.5 0-2 1-4zM1026 626l4-1 6-0.5 8 0.5 4 1-0.5 2-1.5 1.5-2 0.5-6-0.5-10 4-2-0.5-2-1-1.5-2 0.5-2zM600 668l2-1 4 0 6.5 1 3.5 1.5 2 3 2 7.5-15 0-5.5-10zM649.5 676l2.5 0 1.5 2 0.5 2-9 0 1-2z"/>
<path fill="#ff8600" d="M937.5 284l125.5 0 1 4 5.5 10 7 8 4 6 3.5 2 8 1.5 2 1.5 4 4.5 2 1.5 20 8 1.5 3 1 8 1.5 3 2 1 2 0 7-2 7.5-4 5.5-0.5 2 1 2 3.5 2 2 14 3 2-0.5 1-0.5 1-2-0.5-2-2.5-8-3-5-5-5-5.5-14-0.5-4 0.5-4 0.5-2 2-2.5 2 1 2 3.5 4 4 4 2.5 6 2.5 4 3.5 2 0.5 2 0 8-3 2 0.5 2 3 0.5 2.5 0 6-2 8-3 8-1 10-6 10-1 4 0.5 2 1.5 4 4 6 2 6 2.5 3.5 2 1.5 2 0.5 10-2 2 0.5 1.5 2 0.5 4-1 4-3 2.5-6 3-0.5 0.5-0.5 2 7 17.5 5 6.5 3.5 6 2.5 6 0.5 4-1 4-3.5 4-9 6.5-7.5 3.5-3 2-8 12-0.5 2 1 2 5.5 4 2.5 4 2 1 8-0.5 5.5 1.5 0.5 2-9 12-3 2.5-9 3.5-9 5.5-10 1-12 4.5-16 0.5-6 2.5-4 1-8-1-18-5.5-6-4-6 0.5-2-0.5-17.5-8.5-4-4-2.5-4.5-2-2-4 0.5-4 1.5-4 4.5-4 2.5-6.5 5.5-3.5 2-6 2-8-1-4-1.5-2-2.5-5.5-9-2.5-2.5-4-2-12-3-3 1.5-1.5 4-1.5 1-2 0.5-8-2-6 0.5-4-0.5-12-5-4 0-8 2.5-8 4-10 3-30 7.5-6 0.5-20-1-6 1-8 3-4 0.5-10-0.5-8-1.5-22-10.5-12-5-4-1-8 0-8 1-4-0.5-8-3-2 0-2 1-6 5-12 7-4 1-6-1.5-16-8.5-14 0-10-3-6-1-4 0.5-12 4.5-10 2-4 2.5-5.5 6-4.5 2.5-18 4.5-4 0.5-10-1-3.5-2.5-1.5-4-1.5-14-1.5-1-6 1-8-0.5-2 0.5-8 3.5-4 1-10 0-10-1-10 2.5-10 0-2 0.5-8 5-10 3-6 3.5-6 2.5-8 5-8 2-10 3.5-6 1.5-28 1-4-1-6-5-2-0.5-10-1-6 1-6 3.5-4 1-4-0.5-8-3.5-4 0-2 0.5-6 4-2 0.5-6 0-2 1-6.5 8.5-3.5 2.5-6 3-8 0.5-12-1-12 2.5-10 4.5-3 2-1 1-2 5.5-2 3-7.5 4.5-2 2-1 4-0.5 2 1.5 4 1.5 2 2 2 2 0.5 8-2.5 10 2 14-2 18 1 8-1 12 2.5 8 4.5 4 0.5 10-0.5 8 0 10-1 4 0.5 4 1 5 2.5 2.5 2 4.5 7.5 4 4 6 3 2 0.5 8 0 4 0 2 1 6 5.5 4.5 2.5 2 2 0.5 2-1 12-5 10-0.5 4 0.5 2 1 2 2 1 10 1.5 4 0 8 0.5 2-0.5 2-1.5 1-3-1-6-2-4-8-3-2.5-3 0-2 1.5-6-0.5-6 1.5-2 2-0.5 8 3.5 6 1 6-1 2-0.5 6-4.5 4-1.5 4 0 2 1 6 5 7.5 9.5 6.5 3 1 1 0.5 2-0.5 6 1 2 4 3.5 1.5 2.5 0.5 6-0.5 4-1 2-4.5 5.5-2.5 4.5-1 4-0.5 6-378 0 0-234.5 2 0.5 9 4 5 1.5 4-0.5 6-1 8 2.5 8-0.5 10 2 8-1 6 2.5 2 0 8-1.5 2 0.5 6 5.5 4 1.5 2 0 3-1.5 2-2 4.5-6 2.5-1.5 2-1 6 0 7.5-3.5 18.5-1 4 0.5 6 2 10-1 2.5 1.5 4.5 4 3 1 1-1 2.5-6 8.5-5.5 4-1 8 3 2-0.5 8-3.5 6-0.5 2 0.5 2.5 1.5 1 2 2.5 8 2 3.5 2 2 6 3 8 2.5 2.5 1 1 2 0 2-2 6 0.5 1 2 0.5 2.5-3.5 1.5-4-2-8 0.5-8 1.5-2 6-3 6-5.5 6-1.5 4 1 1.5 1 2 8 2.5 2 8-2 16 1 2-0.5 4-2.5 2-0.5 8 1 10-2.5 8 1 4-0.5 4-2 12-11 4-2.5 4-1 10 2 4-2 4-3 4-2 8-1 8-3 2 0 8 3 4 0 8-1.5 10 2 12-0.5 4-1.5 10-6 4-3.5 6-7.5 6-4 2-1.5 2-6 4-4.5 4-6 2-1.5 2 0 2 0.5 6 3.5 4 1 10-0.5 4 1 2 0 8-2.5 4-2.5 10-8.5 1.5-2 0.5-2-2.5-4 0.5-0.5 2-0.5 6 2.5 6 0 8 1.5 8-3 4 0 8 2 2-0.5 8-2.5 6-1 16 0.5 10 2.5 9.5 5 4.5 2 2 0 2-2.5 3.5-9.5 1.5-8 1-1.5 2-1 2 0 2 1 4 3.5 4 2 8 1 2-0.5 1-0.5 1-2.5 1.5-5.5 0-6 1.5-2 7.5-8 7.5-5.5 4-2 6-1.5 20-2.5 8-1.5 10-1 2 0 2 1 4.5 5 3.5 1.5 4 0 3.5-1.5 2.5-3 2-5 0-2.5-2.5-5.5 0-2 4-6 2-10zM1088 393.5l-8 1.5-4 1-17 12-1.5 2-0.5 2 1 4 2 4 8 6 4 1 12 0 6-3 8-1.5 8-2.5 2 1 2 3 2 0 0.5-2-0.5-1.5-2.5-4.5-4-14-2.5-4-3-3-4-2-4 0zM478 666l-0.5 2 0.5 0.5 1-0.5 0-2zM182 491l-1.5 1-0.5 2 2 1.5 3.5-1.5 0.5-2-2-1zM232 473.5l-2 2.5-0.5 2 0.5 2.5 2 1.5 2 0.5 2-0.5 2-1 1-1 0-2-1.5-2-2-2-1.5-0.5zM254 479.5l-1 2.5 1 6-0.5 6 0.5 2 1.5 2 2.5 1.5 4 0.5 3-2 1-1.5 0.5-2.5 0-4-1-6-1.5-2.5-2-1.5-4-1zM1157.5 284l6.5 0-2 5-2 1.5-2-3zM1184.5 284l15.5 0-2 4-4 3-4 1.5-2-0.5-2-2-1.5-4zM682 346l4-0.5 2 0 4 2.5 3.5 4 1.5 4 0.5 2-1.5 1.5-2 0.5-12-0.5-3.5-1.5-1-2 0-2 0.5-4 2-2.5zM1227 434l1-0.5 0 8-2-0.5-1-1-0.5-2 0-2z"/>
<path fill="#ff7d00" d="M941 284l120 0 1.5 8 0 6 1.5 4.5 2 1.5 4.5 2 2 2 2 4 2.5 2 3.5 2 9.5 3 12 11 2 1 8 1.5 4 1.5 2 2 4 12 2 1.5 2 0.5 8-2 10 0 6.5 2 9.5 1.5 11 4.5 3 0 2-2 0.5-2 1.5-5 0-3-16-24.5-4-9 0-3.5 2-1 16 12 4 2.5 4 0 6-2 2-0.5 1.5 2 1 2-0.5 6-1.5 6-3.5 8-0.5 10-6 10-0.5 2 0 6 2 6 5.5 10 4.5 6.5 2 0.5 8-2.5 2 0 2 1.5 0.5 2-0.5 2-1.5 2-6.5 2-2.5 2-0.5 2 9 22 7 10 2.5 6 1 4-1 4-3.5 4-8 5-8 3.5-4 3.5-8 10-1.5 4 1 2 6.5 4 2 1.5 2 4.5 2 2 8-1 2 0 1.5 1-0.5 2-5 8.5-4 2.5-8 3.5-10 5.5-8 1-12 4.5-16 1-8 3.5-4 0-6-0.5-6-2.5-11-3-7-4-6 0.5-2-0.5-8-4.5-7.5-3.5-2.5-2-2.5-4-1.5-6.5-1.5-1.5-2.5-0.5-6.5 0.5-5.5 2-2 2-0.5 4-1.5 2-5.5 6-4.5 3-6 2-8-2-4-2-6-10.5-2.5-2.5-3.5-1.5-14-4-4 1-3.5 4.5-2.5 0.5-6-0.5-6 0.5-4-0.5-12-5-4-0.5-8 2.5-15.5 7-12.5 3.5-22 4.5-4 0-10-1-12 0-4 1-8 3-6 0.5-8 0-8-2-20-10-8-2.5-6-2.5-4-1-17.5 0.5-10.5-3-2 0-2.5 1-7.5 6.5-10 6-4 1-4-1-4-1.5-14-9-4-0.5-10 1-12-4-4-0.5-6 1-10 4.5-10 1.5-4.5 3-5.5 6-4 3-16 5-6 0.5-5.5-0.5-4.5-1-2-2-1.5-3-0.5-8 0.5-4 2.5-4 6.5-6 1-2-0.5-2-2-1-2 0-2 0.5-4 2.5-5 6-3 1.5-4 0.5-6-0.5-12 5-12 0.5-10-1.5-10 2.5-8-1-4 0.5-8 4.5-8 3.5-8.5 4.5-7.5 3.5-8 4.5-6 1.5-10 4-6 1.5-12 1-8-0.5-8 1-4-1.5-4-3.5-4-2-10-1.5-4 0.5-10 3-2 0.5-8-3-6-1.5-4 0-8 4.5-6 0-2 0-2 1-6 10-3 3-3 1.5-4 0.5-8 0.5-3.5-0.5-4.5-2-2 0-6 3-8 2-12 5.5-2 1.5-2 2-2 6-2 2-6.5 2-5.5 5-4 0-2 2-1.5 3 0.5 2 3 1 4 0.5 2 1.5 6 8 2 2 2 0.5 2-0.5 6-3 8 1 12-1.5 16-0.5 8 1 8 0 10 1.5 10 3.5 18 0 10-1.5 4 0 4 0.5 4 2 2.5 2 3.5 6 6 7.5 6 6 2 0.5 8-2.5 4 1 2 1 8.5 8.5 0.5 2-1 3-2 2-2.5 1-2 2 1.5 2 2.5 2 0.5 2-0.5 2-3.5 9-5 5-1 2 0 4 0.5 4 6.5 4 1.5 2 1.5 6 0.5 6-298.5 0 0-182 2 1.5 2 0.5 4-0.5 5-1.5 3.5-2 5-4 1-2 0-4 5.5-1.5 6-1 2 0.5 1.5 2 2 4 2.5 1.5 2 0.5 6-0.5 6 3 4-1 6.5-5.5 5.5-1.5 2.5 1.5 0.5 2 0 4 1.5 4 1.5 2 4 2.5 4 0.5 4.5-1 2.5-2 1.5-4 0.5-8-1.5-6-3.5-4-8-6-4-1-8 0.5-8-3.5-4-0.5-4 1-8 3.5-6 4-2 0-2-1.5-3.5-6.5-0.5-2 0-2 10-7 2-0.5 8 2 6-1 8 3 2 0 6-2.5 2-0.5 2 1 6 5 4 1.5 2-0.5 4-2 8-8 2-1 8-1 6-3.5 4-1 8 2.5 6-1.5 10 2 8 0 10 6 4 0.5 3-1.5 1-2 1-6 1-1.5 4-3 4-0.5 6 3 4 0 4-1 5-3 3-0.5 2 1 1 1.5 0.5 4 1 2 7 8 4.5 3 8 3 1.5 2 0.5 2-2 8 0.5 2 1.5 0.5 4 0.5 3-1 2.5-2 6-8 1-2 0-2-2-4-0.5-4 2-2.5 4-2 4-0.5 2 1 8.5 4 2.5 2 1 2-1 2-8 4-0.5 2 1.5 1 2 0.5 3-1.5 6-4 1-2 1-4 1.5-2 3.5-2.5 6-1.5 10 0.5 8-2.5 18 0.5 10-2 4-2 6-5.5 10-7.5 4-1.5 8 0.5 4-1 10-6 10-1.5 6-1.5 2 0 16 4 18-1 4 0.5 8 2 4-0.5 8-8 3.5-5.5 6.5-7 2-1.5 9-3.5 5.5-4 1.5-2 0.5-2-0.5-6 1-2 1-1 2 0 6 3 10 0.5 8 2 2-0.5 10-4.5 8-7 14-7.5 4-0.5 8 2 2 0 2-1 4-3 2-1 10 1 10-4 6-0.5 12 0.5 4 0.5 8 2.5 12 5.5 6 3.5 2 0 2-2.5 2-8 2-4.5 2-3.5 2-1 2 0 6 3.5 10 2.5 8 4 4 0 2.5-1 1.5-2 0.5-2 0-2-4.5-4-1.5-2-0.5-2 2-6 0-6 1.5-4 2-2 8.5-7 6-2.5 12-1.5 10-1 8-1.5 12 0 6 5.5 4 1 4 0 3-1 3-2 4.5-8 1-4-0.5-4 7.5-20zM1090 392l-10 1.5-6 2-16 11.5-2 2.5-0.5 2.5 1 4 1.5 3.5 8 7.5 4 2 8 0.5 8 1.5 2-1 1-2 2-2 11-2 2.5 0 5.5 4 2 0 2-0.5 1-1.5 0-4-5-10-3-10-1-2-4-4.5-4-3-4-0.5zM683 348l3-0.5 4 1 3 3.5 0.5 2 0 2-1.5 1-4 1-4 0-2-0.5-1.5-1.5-0.5-4 0.5-2zM180 454l2-1 4 0.5 7.5 2.5 2.5 2 2 6 0.5 2-1.5 4-4 6 2 8-1 1.5-4 1-6-1-2 0.5-2 1.5-2.5 2.5-3.5 6 0-29.5 2.5-8.5zM532.5 622l1.5-1 2 0 2 1 2 2 3.5 6 6 6 2.5 10 2 3 3 3 0.5 2-0.5 2-4.5 6-4.5 12.5-2 3-4 2.5-63 0 2.5-6 4.5-5 4-1.5 6 0.5 2-1 4-9 7.5-6 1-2 0.5-2-3-12-2-3.5-2.5-2.5 0-2 8.5-3 2 0 1.5 1 1 2 0 2 0 8 2.5 8 1.5 2 1.5 0.5 2 0 2-2 1-2.5 0-4-1-6 0.5-2z"/>
<path fill="#ff7400" d="M944.5 284l114 0 1.5 6 0 11.5 2 4.5 11 10 14.5 6 2.5 1.5 12 10.5 8 1.5 4 1.5 2.5 3 3 10 2.5 3 2 1 2 0 6-2.5 4-0.5 8 2 10 1 6 1.5 10 4 8 0.5 1 2 0 4-0.5 8 0.5 4 5 5 4.5 7 1.5 7 6.5 13 7.5 20 6 6 2.5 4 1 4 0 4-3 4-6.5 5-8 3-4 3-8 8-2 3-2.5 6 0.5 2 2 1.5 8 4.5 1.5 2 1 4 1.5 3 2 0 4-1 2 0 1 2-1 2-2 3.5-2 1.5-8 3.5-10 5.5-10 2.5-10 4-16 1.5-8 3-4 0-6-0.5-10-3.5-6-1.5-8-4-6 0-4.5-1.5-5.5-4-8-4-1.5-2-0.5-2-0.5-6-1-2-2.5-1.5-4-1-8 0.5-8 2-2 2-1 8-2 4-4.5 4-4.5 2-2 0-6.5-2-4-2-1.5-2-5.5-10-2.5-2.5-14-4-4-0.5-4.5 1-5.5 4-12 0.5-6-0.5-10-4.5-4-0.5-10 3-16 7.5-12 3.5-20 2.5-12-1.5-16 1.5-12 4-8 0.5-6-0.5-6-2-11.5-5.5-6.5-4-8-2-10-4-18 0-14-2.5-2 0.5-2 1.5-7 6.5-9 5.5-4 1-2.5-0.5-4.5-2-15-10-4-1-8 1-4 0-8-2.5-6-3-2 0-2 0.5-12 6-8 1.5-4 1.5-5.5 4-5.5 6-2.5 2-14.5 5-6 0.5-8-1.5-3-2-1-4 0-6 1-4 1.5-2 8-6 3.5-4 1-2-0.5-2-2.5-2.5-4-2.5-6-3-2-0.5-2 1.5-1.5 7-3.5 6-2 2-3 1.5-8 0.5-10 4.5-4 1-10-0.5-10-1-8 1.5-10-1.5-8 1-8 4.5-13.5 8.5-8.5 3.5-6 3.5-14 5.5-8 2.5-12 1.5-8 0-8 0.5-3-1-7-5.5-2-1-12-1-12 1.5-8-3-12-1-2 0.5-6 3-8 1-4 1.5-2 2-4 8.5-4 3.5-4 0.5-6 0-4-0.5-4-2-4-0.5-7.5 4.5-6.5 2-7.5 4-10.5 4-14 10-6 1-2.5 1-3.5 14 0 2 2 2 7.5 2 2.5 1.5 3 2.5 5 6.5 4 2.5 2 0.5 2 0 6-4.5 12-2.5 4-0.5 8 0.5 10-1.5 8 1.5 8 0.5 8 1 12 3 16 0 14-2.5 4 0.5 4 1.5 2 1.5 1.5 2 10 16 1 4-1 8 0.5 2 2 1.5 4 1 2-0.5 2-2 1-6 1.5-2 1.5-1.5 2-0.5 2 0.5 2 1.5 1.5 2 1 2-1 2-5 4-1.5 2-1.5 8-8.5 8-1 4 0 2 1 2 5 5.5 0.5 4.5 1 2 3 2 5.5 2 2.5 2 1.5 4 0 6-294 0 0-164 2-2 2.5-8 3.5-3 10-3 10-6.5 4-1 12 5.5 1 2 0 6 0 2 1.5 2 1.5 1.5 2 0 2-0.5 2-1.5 6-9.5 4-2.5 4 0 2 1 5 5.5 3 1 8 0 6-1 2-1.5 1.5-2.5 1.5-8 0.5-4-2-6-5.5-10 0-2 3.5-4 10.5-9 2-1 6-1.5 8-2.5 2 0 6 6 2 1 4-0.5 6-4 6-0.5 6 0.5 14 6.5 4 0.5 4-1.5 3-2 1-2 1-6 1-1.5 6 1.5 10 0.5 4 0.5 4 2 4 3 4 5.5 2 2 6 2.5 3 2 0.5 2-5.5 6-0.5 2 0 2 1.5 2 3 2 2 0 6-1 8-2 4.5-3 5.5-5 2-1 2 0 4 2 4 0.5 14-5.5 1.5-1 2-2 2-8 3-2 3.5-0.5 10 0 8-2.5 2-0.5 4 0.5 6 2 4 1 6-0.5 4-1 4.5-2.5 5.5-7.5 4-3 6-2 6.5-3.5 9.5-2 8-5.5 4-1 16-2.5 8 2 8 4 4 0 6-2.5 6-0.5 6 1.5 6 4 6 0 4-2 4-5.5 4.5-4 3.5-5 2-2 8-2.5 5-4.5 7-3 4-2.5 2-2.5 2-6 2-1.5 4-1 10 1.5 4-0.5 12-5 6-6.5 4-2 14-4.5 2 0.5 6 1.5 4 0 6-4 2-1 8-0.5 8-3.5 4-1.5 14 0 6 1 19.5 9 6.5 5 4 1 7-2 2.5-2-0.5-2-3-2-1-2-0.5-4 1.5-4 2-2 2-0.5 8.5 4.5 11.5 7 2 2 1 1 1.5 6 3 8 0 2-1 4 3.5 4.5 2 0.5 2-0.5 2-1 1-1.5 1-2 0-2 0-6-3-10 0-6 1-4 4.5-8-0.5-2-2.5-2-3.5-2-2-2-0.5-2-0.5-10 2-4 8.5-8 4-2 4.5-1 10-1 8 0 10-1.5 10 1 6 4 4 1 4 0 4-1.5 4-3 6-10 3.5-14 4.5-10zM1082 392l-6 1.5-5.5 2.5-12.5 9-3 3-1 2 0.5 4 1.5 5 2 3 9 8 3 1 10 1 8 3 2 0 1-1 1-4 1-2 5-1.5 4-0.5 2 1 4 2.5 4 1.5 2 0 2-0.5 1-2.5 0-2-1-5.5-5.5-10.5-2.5-8-2.5-4-5.5-5-4-2-6 0zM1150 379l-4.5 3-1.5 2-0.5 2 4.5 0 4-2 2.5-2 1-2-1.5-1.5zM314 647.5l0 1 1-0.5zM338 609l-2 3 0 2.5 2 1 2-1 2-1 1.5-1.5 0.5-2-2-2-2 0zM358 482l-0.5 2 0.5 2.5 1.5-2.5zM632 459.5l-2 1.5-1.5 3-0.5 2 1 2 1 1 2 0.5 8-1 0.5-0.5-0.5-2-2.5-4-3.5-2.5zM762 414l-2 0-3 2-0.5 2 1 2 4.5 2.5 4 0 2-2.5 0-2.5-2-2.5zM1170 320l8 4 4-0.5 6-1 2 0 1 1.5 0.5 4-1 4-5.5 12 1 4 0 4-2 3.5-2 2-2 0 0-3.5 3.5-10-5.5-6-6-9-2-5.5zM684 350l2-0.5 2 0.5 2 2 0.5 2-2.5 2-4-0.5-1.5-1.5 0-2zM181.5 458l2.5-1.5 2 0 3 1.5 2 2 0.5 2 0 2-0.5 2-3 1.5-4 0-2-1-2-2.5 0-2 0-2zM247 464l3-1.5 2.5 1.5 0 2-2.5 0.5-2 0-1-0.5zM174 484l0-2 2 2-0.5 2-1.5 2zM536.5 634l1.5-0.5 6 3 2 2 1.5 3.5 0.5 4-1.5 6 1.5 6 0 2-2 8-2 3-4.5 3-2.5 2-1.5 4-7 0-1-2-1.5-2-2-1.5-4-1-2 0.5-2.5 2 0.5 4-4 0 1-4-1.5-2-4-4-2-4 0-4 1-2 1.5-2 2-0.5 14-4 4-2 2.5-3.5 3.5-11z"/>
<path fill="#ff6b00" d="M948.5 284l106.5 0 2.5 6 0 10 1 4 1.5 4 2 3 3 3 5 3.5 8 4.5 4 2.5 8 3.5 10.5 8 12 4 1.5 1.5 1 2.5 2 8 3 4 2 1 4 1 2-0.5 6-3 2 0 8 2 8 0 5 1.5 11 5 4 1 2 1.5-1 2.5-9 5.5-2 1-8 0.5-4 1.5-18 11.5 1 2 1 0 4 0.5 4-0.5 8-2 5.5-2 6.5-3.5 4-1 8 1.5 4 1.5 4 3 2.5 4.5 3.5 10 4.5 6 2 4 6.5 20 1.5 2 5.5 4 2 3 1 3-0.5 4-3 4-5.5 3.5-8 2.5-11.5 10-6.5 12 0 2 2.5 2 7.5 3 2 1 1.5 2 2.5 10.5 1 1.5-1 2-5 4-7 4-10 3-8 3-6 1.5-14 2-6.5 2.5-5.5 0-4-0.5-10-4-8-1.5-4-2.5-2-1-6 0.5-3-1-7-5.5-4.5-2.5-2.5-2-1-3-0.5-7-1.5-1.5-4-1.5-4-0.5-8 0-10 1-1.5 0.5-1.5 2-0.5 2 0 8-1 4-3.5 3-4 2-4-0.5-8-4.5-2-3-5-9-1-1.5-2-1-18-3.5-4 0.5-8 3.5-12 1-4-1-10-4.5-4-0.5-10 3.5-15.5 7.5-12.5 3.5-16 1.5-4-1-6-2.5-4-0.5-8 3.5-10 1-12 4-10 0.5-4-0.5-5.5-1.5-18-10-8.5-2-10-4-6-0.5-8 0-18-1.5-2 0.5-2 1-6 6.5-10 6.5-2 0.5-4 0-6-3-14-10-4-1-10 1.5-6-1.5-4-1.5-1.5-1.5-3-4-1.5-1-2-0.5-3.5 1.5-4.5 4.5-4 3-4 1.5-8 1.5-2 1-9 6.5-5 6-3 2-11 4-4 0.5-4 0-3-0.5-3-1.5-1.5-2.5-1-6 1-4 1.5-2 14.5-12 1.5-2 2-4.5 2-1 8-1.5 2-1.5 1-1.5 0.5-2-1.5-2-6-2.5-2-1.5-10-9.5-4-1-2 0.5-2 1.5-6 9-6 4.5-1 3-1.5 8-1.5 3-2 2.5-4 2-6 0-10 5.5-6 0.5-10-0.5-8-1-10 1-8-1.5-10 0.5-4 2-14 10-4 2-8 2.5-6 4.5-10 4.5-10 3.5-14 1.5-6 0-8 1-3.5-1.5-6.5-5.5-2-0.5-12-1.5-10 1-10-4-14-1.5-8 4.5-10 2.5-4 2-2 2.5-2.5 6.5-1.5 2-2 1-4 0.5-4-0.5-10-3.5-2 0-8 5.5-6 2-9.5 5-8.5 2.5-8 4.5-8 3.5-8 2.5-2 1-1.5 2 0 2 0 8-4.5 12 2 2.5 2 0 8 0.5 4 1 2.5 2 8 10 1 4 0.5 8 2 3 2 1 2-0.5 3-5.5 5.5-4 1-2 1-6 2.5-2 3-1.5 4-1.5 8 0.5 8-1.5 4 0 8 1.5 10 0 6 0.5 10 3 8 0 8 1 4-0.5 12-3.5 4 0.5 3.5 1.5 8 12 3 6 0 4-1.5 8 0.5 4 2.5 2.5 6.5 3.5 1 2-1.5 3-4 3-1.5 2-0.5 2 0.5 12-3 8 0 2 1.5 4 0.5 2-4 4-2.5 4-261 0 0-157 2-1 6-5.5 6.5-2.5 0.5-2-3-4 8-2.5 4-2.5 4-3 2-1 4 0.5 3.5 2.5 2 6 2 4 2.5 3 4 1.5 4-0.5 2-1 8-10 2-1.5 2 0.5 4 3 4 1.5 6-0.5 10-1 4-1 2-1.5 1.5-2.5 2.5-12-0.5-4-4.5-12 0-4 2-4 2-2 7-5 10-3 4-0.5 6 4.5 6 2 4-1 6-3.5 4-0.5 15 5 6.5 4 0.5 2-3.5 4-1 2 0.5 2 2 2.5 2 1 2-0.5 4-2 2 1 2 6 0.5 8 1.5 2.5 2 1 2 0 2.5-1.5 5.5-10.5 2-2 2 0 4 2.5 2 0.5 3.5-2.5 1.5-2-0.5-2-2-2-2.5-1-2-0.5-6 3-2-0.5-6-3.5-3.5-3.5-0.5-4 0.5-4 1-4 2-2 2.5-1.5 4-0.5 8 1.5 4 2 2 2.5 2 6 4 6 0 2-1.5 4 0.5 2 11 12 0.5 2-1 6 0.5 4 2 3 4 0.5 3.5-1.5 0.5-2 0-2-2-4-5-6 1-2 2.5-2 4-2 9.5-3.5 12-2.5 8-1.5 8-4.5 8-3 2-1 1.5-2 3-6 2-2 3.5-1 8 0 8-3 4 1 6 4 2 0.5 12-2 4-1.5 4-2 1.5-2 2-6 2.5-2.5 8-2 8-4.5 6-2.5 10-6.5 12-2 6-0.5 4 1 4 1.5 6 4 2 0.5 4-0.5 6-3 4-0.5 4 0.5 2 1 6 5.5 4 0 6-1.5 3.5-2 4.5-6 10-8.5 12-4 2-0.5 6 2 2 0 2-1 1-2-0.5-4 0.5-2 3-4 2.5-6 2-2 3.5-0.5 8 0.5 8-3.5 6-2 2-1 4-5.5 2-2 4-1.5 8-1 10 1 6-0.5 8-3.5 6-1 10-6 4-1.5 16 0 6 2 10.5 6 2.5 2 1.5 2 0 2-2.5 4-0.5 2 1 2 1.5 1.5 2 1 2-0.5 6-4.5 4-0.5 4 0 3 1 1.5 2 0.5 4 1 2 2 0.5 2-1 1.5-1.5 0-2-1.5-6 4-8.5 2-1.5 2-0.5 4 1 2 2 1 1.5 1 4-1 4-3 4-1 2 0.5 2 1 2 7.5 8.5 8 2 4-0.5 2-1.5 2-2.5 2-6 1-12-3.5-6-0.5-2 0-4 2-6 4-6 0.5-2 0-2-1.5-3-2-1.5-6-3.5-1.5-2-1-6 1.5-4 9-9.5 2-1 4-1 28-2 8 1 8 3.5 6 1.5 4-1 4-2 4-3.5 8-10 0.5-2 1-8 1.5-4 5.5-8 0.5-2zM1088 390l-8 1-9 3-5 3-11.5 9-1.5 2-0.5 4 1.5 6 2 4 7.5 8 2.5 2 4 1 8 0.5 10 4.5 4 0 1.5-2 1-4 1.5-2.5 2-1 4 0 12 7.5 6 5.5 1-5.5 0-4-4-12-5-10-2.5-8-1-2-4.5-5-4-3-4-1.5zM318 637.5l-10 6.5-1 2 0.5 2 1 2 1.5 2 4 1.5 2 0 6-3 4-0.5 4 1 1.5 1 2.5 4 2 1.5 2 0 1.5-1.5 0-2-2.5-6-1-6-1.5-2-4.5-2.5-4-1.5-4 0.5zM338 604l-4 2-6 5.5-6 4.5 0 2 1.5 2 4.5 2 6 4.5 2 0.5 2-0.5 4-5 6-4.5 1.5-3 0.5-2-0.5-4-1-2-2.5-2-4-1zM396 610l-3 2-1 2-0.5 2 0.5 2 2 2 6 3 4 8 2 1.5 2-0.5 1-2-0.5-4-4.5-6-2-9-2-2zM422 647.5l-1 0.5 1 1 0.5-1zM324 473.5l-1.5 2.5-0.5 2 2 10 0-2 4-5 2-5 0-2-2-1.5-2 0zM758 412l-2 0.5-2 1-1 2.5 0 4 1 2 2 2 6 2.5 4 0.5 2 0 2-2 1-3 0-4-1-2.5-2-2.5-2-1-4-0.5zM774 462l-1 2 1 1.5 2-0.5 2-3 0-0.5-2-1zM1182 328l4-1.5 2 1.5-0.5 4-1.5 2.5-2 1.5-2-1-1-3 0-2zM538.5 644l1.5-2 2 1 0.5 1-0.5 2-2 1-1.5-1zM535 652l1-0.5 2 0 4 6 0.5 2.5-0.5 2-8 8.5-2 1-2 0-11.5-5.5-1-2 3.5-4 3.5-2 5.5-2zM455.5 670l4.5 1 2.5 1 1 2 0.5 6-14.5 0-1-4 0-2 3.5-3z"/>
<path fill="#ff6200" d="M953.5 284l92.5 0 0 4.5 4-1 2 0.5 2.5 2 0.5 4 0.5 8 1 4 3.5 7.5 2 2.5 4 2.5 9.5 5.5 4.5 4.5 2 1 6 1 4 1.5 8 6.5 8.5 3.5 2.5 2 1 2 2.5 8 3.5 4 4 2.5 8 2.5 8-0.5 6 1.5 4-2 4-1 6 1.5 5.5 3.5 0.5 2-1.5 2-4.5 2-6 1-4 2-10 6.5-6 3-6 2-2 1.5 0 2 2 2 12 1 28-7 4 0 6 1.5 2.5 2.5 3 4 4 10 5 8 9.5 23.5 2 2 4 2.5 1.5 2 1 4-0.5 2-2 2.5-4 3-10 3-6 5.5-5.5 4-4 8-1.5 2-6 4 0 2 3 2 12 3.5 3.5 2.5 1.5 4 0 6-1 4-1.5 2-6.5 4-10 3.5-10 3.5-18 3.5-6 2-6 0.5-5.5-1-6.5-4-8 0-6-3.5-2-0.5-6 0-2-0.5-12-9.5-2-4 0-6-2-2-5-2-5-0.5-18-1-4.5 1.5-1 2-0.5 2 0 12-0.5 2-1.5 2-4 1.5-4-1-7-4.5-3-4.5-4-7.5-2-2-10-1.5-8-1.5-4 0-10 2.5-14 1.5-4-1-10-5-2-0.5-2 0.5-8 3-19 10-9 2.5-12 0.5-4-1-6-3.5-4-0.5-3.5 0-4.5 1-6 3-8 1-12 4-12 1-7.5-2-16.5-9.5-10-2-18-8.5-6 1-6 0-6 1.5-8 0.5-4 3-6 6.5-8 4.5-4 1.5-2-0.5-4-2-12-9.5-4-2.5-4-0.5-10 1.5-4-1-4-1.5-2.5-2.5-2.5-6-1-1-2-0.5-4 1-2 1-6 6-4 3-4 1.5-8 1.5-4 3.5-8 5-6 7-3 2-7 3-6 1-6-2-2-2-0.5-2 0-4 1.5-4 3-3 8-6.5 8-4 3-4.5 7-2.5 2-1.5 1.5-2 1-4-0.5-2.5-2-2.5-8-3-10-9.5-2-1-4-0.5-5.5 1-2.5 2-10 11.5-2 4.5-0.5 8-2 4-1.5 1.5-2 0.5-6 0.5-7.5 5.5-4.5 2-4 0-20-2-8 1-8-2-10-1-4 2-8 7-6 3.5-6 2.5-8 1-2 2-3 4-2.5 2-6.5 3.5-10 2.5-8 0-20 3.5-3.5-1.5-6.5-6-2-0.5-22-1-5-2.5-1.5-2-1-2-0.5-10-2.5-6 0.5-2 4-2.5 16-3.5 4 0 6 1 2-1 3-6 3-2 8-3 2-1.5 4.5-5.5 2.5-2 3-0.5 6 0 6-2.5 2 0 4 3.5 4 1.5 14-2.5 10-4 2-1 4-7.5 2-1 4-0.5 6-5.5 10-5.5 6-4.5 4-2 8-1.5 6-0.5 4 0.5 3 1.5 7 4 4 1 4 0 8-3.5 4 0 2 1.5 4 5 4 1.5 4-1 10-4 5-6.5 3-3 8-4.5 4-2 6-1 10 2.5 6 0.5 4-1 2-1.5 1-2 0.5-2-2-8 0-2 0.5-2 2-3.5 2-0.5 6-1 8-4 8-2.5 2-2 4-5.5 2-1.5 4-1 4 0 8 3 4-0.5 12-4 8-1.5 4-2 6.5-5.5 3.5-2 14 0 4 0.5 4 1.5 6.5 4 2 2 0.5 2 0 2-3 8 1 2 1 1 6 4 4 0.5 4-0.5 2.5-1 1.5-2 2-1 1.5 1-2 4 0.5 2 14 2.5 6-1.5 2 0.5 2 1.5 2 2 3 5 3 2 12 0.5 4-1 2-1.5 2-3 2.5-5 1.5-4 0.5-6 2-8-0.5-4-1.5-4-0.5-4 3.5-10-0.5-4-3-6-2-1.5-4-2.5-2.5-2-1-4 1.5-4 8-8 2-1 4-1 8-1 8 0 10-0.5 8 1 8 3 6 1 4-0.5 6.5-3 7.5-6.5 7-3.5 2.5-2 0-2-2-6-0.5-4 1.5-4 5.5-5.5 1.5-2.5 0.5-2zM1032 309l-3 3-1.5 2 0 2 0.5 1.5 2 0.5 2-1 3.5-3 1-2 0.5-2-1-1.5-2-0.5zM1080 389.5l-6 2-6 2.5-15.5 12-1.5 2 0 4 2 8 2.5 4 6.5 7.5 4 3 4 1 8 0.5 8 3.5 4 1 4-0.5 1.5-2 2.5-6 2-1 2 0.5 8 7 8 13 2 2 2 0 4.5-1.5 2-2 0.5-2 0-2-2-6-1.5-6-5.5-8-2.5-8-4-8-2.5-8-1.5-2-5.5-6-4-3-2-1-8-1.5zM752 409l-2 2-1.5 7 1 4 2.5 4.5 4 3 8 2.5 4 0 4.5-2 2-2-0.5-8-1-4-2.5-4-2.5-1.5-2-1-12-1zM778 451.5l-4 2.5-6 5.5-4 2-10 0.5-8-2-2 0-2 2 6 10 2 2 2 1.5 4 0.5 12-3 11.5-5 4-4 4-6 1-4-1.5-2-5-0.5zM284.5 460l7.5-1.5 2 0.5 8 4.5 6 1.5 2-0.5 4-2.5 4-2 2 0.5 3 1.5 2 2 0 2-6.5 6-2.5 5-2 1.5-4 0.5-2 1-4 6 2 1.5 8 1.5 2 1 4 4.5 2 1.5 2 0.5 2-0.5 3-2 2.5-4 2-6 0.5-1 2 0 8 3 2 2 0.5 4 2.5 4 3 2 4 1.5 4 0 2.5-1.5 1.5-2 2-4.5 2-2 2 0 1.5 0.5 2.5 2 1.5 2-3.5 6-0.5 2 0.5 2 2 1 2 0 2.5-3 0.5-4-1-4 0.5-2 3.5-4 2-0.5 2 0.5 2 2 3 4 1 6-1 8-2.5 4-2.5 1.5-12 3.5-2.5 1-2 2-3.5 7.5-2 2-2 0.5-4 0-4-1.5-6-3-4 0-2 1-4 5-2 1-14 5.5-8 2.5-6 4-4 2-8-0.5-2 1.5-3 2.5-7.5 4-1.5 2 0 2 1.5 6 0 4-1.5 4-2 3-6 4-4 1.5-6-2.5-6-1-4 0-1.5 1-1 2-0.5 4 1 3 2 2 2 0 9-3 5-3 2 0 14 4 10 1 4 3 4.5 5 1.5 2 1 10 1 3.5 2 3 6 5.5 4 8 0 2-4 2-6 0.5-4 0-4-1.5-2 0-2.5 1-1.5 2 0.5 2 2 4 1.5 4 1.5 2 3 4 3.5 3.5 6 2.5 8 1.5 2 1 4 5.5 2 1 2 0.5 8-2 3-1.5 2-2-3-12 0-8-1-4 0-2 5-10 6-5.5 1.5-2.5 1-6-0.5-5.5-1.5-2.5-2.5-1.5-4-1-10 0-2 0-1-1.5-0.5-2 1-2 2.5-1.5 10 0 8-2 12 2 10-1 3 0.5 3 1 2 1 3.5 4 0.5 1.5 1 0.5 0.5 2-1.5 2-1.5 8-0.5 4 1 4 3 5 6 4.5 2 2.5 4 7.5 6.5 8.5 9.5 8 2 4 0.5 2-1 2-2 2-1.5 1-2 0-2-1.5-4-4.5-2-0.5-4 0.5-1-1 1-4-0.5-4-2-6-3-4-2.5-2-8-4-2-2-3.5-8-0.5-1-2-1-2 1.5-0.5 2.5 0 10-1 4-0.5 2 1 6-0.5 2-1 2-1.5 1-6 1.5-3 1.5-1.5 2-3.5 8-4 2-2 4-2 6-176 0 0-125 2 0.5 2 2 4 5 2 1.5 4 1 2-0.5 4-8.5 6-5 1-3-1.5-4-1.5-1.5-2-0.5-2 0.5-2 1-4 4.5-2 1-2 0-1.5-1 1.5-6-1.5-10 0.5-2 5.5-8 5.5-5.5 2-4.5 2-2 2-1 4-0.5 2 1 5.5 6.5 6.5 5.5 8-0.5 5 1 2 2 1 2.5 2 2 2-1.5 4-5 2.5-6 1.5-2.5 3.5-1.5 7.5-2 11-1.5 4-1 1-1.5 1.5-8 2.5-6 0-2-5-14 0.5-6 1.5-3 2-2.5 4-2.5zM352 664l2 1 0-1zM358 633.5l-2 1.5-1 3 0 4 1 2 2 2 2 1 2 0 3-1 2.5-2 1.5-2-0.5-2-2-2-4.5-3.5-2-1zM230 533.5l-4.5 2.5 0 2 2.5 1.5 2 0.5 2-0.5 1.5-1.5 0.5-2 0-2-2-1zM258 520l-2 0.5-1.5 1.5-0.5 2 1 2 1 0.5 2 1 2 0 2.5-1.5 1-2-1.5-2.5-2-1.5zM363.5 460l2.5-1 2-0.5 4 0.5 2 1 1 2 0 2-1.5 2-5.5 2.5-2 0.5-2-0.5-1-2.5-0.5-2 0-2zM421.5 592l4.5 0 2.5 2 3 6 4.5 6 1 4 0 2-1 4-3 6-1 4.5-1 1.5-5 3-4 1-2 0-2-1-1-1-1-6-3.5-6-1.5-4 1.5-4 4.5-4 0.5-2 0-8 0.5-2zM393 598l3-0.5 1 0.5 0.5 2-1.5 2-2 1-3.5-1 0-2zM433.5 650l0.5-0.5 2 0.5 0.5 2-0.5 2-2 1.5-1.5-1.5 0-2zM390 664l8-0.5 1 0.5 1 16-36.5 0 1-2 1.5-1.5 2-0.5 4 0.5 4 1 2 0 2-0.5 2-2.5 2-6.5 1-2 3-1.5z"/>
<path fill="#ff5800" d="M969 284l74 0-8.5 18-1.5 2-3 2.5-2 0.5-0.5-1-0.5-6-1-1.5-1-0.5-3 0-2 1-3 3-0.5 2 0 2 1.5 3.5 3 2.5 0.5 2 0 6-0.5 2-3 3-3 5 0 2 1 1 1 1 3 0.5 2 0 2-1 1.5-1.5 0.5-2 1-6 15-12 4-2 2-2 1.5-2 0-2-1.5-2.5-0.5-3.5 0.5-2 2-1.5 1.5 3.5-0.5 6 3 4.5 3.5 7.5 2.5 3 2 1.5 10 5.5 6 6.5 4 1.5 6 0 4 1.5 8 6 5 2.5 3 3.5 4 8.5 3.5 4 2.5 2.5 10 5 4 1 6 1 6 2.5 0 2-4 4-6 3.5-10 3-2 1.5-0.5 2 0 2 1 2 1.5 1.5 4 1 10 0 16-4 14-2.5 4 0.5 2.5 1.5 5 8 3.5 8 7 12.5 8 18 2 2.5 4 3.5 1 1.5 0.5 2-0.5 2-3 3.5-2 1-8 1.5-2 1-5 5-6 4-1.5 2-1.5 4-2 3-2 1.5-4.5 1.5-2.5 2-0.5 2 0 2 2 2 5.5 2 10 2 4 2 1.5 4 0 4-1 4-2.5 3.5-6 3.5-6 2-12 4.5-24 5.5-6 0.5-5.5-1.5-4.5-4-2-1-8 1.5-2-0.5-4-2.5-8-0.5-2-0.5-7.5-6.5-3-4-1-2 0-6-1.5-2-4-2-5-1-20-3.5-4 0.5-4 2-2 2-0.5 2 0 8 0.5 6-0.5 2-1.5 1.5-2 0.5-2 0-2-1.5-6-4.5-4-5.5-3-6.5-3-2-10-0.5-10-1.5-8 1-6 0-12 2-4-0.5-8-4.5-4-1.5-4 1-8 3.5-16 9-4.5 2-5.5 1.5-10 0-4-1.5-6-3.5-4-1-6 0-4 0.5-6 2-6 0.5-8 3.5-4 1-8 0-8 2-4-0.5-6-4.5-10-4.5-10-2-8-3.5-3-2-7-7.5-4-2-2 0.5-4 3-4 1.5-8 3-6 0.5-4 3-7.5 8-6.5 4-4 1-3.5-1-2.5-1.5-10-9-4-2.5-6-0.5-10 1-6-2-2-1.5-2.5-8-1.5-2-2-1-4 1-4 2-8 7-4 2-4 1-6 0-6 0.5-2-1-3-1.5-0.5-2 3.5-3 2-3 0.5-8-1-4-2-2-7.5-2.5-8.5-7.5-3.5-2.5-2-1-4-0.5-10 1-4 1-2 2-2 6-7.5 8-0.5 2 1 8-0.5 2-2.5 1.5-6 1.5-5.5 7-2.5 1.5-4 0.5-8-1-14-1-8 0.5-2.5-0.5-4.5-2-7-4.5-2 0-2 1-4 3-6 6.5-4 3-8 4-10 1.5-2 0.5-2 1.5-5.5 7.5-6.5 3.5-4 1-4 0.5-16-1-12 2-1 0-2-2 3-3 1-9-1-3.5-2.5-4.5 0.5-4-2.5-6-0.5-2 0.5-2 1.5-2 7-4 8-6.5 14-3 2 0 4 2.5 4 1.5 8-0.5 4 0.5 2-1 6-5 9-2.5 5-4.5 4.5-1.5 1.5-1.5 3-6.5 3-3 6-3 10-6 8-3 4-0.5 4 1 10 4.5 6 1.5 12-0.5 8 5 6 1 2-0.5 12-5 2-1.5 6-8 4-2 10-4.5 4 0 10 2.5 6 0.5 4-0.5 4-2 2-2 2.5-4 0.5-4-1-6 0.5-2 2-2 9.5-6.5 8-2 2-1 4.5-6.5 3.5-2.5 4 0 2 0.5 6 4 4-0.5 14-5 8-2 10-4 4-4.5 2-0.5 6-0.5 6-1 4 0.5 6.5 3.5 2.5 2 0.5 2-0.5 4-3 6 0 2 1.5 2 9.5 8 2 2 1 2.5 2 2 8-1 6-1.5 4 0 6 2.5 8 2 4.5 3.5 3.5 1.5 2 0.5 8-1 6 0.5 4-1.5 2.5-2 6.5-12 3.5-14 0.5-4 0-6-1-6 0.5-10-4.5-9-2-3-5-4-0.5-2 0.5-2 1-2 6.5-6 4.5-2 7-1 22 0 4 0.5 12 3.5 4 0 10-3.5 8-5 4-1 8-1.5 2-0.5 2-1.5 1-2-1-6 0.5-6-3-2-1-2 3.5-5 4-3.5 6-1.5 2 1 2 5 6.5 6 1.5 2.5 2 1.5 0.5-2-2-10-2.5-3-6-3-1-2zM1084 388l-8 1.5-10 4-12 9-4 3.5-1 2 0 4 4.5 12 8 10 4.5 3 4 1.5 8 0 10 4 6 0.5 3-1 3-5.5 2 0 10 13 2 6.5 1.5 2 2.5 1.5 2 0 2-0.5 8-4.5 2-2.5 0.5-2 0.5-4-0.5-2-5-12-6-6-3-8-3.5-8-2-6-2-4-5.5-6-5.5-4-2-1-6-1zM482 484l-2 1-0.5 1 0.5 2 2 0 1-2zM738 400l-2 0-1 2 0 2 1 3.5 4.5 6.5 8.5 14 4 4 5 2 8 2 10-2 6 0 1.5-2 0-2-0.5-2-5-6-2.5-8-3.5-5.5-4-1.5-8-1-6-2zM780 447.5l-6 2-8 5.5-10 3-4-0.5-6-3.5-4 0-4 1-1.5 1-1 2-0.5 2 1 4 2 4.5 2 2.5 6 5 3.5 2 2.5 0.5 4 0 8-0.5 4-1 17-9 4.5-4 2.5-4 1-6-1-4.5-2-1.5-2-1zM289.5 462l2.5 0 4 1.5 3.5 2.5 1.5 2 0 2-2 8-3 5.5-2 4.5 0 4 2 2 4 0.5 8-2 4 0.5 2.5 1 5.5 6 2 1 2 0.5 2-1 8-6 4-0.5 4 1.5 5.5 4.5 2.5 1.5 14 3.5 5.5 7-1 2-4.5 7.5-2 2.5-2 1-4 0-8-3-6 0-3.5 2-2.5 4-2 2-14 4-8 3.5-6 4-2 0.5-2-0.5-6-2-8-1.5-4 0-2 0.5-1.5 1.5 2.5 6-1.5 2-3.5 1-6 0-8-1.5-4 1.5-1.5 1-1 2 0 2 3 6 0 8-0.5 1.5-1 0.5-9 1-3.5 1-0.5 4 1.5 10 2.5 6.5 2 3.5 2 2 2 1 1.5-1 1.5-4 1-1 2-1 2-0.5 2 1 1.5 1.5 1.5 6 5 1.5 2-0.5 2-3 0.5-2-1.5-4 1-1 2-0.5 8 2 8 0.5 4 2 2 1.5 2 3.5 1 10 3 8 0.5 4-0.5 2-10 4.5-5 3.5-1.5 2 0 2 0.5 2 4.5 8 5.5 6 6 4.5 10 4 2 1.5 6 8 4 3 4 1 2-1 6-4.5 2-0.5 2 1.5 0.5 2.5-0.5 2-3 6-169 0 0-120 2 1 6 6.5 8 7 2 1 4 0 4-1 2 1 2 2.5 2 1.5 2 0.5 4-0.5 2-1.5 0-2-7-10-1.5-4 0.5-4 3.5-6 0-2-4-6-1-4 1-2 2.5-1.5 4-0.5 3.5 2 4.5 6 2 1.5 4 1.5 8-1 4-1.5 4-6 2-1 8 0.5 6-4 6-2.5 4-3.5 1-2-0.5-2-2-4-2.5-2.5-5-3.5 2.5-2 6.5-0.5 3.5 0.5 2 2 2.5 6 2 1.5 2.5-1.5 1.5-2 0-4-1.5-4-2.5-5.5-0.5-2.5 0.5-2 4-4 1-2-0.5-2-6-12-0.5-2 0-4 1.5-6 2-2 4.5-2.5zM238 562l-1 2 1 4 2 1 2 0 0.5-1-0.5-2-2-2.5zM426.5 490l3.5-1.5 2 0 14.5 5.5 1 2-4 8 0 2 1 4-1 2-5.5 1-4 0-11.5-1-3.5-2-1-2 0-2 1-2 5-6 1-6zM644.5 490l5.5-1 4 1 4 0.5 2 1.5-0.5 2-7.5 5-7.5 9-2.5 2-4 2-4 0.5-4 0-2-1-1.5-1.5-1-4 0.5-3.5 1.5-2.5 10.5-8.5zM385.5 502l0.5-1 0.5 3-0.5 2-2 1 0-2.5zM275 568l1-1.5 2 0 0.5 1.5-0.5 2.5-2 1-1.5-1.5zM371.5 596l4.5-1.5 2 0 3 1.5 1 2 0 4-0.5 6-1.5 3.5-2 1.5-2 0-12-6-2.5-3-1-4 0-2 1.5-0.5 6 0zM424 596l2 0.5 2.5 5.5 4 6 0.5 4-1 2.5-4 4.5-4 3-2 0.5-2-1.5-2-2-1.5-3 0.5-2 4.5-4 1.5-2zM360 618l2-0.5 2 0.5 4 2.5 1.5 1.5 1 2 0 4-1 2-1.5 1.5-2-0.5-2-1-7.5-6 0-2 1.5-2zM347.5 646l0.5-0.5 2-0.5 4 3.5 3 3.5-1 2-2 1.5-2 0.5-2 0-2-1.5-1.5-4.5zM389.5 670l0.5-0.5 2 0.5 1 2 0.5 2-1.5 6-3.5 0-0.5-1.5-0.5-4.5 0.5-3z"/>
<path fill="#ff4f00" d="M976 284l63 0-3 6.5-2 2-4-1.5-2 0-6 1.5-4 3-3 4.5-2 4 0.5 8-1.5 6 0 4 0 2-2 2-4 1.5-1.5 2.5 0.5 4 1.5 2 1.5 1.5 2 0.5 6-0.5 6 0 4-0.5 3-3 4-10 3.5-4 3.5-2.5 4-1.5 6-1.5 2 0 2 2.5 6 10 2 1 6 2.5 4 5 2 2 4 1 10 0 2 0.5 1.5 1 2.5 5 2 1 4 0.5 2 1 4 5 8 12.5 2 2 10 4.5 11.5 2.5 0.5 2-2.5 2-13.5 5-2 2-0.5 3 1.5 4 1 2.5 2 1 8 1 6 0 16-4.5 14-2 2 0 3 2 11.5 24 7.5 12 4.5 10 5.5 6 0.5 2 0 2-2 2-10.5 2.5-6 5-6 4-2.5 2.5-3.5 7-7.5 3-2 2-0.5 2-0.5 4 2.5 2.5 6 2.5 10 1.5 4 2 1 1.5 0.5 2 0 4-1.5 4-2 2.5-4 2.5-26 9.5-16 3.5-6 0-4-1.5-6-6-2-0.5-8 3-2-0.5-4-1.5-8-1-4-2.5-5-5.5-1.5-4-1-6-1-2-5.5-3-15.5-3-8.5-4-2 0.5-8 3-3.5 2.5-0.5 2-1 8 0 8-1 1.5-2-0.5-8-6.5-2.5-2.5-3.5-7-2-1.5-2-1-10-0.5-8-1-10 0.5-6-2-2 0-6 3-4 1-2 0-4-1.5-8-4.5-4-1-4 1-12 6.5-4 1.5-9 6.5-7 2.5-8-0.5-12-6-14-1-14 2-8 4.5-4 0-10-2-3 0.5-3 2-4-3-2-0.5-6-1-8-2.5-8-1.5-8-3.5-2.5-2-7.5-11.5-2-1.5-4-1-2 0.5-2.5 3.5-4 4-7.5 3-6 1-2 1-10 12-6 4-4 1-4.5-2-7.5-7.5-6-4.5-6-1-12 1-5.5-2-1.5-2-0.5-2-0.5-8-2-1.5-2-0.5-4 0.5-6 3-12 8-4 0.5-4-1-2-1-2-2.5-1-5.5 0-8-1-2.5-2-2.5-8-2.5-2-1-6-5.5-6-4-4-0.5-11.5-1.5 0-2 5.5-3 4.5-7 1.5-2 2-0.5 6-1.5 6-2.5 2 0 2 1 4 4 2 0 6-2 6-0.5 4-2 8-6 1-2 1-12 2.5-4 5.5-4 8-2 2-1 4-6 2-2 2-0.5 2 0.5 4 3 4 1.5 8-1 10-4.5 12-4.5 11.5-1.5 9.5-6 5-1.5 4.5 1.5 2.5 2 1 2 0.5 2-0.5 2-3 6-0.5 2 1 2 8 8 4.5 9 3 3 3 1 2 0 10-2.5 4 0.5 6 5 2 4 1.5 2 2.5 1 1.5-1 0-4 2.5-2 2 0 6 1.5 4 0 18-2.5 3-3 8-14 4.5-24 0-2-1.5-6-1-8-10-18 0-2 1.5-2 12-6 3.5-1 8 0.5 12-0.5 20 4 8-2.5 6-1 8-3.5 6-1.5 10-4 8 0.5 4-1 2 1 4 5 2 0.5 0.5-0.5 2-2 1-6 2.5-8 0.5-4-2-12-1-2-5.5-6zM1078 387.5l-6 1.5-8 4-15.5 11-2 2-0.5 2 0 2 1 4 4.5 10 7 10 3.5 3 8 4.5 10 0 18 7 6 1 3 2.5 1 2 0.5 6 1.5 2 8 2 3.5 0 12.5-7.5 1.5-2.5 0.5-2 1-6-0.5-2-4-6-3.5-8-5-3.5-2-2-3-8.5-3-6-2.5-8-1.5-2-6-6.5-6-4.5-4-1.5-8-1zM734 395.5l-2 0.5-1 2-0.5 2 0.5 6 1 4 5.5 10 6.5 5.5 6 7 4 3 10 3.5 4 0.5 6-1 2 0 3.5 1.5 1.5 2-2.5 2-4.5 2-14 3.5-4 2-2 0-5-1.5-3-0.5-10 1-2 1-2 3-1 5.5 3 8 1 6 1 2.5 2 2 2 0.5 10 2 10 0 6 1 2-0.5 7.5-5.5 4-2 10.5-3 0.5-1 7-8 1-2-2-8-1.5-4-3-3-5-3 0-2 1-2.5 0.5-3.5-1-12-1.5-3-6-5-4-6.5-2-2-10-6.5-2-0.5-6 0.5-6 0zM962.5 312l3.5-1.5 4-0.5 2 0.5 2 1.5 1 2 0.5 2-0.5 2-1 1.5-2 1.5-0.5-1-7.5-4-2-2zM557.5 438l2.5-1.5 4-0.5 18 6 10 1.5 6 4 8 2 3.5 2.5 1 2 0 2-0.5 2-2 2.5-5.5 3.5-2 2 0 2 1 6-0.5 2-1.5 2-5 4-2.5 4.5-2 2.5-4 1-8-2-8 0.5-14-1.5-2.5-1-3.5-7-2-2-2-1-2 0.5-4 1.5-2 1.5-9.5 8.5-4.5 5.5-3.5 2.5-6.5 2.5-13 1.5-2.5 2-5.5 8-3 2-2 0.5-10-1-2-1-0.5-0.5 0.5-3 1-1-0.5-2-10.5-5-2.5-3-4.5-8-1-4 0.5-2 1.5-2 6-5 6.5-3 5.5-1.5 4 1 2.5 2.5 0 2-8 6-1.5 4-0.5 6 1.5 5.5 2 4 2-0.5 6-5 2-4 2.5-8 1.5-2.5 2 1 4 3 2-0.5 6-5.5 3-7.5 3-3.5 2-1 6-1 6-3 6-2 2-1.5 0.5-2 0.5-6 0.5-2 2.5-3zM286 468l4-2 2 0.5 2 1.5-1 14-3 6-2 1-2-0.5-2-2-2-2.5-1.5-4 0-2 1.5-4 2-3.5zM638 494l2-1 6 0 4 1 0.5 2-6.5 8-2.5 4-2 2-5.5 1.5-4-0.5-1.5-1-1-2 0-2 0.5-2.5 2.5-3.5zM306.5 498l1.5-0.5 3 0.5 3.5 6 2 2 3.5 2 4 0.5 2-0.5 6-8 4-2 2 0 2 1 8 5.5 12 6 2 2 0.5 1.5-0.5 2-2 2-2 0.5-6-1-16 2-3.5 2.5-2.5 4-10 4-14 7-2 0-8-1.5-10-0.5-3-1-3.5-2-0.5-2 0.5-2 6.5-6 1.5-2 0.5-4-1.5-8 0.5-2 1-1.5 6.5-4.5 9.5-1zM432 498l2 0 2 1 1.5 3 0 6-1.5 1.5-2 0.5-4-1.5-1.5-0.5-1-2 0-2 1-2zM243.5 546l2.5-1.5 2 0.5 2 1 1 2 0 6 2 6-1 1.5-2 0-4-2-7.5-5.5-0.5-2 1-2zM216 556l2 0.5 4 5 4 0.5 2 1.5 1 2.5-1 2-4 2.5-4 0-1-0.5-5.5-10 0.5-2.5zM174 568l0-2 4.5 4 5.5 3 8 6 6 1.5 6 3 8-0.5 4 0.5 4 2.5 2 2.5 2-1.5 0.5-3 1.5-2 2-2 4 0 6 1 2 1.5 4 7 1.5 4.5 0.5 4 1 2 7 5.5 6 3 14-1 2-0.5 6-5.5 6-3.5 4-1.5 4 0 4 2 1.5 1.5 0.5 2 1 8 1.5 6-0.5 4-1 2-1.5 2-11.5 8-1 2-0.5 2 0 2 3.5 8 2 3 4 4 6 4.5 10 4 3 2.5 1.5 4 0 2-2 4-3 4-0.5 2-139 0z"/>
<path fill="#ff4600" d="M981.5 284l26 0-8 8-1.5 2 0.5 8-2 10 1.5 1 2 0 3-1 3-2.5 1 0.5-1 10-1 2-4 4-1 2 0 2 1.5 4 2.5 4.5 2 1.5 4 1 6-1 8 0.5 6-1.5 5-3 1-2 1.5-4 0.5-4 2-3.5 2-1 2-0.5 6 1 2 2 0.5 2-1 8 0.5 4 2 1 6-2.5 4 0 8 6.5 2 1 6-0.5 4 0.5 8 6 8 3 4 3 3.5 4 3.5 8 7 6.5 4.5 3.5-3.5 4-1 2 0 2 2 8 2 3 8 1 6 0.5 6-1 14-4 12-1.5 2 1 1 1 5 10 7 16 8.5 12 3 6 5 8-0.5 2-1 0.5-8 2-2 1-6 5-5.5 3.5-2.5 2.5-4 5.5-6 3-2 1-3 6-1 4 1.5 2 2.5 1.5 8 3 10 1.5 3 2 1 2-0.5 4-1.5 2.5-2 2.5-4 2.5-6 1.5-6 3.5-14 5-14 3-6-0.5-2-0.5-1.5-1.5-3.5-4-3-2.5-2-0.5-8 4.5-14-3-4-2.5-3-4-1-4-1-6-1-2-2-2-4-1.5-11.5-2.5-4.5-1.5-8-5.5-2-0.5-12 6-2.5 1.5-1 2-2.5 10-2 2-4-1-2-1-2-2.5-2.5-5.5-3.5-2-4-1-24-1-2-0.5-6-3.5-2 0-2 0.5-6 4-4 1-4-1.5-4-2.5-4-2-4-1-4 0-10 5.5-8 2.5-2 1.5-5 6-3 2-6 1-5-1-11-7-16-1-16 0.5-4 4-4 1.5-2 0-8-3-4-1-6-0.5-10 1-14-2-6-2-4-2.5-2-2.5-3-5.5-1.5-4-0.5-4 1-2 1.5-2 6.5-4 0.5-2-0.5-2-2-7.5-2-1.5-2 0-2-1-5.5-6-0.5-2-0.5-4-1.5-4-0.5-4 0.5-4 2-3.5 2-1 2-0.5 10 0.5 2 0.5 2 2 1.5 4-0.5 4-0.5 2-2.5 3-4.5 1-0.5 2 1.5 6 1.5 2 7-2 3-2 3-8 1-1 2-0.5 2 0.5 4 4 2 1 6 0 4-2 1.5-2 1-6 1-2 5.5-4 5-2 8 0 2-0.5 5-5.5 2.5-4 3.5-12 1.5-14 2-10-3-14-6.5-12-1.5-4 0.5-2.5 2-1.5 8-1.5 2-2.5 2-1.5 8-0.5 6-1 8 0 8 2 8 2.5 2 0 6-2.5 8 0 12-4.5 6-3.5 4-1 4 0.5 6 1.5 2 1 2.5 3 3.5 2 4-1 5.5-5 1-2 1.5-6 2.5-6-3-12 0-2 2-6-1.5-2-6.5-4-1.5-2zM1080 386l-8 1.5-8 3.5-6 3-8 6-9.5 4-2 2-0.5 2 8 9.5 4.5 8.5 7 10 2.5 2.5 10 5.5 4 1 6-1 5.5 2 3.5 2 1.5 2 1 4-2.5 6 0 4 0.5 2 2.5 2.5 6 3 4 0 10-4.5 10 1 2-0.5 6-5 8-2.5 4-2 0.5-2-1-6 0-6-0.5-2-5-4-2-3-2-5-8.5-6-3-8-4-8-1.5-6-1.5-2-7.5-8.5-6-4-12-2zM1011.5 284l7.5 0-3 2.5-2 0zM773.5 380l2.5-1 2 0 2 3-2.5 8 0.5 4 2 4 5 4 1.5 2 1 4-1.5 2.5-2 0-2-1-6-7.5-4-2.5-6-5.5-2-1-2-0.5-8 3-4 0-7-1.5-2-2 2-2 4-2 5-1.5 8 0.5 4-1 6-3zM711 396l5 1 6 0.5 3 0.5 1.5 2 0 2-1.5 8 2 6 0.5 6 1 2 3.5 2.5 6 0 4 1.5 2.5 2 5.5 7 2 1.5 4 1.5 3 2-3 1.5-22 2-2 1-2 3-3 8.5 0 4 3 5 1 3 0 8 1 2 2 1.5 6 2.5 18 0.5 2 0.5 1 1-0.5 2-1 2-4 6-2.5 2-5 2.5-2 0-2-0.5-2-1.5-6-7-6-5-2-0.5-4-0.5-10 1-4-0.5-4-2-0.5-2 0.5-3 4-6 4-5-0.5-6 0.5-2 3-6-0.5-2-5-4-3.5-1-2 0-6 1-2 1-1 1 0.5 2 3 4 1.5 4-0.5 2-1.5 4-2.5 2-9.5 4.5-10 6.5-3 1-3 0-4-1.5-2-2.5-0.5-2 0.5-6 2-3 2.5-1 2-2-1.5-2-9-4.5-8-0.5-2-0.5-6-5.5-8-5-2-2 0-3 0.5-1 1.5-1 2 0 6 2 6 0.5 4-1.5 8-4 10-2 6-3.5 6-1.5 2-1.5 2-4.5 1-1 5.5-2 2-2 0.5-2-0.5-2-2.5-2.5-2.5-1.5-0.5-2 2.5-2 6.5-1 4-2 1.5-1 2.5-3.5zM562.5 442l11.5 0.5 4 0.5 10 4.5 1.5 2.5 3.5 8 3.5 14 0 2-0.5 2-4 4-4 6-2 0.5-8-2.5-6 2-4 0.5-4-1-3-1.5-2-2-2.5-4-3-10-1.5-2-2-0.5-4 2-4.5 4.5-3.5 2.5-6 6-6.5 3.5-6 8-2 2-3.5 1.5-4 1-4-0.5-3-2-0.5-2 0.5-2 1-2 2-2 6-4 1.5-2 0.5-5.5 2-2 6-1.5 6-3.5 8-2 2.5-1.5 1.5-2 0-2-1.5-8 1-2 2-2 6.5-3zM600.5 454l1.5-0.5 2 0.5 1.5 2-1 2-2.5 1-2.5-1-0.5-2zM469 480l2 0 0.5 2-1 6-0.5 1-2 1.5-2-0.5-2-2-0.5-2 0-2 2.5-3zM641 496l1 0 2 2-5 10-3 2-2 0-2-0.5-2-1.5 0-2 0.5-2 1.5-2.5 4-3.5zM333.5 504l2.5-2 2 0.5 2 1 6 4.5 1 2-0.5 2-2.5 2-4 0.5-4-0.5-2.5-2-0.5-4zM296 506l4-2 4 0.5 20.5 9.5 2.5 2 0.5 2-1 4-1.5 2-3.5 2-9.5 5-6 2-16-1-4-1-1-1 0.5-2 2.5-2.5 2.5-3.5 1-4 1.5-8zM174 576l0-1.5 8 1 3.5 2.5 6.5 5 10 6 6-1.5 4 0 2 1 2 4 2 2 4 0.5 4 0 8-2 2 1.5 2 7 2 2.5 2 1 4 1 3.5 2 5.5 4 1.5 2 1.5 4 2 1 5.5-5 2.5-1.5 6 0 2-1 6-6.5 4-2.5 8-3 2 0.5 2 0.5 2 3.5 1.5 10 0 4-0.5 2-3 4-10.5 8-2.5 4 0 2 3 10 4 6.5 4 4 2 2 4 2.5 8 0.5 2 1 1.5 1.5 0.5 2-0.5 2-4.5 6-0.5 4-134.5 0z"/>
<path fill="#ff3d00" d="M986.5 284l14.5 0-1 2-2 1-4 1-6-2zM957.5 330l2.5-0.5 4 0.5 3 2 3.5 4 5.5 3 4 1 4 0 6-7.5 2-1 2 0 2 1 2 1.5 4.5 8 3.5 1.5 10-0.5 8 0.5 6-0.5 6 2 2 0 8-2.5 8 2 2-0.5 4-2 2-0.5 4 2 4 4 2 1 2 0 6-1.5 2 0 4 2 8 6.5 8 3.5 2 1.5 3.5 7.5 5.5 6 2.5 4 0.5 2-0.5 4 1 4 2.5 8 1 2 2 1 10 1 6 0 4-0.5 14-4.5 8-0.5 2 0 2 1 6 10 8 18.5 4 6 4 4.5 5.5 9.5 0 2-9.5 4.5-10 7-8 7-2 0.5-2 0-4-1.5-2 0-1.5 0.5-0.5 2 2 4-0.5 2-1.5 6-1.5 4 0 2 1.5 1 12 5.5 10 0.5 2.5 1 1 2-0.5 2-1 2-4 2.5-6 1.5-2 1-6 5-12 6-8.5 2-7.5 0.5-4-0.5-8-7.5-4-2.5-2 0-4.5 4-3.5 1.5-10-1.5-2-1-2-1-3-4-1-11-2-3-6-2.5-8-1.5-6.5-2-11.5-9.5-2 0-2 1-5 4.5-8 4-2 2-2 8-1 1.5-2 1-2-0.5-2-1.5-4.5-6.5-1.5-1-4-1.5-4-0.5-6 0.5-16-1.5-8-5-4-0.5-4 1-5 4.5-3 0-4-2.5-8-2.5-6-4-2-0.5-5 5.5-3 2-10 4-3 2-1.5 2-2 4-1.5 1.5-4 1.5-4.5-1-4.5-4-2-4-0.5-6-2.5-1-2 1-6 5-4 1-14-2-6-4-6-0.5-4 2.5-4 6-2 0-12-1.5-12 0.5-6-0.5-10 0-6-2.5-3-2-2.5-4-1.5-4-0.5-4 1-2 2.5-1.5 2 0 6 2 2-1 2-3.5 0-2 0-2-2.5-4-1-2 0.5-2 1-1 4-1.5 2-1.5 4-7.5 2-1 16-1.5 3-2 1.5-2 2.5-8 2.5-4 4.5-1.5 8 2.5 2 0.5 2-0.5 4-5 4-4 1.5-2 0.5-2-1-8 2-8 0.5-12 1.5-10-3-14-5-8-1.5-4-0.5-2 1-2 2-0.5 6 0.5 2-1 4-5 5.5-2 6.5-1.5 6 0.5 7 1 4 2 3 3.5 2 0.5 2-0.5 6-2.5 6 0.5 8-3.5 8-2zM1070 386l-6 2.5-10 2.5-2 1-3.5 4-2.5 1.5-8 1-2 1.5-4.5 4-1.5 2 0 2 4 4.5 6 4 4 4 4.5 7.5 7.5 10 9 6 4.5 4 1.5 6 2.5 4 2.5 2 6 1.5 6 9.5 4 4.5 2 1.5 8-2 12-4.5 12 0 2-1 4-4 2-1 10-1 3.5-1.5 1-2-2.5-10 0-8-0.5-2-1.5-1.5-6-4-2.5-4.5-2-2-7.5-3.5-2-2-2-6.5-4-8-1.5-6-1-2-9.5-11-6-3-10-1.5-12 0-6 0.5zM896 395.5l-1 0.5 0.5 2 2.5 1 2 0 10.5-3-10.5-1.5zM946 436l-1.5 2-0.5 2 0.5 2 1.5 3 2 0 2-3 0.5-4-0.5-3-2-0.5zM709.5 408l2.5-1 2 1 2 3.5 1.5 4.5 0 2-1.5 2.5-2 0.5-2-0.5-4-2.5-1-2 0-4 0.5-2zM799.5 424l2.5 0.5 2 1.5-3 2-3 0.5-1-2.5 1-1.5zM702 428l2-1 2-0.5 4 1 2 1 4 5.5 2 1 2 0 6-1.5 2.5 0.5 3 2-0.5 4-5 8-2 1-2 0-12-6.5-4 0-6 0.5-8 0.5-3.5-1.5-0.5-1-2-0.5-4 3.5-4.5 8-1.5 1-2 0.5-4-0.5-9-3-4-2-1-2 1-2 3-4 2-2 3.5-2 14.5-1.5 3.5 1.5 2 2 0.5 1 2 0.5 2.5-1.5 9.5-4 1.5-2zM736 432l2-0.5 3.5 0.5 1.5 2 0 2-1 1-2 0.5-5.5-1.5-0.5-2zM571.5 448l2.5-1 2 0 2 1 9.5 8 2 4 1.5 4 1 4 0 4-2 3.5-6 4-6 0-8 3.5-2 0-2-0.5-2-1.5-3.5-5-3-12 0-6 1-4 1.5-2 8-2zM714 476l4-1.5 6 1 2.5 2.5 0.5 2 0 2-3 1-5 1-7.5 0-1.5-2 2-4zM749.5 488l4.5-0.5 1.5 0.5 1 2-0.5 2-2.5 4-3 2-2.5 1-2 0-2.5-1-1.5-2-1-4 1.5-2zM508.5 490l1.5-0.5 2.5 0.5-1.5 2-1 0-0.5 0zM299.5 510l2.5-1.5 2 0 4 1 5 2.5 5 4 1 2 0 2-0.5 2-4.5 4-6 3-6 0.5-5.5-1.5-2-2-0.5-2 4.5-12zM176 582l4-2 2 0.5 2 1.5 1 2 0 2-1.5 2-6 4-2 2 0.5 2 3.5 4 6.5 3.5 4 3.5 4 2 2 0 1.5-1 4.5-6 4-2 6 0.5 6-2 4 0 6 0.5 3 1 5 7 7 7 1.5 4 2 2 5 4 1.5 2 2 6 3 1.5 2 1.5 2.5 5 2 2 3.5 1.5 8 1.5 4 3 3.5 4 2.5 6 1 2 4 4 5 7.5 2 2 4.5 2.5 1.5 4-130 0 0-97zM284.5 606l3.5-1.5 4 0 2 0 2 1 2 4 1.5 4.5 0 4-1.5 3-2.5 3-11.5 8.5-2 1-2 0.5-2-0.5-1.5-1.5-1-2 0-2 3-6 0.5-8 0.5-2 2.5-3.5z"/>
<path fill="#ff3400" d="M895 338l5-1 4 0 6 0 2.5 1 2.5 2 3 7.5 2 2 2 0.5 2-0.5 4-2.5 6 0 3-1 7-6.5 2-0.5 8-0.5 4-1.5 2-0.5 10.5 5.5 5.5 6.5 12 2.5 4-1 6-4.5 8 1 12-1 10 1 8 2.5 10-2.5 8 2 8-0.5 12 7.5 2 0 4-3.5 2-0.5 2 0.5 3 2 3 4.5 1.5 1.5 8.5 2.5 2 1.5 3 6 5 4 2 2.5 1 3.5-1 6 0.5 2 1.5 1 2 5-2 1-2-3-0.5-6-5.5-2-28-2.5-3-1.5-3-6-2-1.5-2 0-2 1.5-2 2-2 6-2 2.5-2 0.5-8-0.5-3.5 1.5-6.5 4-10 1-4 1-2 2 1.5 4 0 2-2.5 4-1 4 0 5 1 1 3 0.5 3 1.5 3 4.5 2 1.5 4.5 2 5 6 6.5 4.5 4.5 5.5 9 6 1.5 2 1 6 2 3.5 4.5 4.5 3.5 5 6 4 2 3 1 4-1.5 4-1.5 1.5-2 0.5-6-0.5-3-1.5-2.5-4-6.5-3-4-4-2-1-4 0.5-2.5 1.5-3.5 6-10 6-1.5 2-2 6-0.5 0.5-2 0-4-5.5-4-2.5-8-2-8 0.5-12-1-8-5-6-2.5-6 0-6 1-6 2-4 0-2.5-1.5-1.5-2-2-4.5-2-2-2-0.5-4 0.5-2-0.5-1-1 2-2 3-1 2-2.5 0.5-6.5 0.5-2 4.5-8 1.5-4 0.5-6-1-4-2-2-2.5-0.5-4 2-4.5 4.5-1.5 4 0 6-1 2-7 4.5-3 3.5-0.5 2 1 2 6.5 4 2 2-0.5 2-1.5 1-1.5 3 0 2 1 4 0 2-1 2-2 2-2.5 1-6 1.5-3 1.5-3 6-4-2.5-1.5-1.5-1-2 0.5-2 2-4 0.5-2 0-2-4.5-6-2-4-2-3-4-1-4 1-6 7-2 0.5-12-3.5-4 0-2 1-2 2-1.5 4-2.5 2-2 0.5-6 0-2-0.5-6-4.5-2 1-2 3.5 0.5 2 2.5 4-0.5 2-10.5 1.5-2 0-3-1.5-0.5-2 2-8 0-8-2-8-3.5-6-0.5-2 0.5-2 1.5-2 3-2 2.5-0.5 8 1.5 8-5 1.5-2 1-8 0.5-2 1-1 2-1 2 0 2 1.5 4 4 3 2.5 5 1 6 0 1-1-1-6 0-4 4.5-10 0.5-2-0.5-6 1-2 2.5-2 2 0 8 1.5 8-1 16 1.5 4-1.5 2.5-2.5 1-2 0-2-1.5-2-4-1.5-8-2.5-18-1-4 0.5-6 1.5-2-1-1-2-0.5-4 1.5-10-2.5-12-1-4-5-8 0.5-1 6 0 2-1.5 5-7.5zM1014 437.5l-0.5 0.5 0 2 2.5 4 2 2 2 0 3-2 0-2-1-2-2-1.5-4-1.5zM1038 441.5l-2 1-1.5 1.5-0.5 2-1 6-1 2-5 4-2.5 4 0 2 0.5 2 2.5 2 6.5 0 4-2 0.5-2-1-8 3.5-10 0-2-1-2zM848 461.5l-1.5 2.5 1.5 3 2 0.5 1.5-3.5-1.5-2.5zM888 440l-2 2 0.5 4 1.5 2 4 3 4 1.5 2 0 0.5-0.5 0.5-2-0.5-2-2.5-6-2-1.5-2-0.5zM1152 398l8-1 4 0.5 1 0.5 7 9 2.5 7 9.5 19.5 6 6.5 1 2 0.5 2-1.5 2-14 8.5-6 5.5-2 1-4 0-8-2-2.5-1-1.5-2-2-4-1-4 0-8-1-2-9-10-3.5-2-7.5-2.5-2-1.5-6.5-16-0.5-2 1-2 6-1 8 1 6-0.5 4-0.5zM665 440l3-1.5 4 0.5 3 1 0.5 2-1.5 4-2 1-4 0.5-3.5-1.5-1.5-2 0.5-2zM570 454l4-0.5 2 0.5 8 4 2 2 2 4 0.5 4-0.5 2-1.5 2-4.5 2.5-7 1.5-5 2-2 0-2-1.5-2.5-4.5-1.5-12 1-2 1.5-2zM824 468l0.5 2-0.5 0.5-0.5-0.5zM1146.5 468l1.5-0.5 2 0 2 1.5 1.5 3-0.5 4-1 2-2 1-2 0-1-1-1.5-2-1-2 0-4zM1114 474l4-1.5 12 0.5 2 0.5 2 1.5 6 8.5 2 1.5 10 2.5 7 2.5 3 2 0.5 2-1 2-3.5 4-1.5 6-1 2-3.5 3-4 1.5-6 1.5-8 0-4-1-10-9-2-1-2-0.5-2 0.5-2 1.5-3.5 3.5-2.5 1-6-0.5-2.5-0.5-1.5-1-2-3 0-6 1-4 3.5-4 0.5-2 0-6 1-1.5 3-2.5zM1106 495l-1 1 0 2 1 1.5 1-1.5zM891 476l3-1.5 2 0 2 1.5-0.5 2-3.5 4-4 1.5-2-0.5-2.5-1 0-2zM809.5 478l2.5 0 4 2 1.5 2-0.5 2-3 0.5-4-2-1.5-2.5zM747.5 492l2.5-0.5 2 0.5 0.5 2-2.5 2.5-2 1-2-0.5-1-1 0-2zM303.5 514l2.5-1 2 0.5 3 2.5 0.5 2 0 2-1.5 2.5-2 1.5-4 1-2.5-1-0.5-2zM174 602l0-0.5 2 0.5 6 3.5 8 7 4 2.5 12 5.5 8 1.5 2 1 4-1 1.5-2-5.5-12 0.5-2 1.5-2 2-1 2 0 3 1 2 4 3 1.5 2.5 2.5 0.5 2-0.5 6 1 2 2.5 2 6 2 1.5 2-1 8 0.5 2 3 1.5 10 2 8 6 6 2.5 2 2 2 4 1.5 2 10.5 7 3 3 2 4 1.5 4-0.5 2-1.5 2-116.5 0zM212 631.5l-10 8.5-1 2 0 2 2 2 3 0.5 2-0.5 1.5-2 3.5-10zM264 659l-1 1 1 1 1.5-1zM286.5 608l3.5-0.5 4 2 3 4.5 0.5 4-1.5 3-3.5 3-10.5 6-2-2 1.5-6 0.5-8 1.5-4z"/>
<path fill="#ff2b00" d="M896.5 340l3.5-0.5 8-0.5 3 1 1 1 0.5 1 0.5 6 1.5 6 0.5 6 1 2 2-0.5 8-3.5 3.5-2 4.5-4 6-2.5 6-4 2-1 8 1 6 2 4 2 10 7.5 4 1.5 8-1.5 10-5.5 4-0.5 4 1 2-0.5 6-3 4-0.5 9 2 3 2 2 2.5 2 0.5 8-4 4-0.5 8 2.5 8 0.5 4.5 2.5 5.5 7 10-1 14.5 4 3 2 2.5 4.5 5.5 3.5 1 2-0.5 0.5-2 1-2-0.5-6-3-2 0-8 3.5-4 0-2-1-2-1-6-9-2-2-2-1.5-4 3-8 10.5-2 1-6 0.5-12 6.5-12 2-8-0.5-2 1.5-1 2.5-0.5 2 1 2 2 4 0.5 2-4.5 14 0 2 2 2 4.5 0.5 3 1.5 1.5 2 0.5 2 0.5 6-1.5 2-10-2.5-8 0-2 0.5-4 6.5-6 0.5-2 1-1.5 2 0 4 1.5 2.5 2 1.5 4 0.5 2-0.5 1.5-2 1-6 1.5-1.5 2 0 4 2.5 2 2 3 7-1 1-4 1.5-2 1.5-1 2-1 5-2 2.5-2 0-6-3.5-2 0-2 1.5-1 2.5 0.5 2 6 6 0.5 2-1.5 2-2.5 0-8-5-6-2.5-6-1-6-2.5-4-5.5-2-1.5-4-1-2-1-1-2-0.5-4 4-10 1-8-0.5-4-1-2-2-2-2-1.5-2 0-4 0.5-9 5-1.5 2-1.5 9.5-2 2.5-8 5.5-8 1.5-2 0-2-1.5-1-1.5-0.5-6-1.5-2-3-1.5-4-0.5-2-1.5-2-4.5-2-3-2-1-2 0-4 1.5-2-0.5-2-2-1-3 1-4 6-12 4-1 8-0.5 4.5 1.5 1.5 1 2 0.5 4-0.5 6 1.5 2 0 8.5-10.5 1.5-2 0-2-1-2-6.5-6-1.5-2-0.5-4-2-2-2.5-0.5-2 0-6 4-4 1.5-4.5-1-9.5-3.5-2-1.5-1.5-3-1.5-6-2-16 1.5-4 3.5-7 2-2zM998 407.5l-0.5 2.5 0.5 1 2 0.5 2-0.5 0.5-1-0.5-2.5-2-0.5zM1000 381.5l-1 2.5 0 2 1 2 2 0 2.5-2 0.5-2 0-2-1-1.5-2-0.5zM896 360l-3 2 1 1.5 2 1 2.5-0.5 1-2-1.5-1.5zM1147.5 402l6.5-1.5 4 0.5 1.5 1 2.5 4.5 6 3 2.5 4.5 3.5 4 2 3.5 6 15.5 4.5 5 0 2-2 2-16.5 12.5-4 0-6-2-2-0.5-2-2-1-2-1-4-0.5-8-1.5-4-6.5-8-2.5-2-11-3.5-2-1.5-2-3-4-10-0.5-2 0.5-1 2-1.5 4-0.5 12 0.5zM858 442l2-0.5 6 1 6-0.5 4 0.5 2 1.5 2 4.5 2 3 6 4.5 1.5 2 0 2-2 2-1.5 1-2 0-12-2-2-1-4-4-2-0.5-6 1.5-6-2-2-1-1.5-2-0.5-2 0.5-2 3.5-3.5zM1048 442l0-0.5 2 0 8 4 2.5 2.5 1.5 10 2 3 4 2.5 2 2.5 0.5 2-1 2-1.5 1-2 0.5-2-1-4-3.5-8-1.5-2.5-1.5-1.5-2-1-2 0.5-2 3.5-4-1-2-2.5-4-0.5-2zM574 458l6 2 4 3.5 1 2.5-0.5 2-2 2-4.5 1-3-1-2.5-2-3-6 0.5-2 2-1.5zM916 464l2-2 1 2-1 2-1.5 0zM1031.5 472l6.5-0.5 4 0.5 2 2-0.5 2-2 2-11.5 6.5-5.5-2.5-3-2-1.5-2 0-2.5 2-1.5 4-0.5zM1117 476l3-0.5 10 0.5 4 3 4 6.5 2 2 2 1 6 2 3 1.5 0.5 2 0 6 0.5 4 0 2-1.5 2-2.5 1.5-4 1-14-0.5-4-2.5-8-7-4-1.5-1.5-1-1-2-2-8-1.5-4 0.5-2 1.5-0.5zM174 606l0-1 2 0.5 4 2.5 2 2 6 9.5 2 2.5 6 3 6 1.5 2 1.5-0.5 2-1.5 1-6 1.5-2 3-2.5 6.5-3.5 2.5-4 0-2-1-1.5-1.5-1-6-2.5-2-3-0.5zM286.5 612l1.5-0.5 2 0 2 0.5 2 2 1 2 0 2-1 2-2.5 2-3.5 1.5-2-0.5-0.5-3 0-6zM224.5 630l1.5-1 2 0 4.5 3 0 2-4.5 4.5-3.5 7.5 0.5 2 1 1.5 2 2 4 1 4-0.5 4-2 5.5-4 2.5-1 4 0 2 0.5 3 2.5 0.5 2-0.5 2-4.5 6 0.5 2 3 3 2 3-0.5 4-1.5 6-0.5 4-81.5 0 0-37 4 1.5 1 1.5 1.5 6 1.5 1.5 2 1 4 0 6-2.5 4-1 10 1 2-0.5 5.5-5.5 1.5-2 3-7.5zM274 666l4-1 6 3 1.5 2 1 2-0.5 2-6 3.5-2.5 2.5-10.5 0 0.5-6 1.5-4 2-2z"/>
<path fill="#ff2200" d="M898 342l8 0 2 1 1 1 1.5 10 0 2-1.5 2-3 0.5-8-4-5-0.5-1-1.5 0-2.5 2-6 2-1.5zM945.5 352l6.5-1.5 6 0.5 10 4 8 6.5 2 1 12 3 2-0.5 1-1 3-6 2-2 2-0.5 6 2.5 2 0 2-1.5 3-4.5 3-1.5 2-0.5 2 0.5 3.5 1.5 4.5 6 4 2 2 0.5 2-1 6-4.5 4-1 8 3.5 7 0.5 1.5 2 0 2-1 4-2.5 4-3 3.5-8 3-8 5.5-4 2-8 1.5-4-0.5-2.5-1-5.5-4.5-8-4-6-1-2 0.5-2 1-2.5 4-0.5 6 0 4 2 6 0 2-0.5 2-2.5 1.5-4-0.5-2-1-3-4-6-6-2.5-4-2.5-10-2-2-2-0.5-2 0.5-8.5 6-1.5 2-1 2 1 2 10 5.5 8 8.5 2 0.5 7 1.5 1.5 2 1.5 6.5 4 7 2 0.5 6-1 4 0 1.5 1 1.5 2 0.5 2-0.5 2-1 1-5.5 3-4.5 4-6 1-2 2.5-1.5 4.5-0.5 4 2 12-3 6-3 2.5-4 0.5-4-3-6-6-3-4-1-2-0.5-10 0.5-10-1.5-6 3.5-2 2-2 0.5-2-2-2-2.5-1.5-2-2.5-3.5-6-1-4 0-6-1.5-4.5-2-1.5-2 1-2.5 5 0.5 8-1.5 8 3.5 6-2 2-6 2.5-4 0.5-2-2-2-5-4-3.5-1.5-2.5 0.5-2 0.5-2 6-6 1-2 0-2-2.5-4-5-6-3-7.5-4-2.5-6-1.5-8 3.5-2 0-3-2-1-2 0.5-2 2-2 3.5-1 6 0 2-1.5 3-3.5 3-2 8-3 8-4.5zM986 421l-1 1-1 2 1 2 1 2 2 2 2 0.5 2-4-0.5-4.5-1.5-1.5zM1150 404l2 0 2 1.5 6 8 2 1.5 6 2 4.5 3 3 6 4 12 2 4 0.5 2-1 2-13 9.5-2 0.5-6-1-2-1-2-2-1.5-2-1-4 0.5-8-0.5-2-8.5-10-3.5-2-9.5-3-2-1-3-4-3-8 0.5-2 3.5-1.5 12 1zM897 412l3 0 2 1.5 0 4.5-1 2-1 1.5-2 0.5-4 0-2.5-2 1-2 2-4zM916.5 420l3.5-1.5 4 0.5 2 1 1 2-0.5 2-1.5 2-3 2-8 3.5-4 0-3.5-1.5-1.5-2-0.5-2 1.5-2 6-1zM854.5 448l3.5-1.5 2.5 1.5-0.5 2-2 1.5-2 0-2-1.5zM1117 480l3-1.5 2-0.5 6 0.5 3.5 1.5 6.5 10 6 4 1 2 0.5 8-1.5 1-2 0.5-4-1.5-2 0.5-3 1.5-3 0.5-2 0-4-3-4-4-5-3.5-1-2-1-4 0.5-4 1.5-4zM174 610l0-1 2 0.5 2 2.5 1.5 6-0.5 4-1 2-2 2-2 1zM215 654l3-1.5 2 0.5 6 3 12 1 4 1 4 4 6 5 0.5 3-0.5 2.5-2 3-2 1.5-2 0-4-1.5-2 0.5-1 4-8 0 1-6-1.5-2-2.5-1.5-2 0-2 1.5-1 4-0.5 4-48.5 0 0-21.5 6 2 4 0.5 4-1 10-5 4 0 6 2 2 0 3-1z"/>
<path fill="#ff1900" d="M897.5 346l2.5-0.5 1.5 0.5 1.5 2-1 1.5-4-1-0.5-0.5zM1015.5 354l2.5-1 2 0.5 2 2 3 4.5 1 1 8 3 4 0 6-4 2-0.5 7 6.5 0.5 2-1.5 2-6 3-10 7.5-4 1.5-6 0-2-1-3.5-3-5.5-6-3-4 1.5-10zM947.5 356l6.5-1.5 12 3.5 3.5 2 1.5 2 1 2 0.5 2-10.5 1.5-2 1-4 7-2 1.5-6 3.5-2.5 3.5-1.5 4.5-2 1.5-4-2.5-2-2-5-9.5-7.5-4-1-2 0-2 1.5-2 2-1.5 2-0.5 4 0.5 4 2.5 2-0.5 4-6.5zM1002 364l2 0 3 2 0 2-3 1-2.5-1-0.5-2zM975.5 368l0.5-0.5 2 0 2 0 4 2.5 2 6 4.5 6 0.5 4-1 5-2 0.5-4-1-2-1.5-2.5-3-1-4-1-8zM937 406l3-1.5 2 1.5-0.5 2-1.5 1.5-2 0.5-2-2zM968.5 406l1.5-2 2 0 2 1 2 1 2.5 2-0.5 2-2 1.5-2 0.5-2-0.5-2.5-1.5-1.5-2zM1127 408l1-1.5 2 0 8 0.5 10-0.5 2 0.5 2 1.5 5.5 7.5 2 2 8.5 2.5 2 1 2 2.5 3 10 3 8 0.5 2-1.5 2-9 7-4 0.5-4.5-1.5-2-2-2-4 0.5-4 2-6-0.5-2-5-4-6-6-12.5-4-3.5-2-2.5-4-1.5-4zM975 426l1-0.5 2 0.5 3 4 1.5 4-0.5 6.5-2 6.5-2 4-2 0-6-5.5-1.5-3.5-0.5-2 1-4zM1121.5 482l6.5 0.5 2 1 2 2.5 3 6 0 4-0.5 2-2.5 3.5-2 1.5-2 0-2-0.5-9-8.5-1-2-0.5-2 1-4 1.5-2.5 2-1zM196 660l4-1 8 2.5 6-0.5 4 1.5 2 1.5 0.5 2-0.5 14-21.5 0-1.5-2-1-0.5-2 0-2 0.5-1 2-17 0 0-7 6 1 4-1.5 4-6.5zM231.5 662l2.5 0.5 0.5 1.5-0.5 1-2 0.5-2-1.5z"/>
<path fill="#ff1000" d="M951 362l3-1 2 0.5 1.5 2.5-1 2-4.5 4.5-2 1-2 0.5-1-2 0-4 1-2zM1021 366l1-1 2 0 4.5 1 5.5 3 4 1.5 2 1.5-0.5 2-2.5 2-3 1-4 0.5-4-0.5-2-1.5-3-3.5-1-4zM983 384l1-1.5 2 1.5 0 2-2 0zM1128.5 410l1.5-1.5 2-0.5 6 1 8 0 2 0 2 1.5 6 8.5 2 1.5 8.5 3.5 1 2 0.5 4 0.5 2 5 6 2 4 0 2-1.5 2-6 5-2 0.5-4-0.5-1.5-1-2-2-1-4 0.5-2 4.5-8 0-2-7.5-4-5-5.5-16.5-4.5-3.5-4-1-2zM1120 488l2-0.5 4 0 2 0.5 2 2 1 2 0 2-0.5 2-1 2-1.5 1-2 0-2-1.5-4.5-5.5-0.5-2zM200 666l12-1.5 2 0 2 1 1.5 2.5 0.5 2 0.5 10-16 0-2.5-7-2.5-3 0-2z"/>
<path fill="#ff0700" d="M1131.5 410l12.5 1 2 0.5 3 2.5 0.5 2-0.5 2-3 1-2 0-8-2-4.5-3-1-2zM1164.5 436l1.5-1 2 0.5 2 1.5 3.5 5 0 2-1.5 2-4 3-4 1-2-1-1.5-1-1-2 0-2 2-4zM209.5 668l2.5-0.5 1.5 0.5 1.5 2 1 3.5 0 6.5-10.5 0 0-6 0.5-2 1-2z"/>
<path fill="#fc0000" d="M1134 412l5 0 3 0.5 2.5 1.5 0.5 2-3 0.5-4.5-0.5-3.5-2zM1165.5 438l0.5-0.5 2 0.5 2 1.5 1.5 2.5 0 2-1.5 2-2 1.5-2 1-2 0-2-1.5-0.5-3 1.5-4z"/>
<path fill="#f20000" d="M1164 442l2-2 2 0.5 1.5 1.5 0 2-2 2-1.5 0.5-2-0.5-1-2z"/></g>
<g fill="#fff" shape-rendering="crispEdges">
<rect x="896.5" y="286.0" width="210.2" height="4.0"/>
<rect x="900.3" y="289.8" width="206.4" height="4.0"/>
<rect x="904.1" y="293.6" width="202.7" height="4.0"/>
<rect x="911.6" y="297.3" width="195.1" height="4.0"/>
<rect x="919.1" y="301.1" width="187.6" height="4.0"/>
<rect x="926.6" y="304.9" width="180.1" height="4.0"/>
<rect x="937.8" y="308.7" width="165.1" height="4.0"/>
<rect x="949.1" y="312.5" width="150.1" height="4.0"/>
<rect x="960.3" y="316.2" width="37.5" height="4.0"/>
<rect x="1012.9" y="316.2" width="90.1" height="4.0"/>
<rect x="1114.2" y="316.2" width="48.8" height="4.0"/>
<rect x="971.6" y="320.0" width="15.0" height="4.0"/>
<rect x="1020.4" y="320.0" width="150.1" height="4.0"/>
<rect x="1024.1" y="323.8" width="150.1" height="4.0"/>
<rect x="1027.9" y="327.6" width="150.1" height="4.0"/>
<rect x="1031.7" y="331.3" width="150.1" height="4.0"/>
<rect x="1039.2" y="335.1" width="142.6" height="4.0"/>
<rect x="1042.9" y="338.9" width="138.9" height="4.0"/>
<rect x="1046.7" y="342.7" width="131.3" height="4.0"/>
<rect x="1054.2" y="346.5" width="123.8" height="4.0"/>
<rect x="1069.2" y="350.2" width="108.8" height="4.0"/>
<rect x="1076.7" y="354.0" width="101.3" height="4.0"/>
<rect x="1095.4" y="357.8" width="82.6" height="4.0"/>
<rect x="1110.5" y="361.6" width="67.6" height="4.0"/>
<rect x="1114.2" y="365.4" width="63.8" height="4.0"/>
<rect x="1118.0" y="369.1" width="56.3" height="4.0"/>
<rect x="1121.7" y="372.9" width="52.5" height="4.0"/>
<rect x="1125.5" y="376.7" width="48.8" height="4.0"/>
<rect x="1129.2" y="380.5" width="45.0" height="4.0"/>
<rect x="1133.0" y="384.2" width="41.3" height="4.0"/>
<rect x="1136.7" y="388.0" width="37.5" height="4.0"/>
<rect x="1136.7" y="391.8" width="37.5" height="4.0"/>
<rect x="1136.7" y="395.6" width="37.5" height="4.0"/>
<rect x="1136.7" y="399.4" width="41.3" height="4.0"/>
<rect x="1136.7" y="403.1" width="45.0" height="4.0"/>
<rect x="1136.7" y="406.9" width="48.8" height="4.0"/>
<rect x="1144.2" y="410.7" width="45.0" height="4.0"/>
<rect x="1159.2" y="414.5" width="33.8" height="4.0"/>
<rect x="1163.0" y="418.3" width="33.8" height="4.0"/>
<rect x="1223.0" y="418.3" width="3.8" height="4.0"/>
<rect x="1166.8" y="422.0" width="37.5" height="4.0"/>
<rect x="1208.0" y="422.0" width="18.8" height="4.0"/>
<rect x="1170.5" y="425.8" width="56.3" height="4.0"/>
<rect x="1170.5" y="429.6" width="56.3" height="4.0"/>
<rect x="1178.0" y="433.4" width="48.8" height="4.0"/>
<rect x="1196.8" y="437.2" width="26.3" height="4.0"/>
<rect x="1200.5" y="440.9" width="26.3" height="4.0"/>
<rect x="1211.8" y="444.7" width="15.0" height="4.0"/>
<rect x="1211.8" y="448.5" width="11.3" height="4.0"/>
<rect x="1223.0" y="607.2" width="3.8" height="4.0"/>
<rect x="1215.5" y="611.0" width="11.3" height="4.0"/>
<rect x="1208.0" y="614.8" width="18.8" height="4.0"/>
<rect x="1204.3" y="618.5" width="22.5" height="4.0"/>
<rect x="1204.3" y="622.3" width="22.5" height="4.0"/>
<rect x="1204.3" y="626.1" width="22.5" height="4.0"/>
<rect x="1204.3" y="629.9" width="22.5" height="4.0"/>
<rect x="1204.3" y="633.7" width="22.5" height="4.0"/>
<rect x="1208.0" y="637.4" width="18.8" height="4.0"/>
<rect x="1211.8" y="641.2" width="15.0" height="4.0"/>
<rect x="1208.0" y="645.0" width="18.8" height="4.0"/>
<rect x="1208.0" y="648.8" width="18.8" height="4.0"/>
<rect x="1215.5" y="652.5" width="11.3" height="4.0"/>
<rect x="1219.3" y="656.3" width="7.5" height="4.0"/>
<rect x="1052.6" y="567.6" width="7.4" height="8.0"/>
<rect x="1060" y="572" width="4.0" height="3.6"/>
<rect x="1217" y="561" width="3.0" height="5.0"/>
<rect x="1221" y="603" width="5.0" height="9.0"/>
<rect x="1217" y="607" width="5.0" height="5.0"/>
<rect x="1219" y="433" width="8.0" height="12.0"/>
</g>
<g fill="#808080" stroke="#000" stroke-width="1" stroke-linejoin="round">
<path d="M893 280L899 288L906 294L918 300L930 305L944 309L958 315L972 319L982 322L989 318.5L999 314L1009 314L1019 319L1029 326L1039 335L1049 343L1059 348L1069 349L1077 353L1083 356L1093 357L1103 358L1109 359L1112 356L1117 362L1113 364L1119 370L1129 380L1137 387L1140.7 389.8L1141.1 397.2L1139 403.8L1140.7 408.7L1145.6 410.4L1149.3 413.2L1154.2 408.3L1157.1 412.8L1162.8 416.1L1168.6 419.8L1171.8 424.3L1171 430L1175.9 431.7L1179.2 433.3L1182.1 435.4L1186.6 433.7L1192.3 434.6L1198.1 436.6L1202.2 439.1L1204.7 441.5L1212 442.8L1213.7 450.5L1220.2 448.9L1225.2 446.9L1232 445L1232 444L1225.2 444L1220.6 439.1L1219.8 436.2L1225.2 433.3L1232 433L1232 420L1225.2 421.8L1215.3 424.7L1205.5 427.6L1202.2 424.7L1194.8 422.7L1192.3 417.7L1187.4 413.6L1180.9 408.7L1175.9 403L1171.8 395.6L1169.8 388.2L1171.4 383.3L1172 380L1173 370L1175 360L1176 348L1178 340L1178 332L1173 327L1167 322L1159 318L1149 317L1141 318L1129 320L1117 320L1109 321L1104 322.4L1098 319L1093 316.4L1100 311L1103 304L1104.6 294L1105 288L1105 280Z"/>
<path d="M1232 561L1218.5 561L1219.5 565L1219 571L1213.5 574L1215 582L1216 590L1213.5 593.5L1218 597L1222 601L1225 603.5L1232 606Z"/>
<path d="M1232 606.5L1225 609.5L1220 612.5L1215 615.5L1210 619L1207 623L1206.5 630L1208 635L1211 640L1214.5 644L1210 649L1215 652L1220 655L1225 659L1232 662Z"/>
<path d="M1055 557.5L1059.5 562L1063 566.5L1064.8 570L1062.5 573L1059.5 574.8L1054.5 572.5L1057 570L1059 568.5L1055 565.5L1054.5 561Z"/>
</g>
</g>
<g stroke="#000" stroke-width="1" stroke-dasharray="1 3" fill="none" shape-rendering="crispEdges">
<line x1="401.5" y1="286.0" x2="401.5" y2="679.0"/>
<line x1="626.5" y1="286.0" x2="626.5" y2="679.0"/>
<line x1="851.5" y1="286.0" x2="851.5" y2="679.0"/>
<line x1="1076.5" y1="286.0" x2="1076.5" y2="679.0"/>
</g>
<g stroke="#000" stroke-width="1.15" stroke-dasharray="1 3" fill="none">
<line x1="176.0" y1="332.1" x2="1226.8" y2="332.1"/>
<line x1="176.0" y1="408.2" x2="1226.8" y2="408.2"/>
<line x1="176.0" y1="483.8" x2="1226.8" y2="483.8"/>
<line x1="176.0" y1="559.0" x2="1226.8" y2="559.0"/>
<line x1="176.0" y1="634.4" x2="1226.8" y2="634.4"/>
</g>
<g stroke="#000" stroke-width="4" fill="none">
<line x1="401.2" y1="286.0" x2="401.2" y2="296.4"/>
<line x1="401.2" y1="679.0" x2="401.2" y2="668.6"/>
<line x1="626.3" y1="286.0" x2="626.3" y2="296.4"/>
<line x1="626.3" y1="679.0" x2="626.3" y2="668.6"/>
<line x1="851.5" y1="286.0" x2="851.5" y2="296.4"/>
<line x1="851.5" y1="679.0" x2="851.5" y2="668.6"/>
<line x1="1076.7" y1="286.0" x2="1076.7" y2="296.4"/>
<line x1="1076.7" y1="679.0" x2="1076.7" y2="668.6"/>
<line x1="176.0" y1="332.1" x2="186.4" y2="332.1"/>
<line x1="1226.8" y1="332.1" x2="1216.3999999999999" y2="332.1"/>
<line x1="176.0" y1="408.2" x2="186.4" y2="408.2"/>
<line x1="1226.8" y1="408.2" x2="1216.3999999999999" y2="408.2"/>
<line x1="176.0" y1="483.8" x2="186.4" y2="483.8"/>
<line x1="1226.8" y1="483.8" x2="1216.3999999999999" y2="483.8"/>
<line x1="176.0" y1="559.0" x2="186.4" y2="559.0"/>
<line x1="1226.8" y1="559.0" x2="1216.3999999999999" y2="559.0"/>
<line x1="176.0" y1="634.4" x2="186.4" y2="634.4"/>
<line x1="1226.8" y1="634.4" x2="1216.3999999999999" y2="634.4"/>
<rect x="176.0" y="286.0" width="1050.8" height="393.0" stroke-linejoin="round"/>
</g>
<text x="705.6" y="235.1" font-size="31.5" font-weight="bold" text-anchor="middle" fill="#000">AVHRR Sea Surface Temperature</text>
<text x="700.9" y="274.8" font-size="24.7" font-weight="bold" text-anchor="middle" fill="#000">2016-04-21</text>
<text x="171.2" y="341.0" font-size="16.6" text-anchor="end" fill="#000">15<tspan font-size="15" dy="-7.6">o</tspan><tspan dy="7.6">N</tspan></text>
<text x="171.2" y="417.1" font-size="16.6" text-anchor="end" fill="#000">10<tspan font-size="15" dy="-7.6">o</tspan><tspan dy="7.6">N</tspan></text>
<text x="171.2" y="492.7" font-size="16.6" text-anchor="end" fill="#000">5<tspan font-size="15" dy="-7.6">o</tspan><tspan dy="7.6">N</tspan></text>
<text x="165.6" y="567.9" font-size="16.6" text-anchor="end" fill="#000">0<tspan font-size="15" dy="-7.6">o</tspan><tspan dy="7.6"></tspan></text>
<text x="171.2" y="643.3" font-size="16.6" text-anchor="end" fill="#000">5<tspan font-size="15" dy="-7.6">o</tspan><tspan dy="7.6">S</tspan></text>
<text x="176.0" y="701.1" font-size="16.6" text-anchor="middle" fill="#000">150<tspan font-size="15" dy="-7.6">o</tspan><tspan dy="7.6">W</tspan></text>
<text x="401.2" y="701.1" font-size="16.6" text-anchor="middle" fill="#000">135<tspan font-size="15" dy="-7.6">o</tspan><tspan dy="7.6">W</tspan></text>
<text x="626.3" y="701.1" font-size="16.6" text-anchor="middle" fill="#000">120<tspan font-size="15" dy="-7.6">o</tspan><tspan dy="7.6">W</tspan></text>
<text x="851.5" y="701.1" font-size="16.6" text-anchor="middle" fill="#000">105<tspan font-size="15" dy="-7.6">o</tspan><tspan dy="7.6">W</tspan></text>
<text x="1076.7" y="701.1" font-size="16.6" text-anchor="middle" fill="#000">90<tspan font-size="15" dy="-7.6">o</tspan><tspan dy="7.6">W</tspan></text>
<g shape-rendering="crispEdges">
<rect x="174.50" y="711.5" width="10.90" height="19.0" fill="#af85ce"/>
<rect x="184.90" y="711.5" width="10.90" height="19.0" fill="#a676c7"/>
<rect x="195.29" y="711.5" width="10.90" height="19.0" fill="#9c67bf"/>
<rect x="205.69" y="711.5" width="10.90" height="19.0" fill="#9358b8"/>
<rect x="216.08" y="711.5" width="10.90" height="19.0" fill="#8949b1"/>
<rect x="226.48" y="711.5" width="10.90" height="19.0" fill="#7f3aa9"/>
<rect x="236.88" y="711.5" width="10.90" height="19.0" fill="#762ba2"/>
<rect x="247.27" y="711.5" width="10.90" height="19.0" fill="#6c1d9a"/>
<rect x="257.67" y="711.5" width="10.90" height="19.0" fill="#630e93"/>
<rect x="268.06" y="711.5" width="10.90" height="19.0" fill="#5a008d"/>
<rect x="278.46" y="711.5" width="10.90" height="19.0" fill="#540094"/>
<rect x="288.86" y="711.5" width="10.90" height="19.0" fill="#4e009b"/>
<rect x="299.25" y="711.5" width="10.90" height="19.0" fill="#4800a3"/>
<rect x="309.65" y="711.5" width="10.90" height="19.0" fill="#4200aa"/>
<rect x="320.04" y="711.5" width="10.90" height="19.0" fill="#3d00b2"/>
<rect x="330.44" y="711.5" width="10.90" height="19.0" fill="#3700b9"/>
<rect x="340.84" y="711.5" width="10.90" height="19.0" fill="#3100c1"/>
<rect x="351.23" y="711.5" width="10.90" height="19.0" fill="#2b00c8"/>
<rect x="361.63" y="711.5" width="10.90" height="19.0" fill="#2500cf"/>
<rect x="372.02" y="711.5" width="10.90" height="19.0" fill="#1f00d7"/>
<rect x="382.42" y="711.5" width="10.90" height="19.0" fill="#1a00de"/>
<rect x="392.82" y="711.5" width="10.90" height="19.0" fill="#1400e6"/>
<rect x="403.21" y="711.5" width="10.90" height="19.0" fill="#0e00ed"/>
<rect x="413.61" y="711.5" width="10.90" height="19.0" fill="#0800f5"/>
<rect x="424.00" y="711.5" width="10.90" height="19.0" fill="#0200fc"/>
<rect x="434.40" y="711.5" width="10.90" height="19.0" fill="#0106f8"/>
<rect x="444.80" y="711.5" width="10.90" height="19.0" fill="#010feb"/>
<rect x="455.19" y="711.5" width="10.90" height="19.0" fill="#0219de"/>
<rect x="465.59" y="711.5" width="10.90" height="19.0" fill="#0322d2"/>
<rect x="475.99" y="711.5" width="10.90" height="19.0" fill="#042cc5"/>
<rect x="486.38" y="711.5" width="10.90" height="19.0" fill="#0536b8"/>
<rect x="496.78" y="711.5" width="10.90" height="19.0" fill="#063fac"/>
<rect x="507.17" y="711.5" width="10.90" height="19.0" fill="#07499f"/>
<rect x="517.57" y="711.5" width="10.90" height="19.0" fill="#085392"/>
<rect x="527.97" y="711.5" width="10.90" height="19.0" fill="#085c86"/>
<rect x="538.36" y="711.5" width="10.90" height="19.0" fill="#096679"/>
<rect x="548.76" y="711.5" width="10.90" height="19.0" fill="#0a6f6c"/>
<rect x="559.15" y="711.5" width="10.90" height="19.0" fill="#0a785f"/>
<rect x="569.55" y="711.5" width="10.90" height="19.0" fill="#0a8151"/>
<rect x="579.95" y="711.5" width="10.90" height="19.0" fill="#0a8a44"/>
<rect x="590.34" y="711.5" width="10.90" height="19.0" fill="#0a9337"/>
<rect x="600.74" y="711.5" width="10.90" height="19.0" fill="#0a9c29"/>
<rect x="611.13" y="711.5" width="10.90" height="19.0" fill="#0aa51c"/>
<rect x="621.53" y="711.5" width="10.90" height="19.0" fill="#10ac13"/>
<rect x="631.93" y="711.5" width="10.90" height="19.0" fill="#1fb112"/>
<rect x="642.32" y="711.5" width="10.90" height="19.0" fill="#2eb711"/>
<rect x="652.72" y="711.5" width="10.90" height="19.0" fill="#3ebc10"/>
<rect x="663.11" y="711.5" width="10.90" height="19.0" fill="#4dc10f"/>
<rect x="673.51" y="711.5" width="10.90" height="19.0" fill="#5cc60d"/>
<rect x="683.91" y="711.5" width="10.90" height="19.0" fill="#6bcc0c"/>
<rect x="694.30" y="711.5" width="10.90" height="19.0" fill="#7ad10b"/>
<rect x="704.70" y="711.5" width="10.90" height="19.0" fill="#89d60a"/>
<rect x="715.09" y="711.5" width="10.90" height="19.0" fill="#99db08"/>
<rect x="725.49" y="711.5" width="10.90" height="19.0" fill="#a8e107"/>
<rect x="735.89" y="711.5" width="10.90" height="19.0" fill="#b7e606"/>
<rect x="746.28" y="711.5" width="10.90" height="19.0" fill="#c6eb05"/>
<rect x="756.68" y="711.5" width="10.90" height="19.0" fill="#d5f103"/>
<rect x="767.07" y="711.5" width="10.90" height="19.0" fill="#e4f602"/>
<rect x="777.47" y="711.5" width="10.90" height="19.0" fill="#f4fb01"/>
<rect x="787.87" y="711.5" width="10.90" height="19.0" fill="#fffe00"/>
<rect x="798.26" y="711.5" width="10.90" height="19.0" fill="#fff800"/>
<rect x="808.66" y="711.5" width="10.90" height="19.0" fill="#fff200"/>
<rect x="819.05" y="711.5" width="10.90" height="19.0" fill="#ffec00"/>
<rect x="829.45" y="711.5" width="10.90" height="19.0" fill="#ffe700"/>
<rect x="839.85" y="711.5" width="10.90" height="19.0" fill="#ffe100"/>
<rect x="850.24" y="711.5" width="10.90" height="19.0" fill="#ffdb00"/>
<rect x="860.64" y="711.5" width="10.90" height="19.0" fill="#ffd500"/>
<rect x="871.03" y="711.5" width="10.90" height="19.0" fill="#ffd000"/>
<rect x="881.43" y="711.5" width="10.90" height="19.0" fill="#ffca00"/>
<rect x="891.83" y="711.5" width="10.90" height="19.0" fill="#ffc400"/>
<rect x="902.22" y="711.5" width="10.90" height="19.0" fill="#ffbe00"/>
<rect x="912.62" y="711.5" width="10.90" height="19.0" fill="#ffb900"/>
<rect x="923.01" y="711.5" width="10.90" height="19.0" fill="#ffb300"/>
<rect x="933.41" y="711.5" width="10.90" height="19.0" fill="#ffad00"/>
<rect x="943.81" y="711.5" width="10.90" height="19.0" fill="#ffa600"/>
<rect x="954.20" y="711.5" width="10.90" height="19.0" fill="#ff9d00"/>
<rect x="964.60" y="711.5" width="10.90" height="19.0" fill="#ff9400"/>
<rect x="975.00" y="711.5" width="10.90" height="19.0" fill="#ff8b00"/>
<rect x="985.39" y="711.5" width="10.90" height="19.0" fill="#ff8200"/>
<rect x="995.79" y="711.5" width="10.90" height="19.0" fill="#ff7900"/>
<rect x="1006.18" y="711.5" width="10.90" height="19.0" fill="#ff7000"/>
<rect x="1016.58" y="711.5" width="10.90" height="19.0" fill="#ff6700"/>
<rect x="1026.98" y="711.5" width="10.90" height="19.0" fill="#ff5e00"/>
<rect x="1037.37" y="711.5" width="10.90" height="19.0" fill="#ff5500"/>
<rect x="1047.77" y="711.5" width="10.90" height="19.0" fill="#ff4c00"/>
<rect x="1058.16" y="711.5" width="10.90" height="19.0" fill="#ff4300"/>
<rect x="1068.56" y="711.5" width="10.90" height="19.0" fill="#ff3a00"/>
<rect x="1078.96" y="711.5" width="10.90" height="19.0" fill="#ff3100"/>
<rect x="1089.35" y="711.5" width="10.90" height="19.0" fill="#ff2800"/>
<rect x="1099.75" y="711.5" width="10.90" height="19.0" fill="#ff1f00"/>
<rect x="1110.14" y="711.5" width="10.90" height="19.0" fill="#ff1600"/>
<rect x="1120.54" y="711.5" width="10.90" height="19.0" fill="#ff0d00"/>
<rect x="1130.94" y="711.5" width="10.90" height="19.0" fill="#ff0400"/>
<rect x="1141.33" y="711.5" width="10.90" height="19.0" fill="#f80000"/>
<rect x="1151.73" y="711.5" width="10.90" height="19.0" fill="#ec0000"/>
<rect x="1162.12" y="711.5" width="10.90" height="19.0" fill="#e10000"/>
<rect x="1172.52" y="711.5" width="10.90" height="19.0" fill="#d50000"/>
<rect x="1182.92" y="711.5" width="10.90" height="19.0" fill="#c90000"/>
<rect x="1193.31" y="711.5" width="10.90" height="19.0" fill="#bd0000"/>
<rect x="1203.71" y="711.5" width="10.90" height="19.0" fill="#b20000"/>
<rect x="1214.10" y="711.5" width="10.90" height="19.0" fill="#a60000"/>
</g>
<rect x="174.5" y="711.5" width="1050.0" height="19.0" fill="none" stroke="#262626" stroke-width="1"/>
<g stroke="#262626" stroke-width="1" shape-rendering="crispEdges">
<line x1="244.5" y1="730.5" x2="244.5" y2="719.5"/>
<line x1="384.5" y1="730.5" x2="384.5" y2="719.5"/>
<line x1="524.5" y1="730.5" x2="524.5" y2="719.5"/>
<line x1="664.5" y1="730.5" x2="664.5" y2="719.5"/>
<line x1="804.5" y1="730.5" x2="804.5" y2="719.5"/>
<line x1="944.5" y1="730.5" x2="944.5" y2="719.5"/>
<line x1="1084.5" y1="730.5" x2="1084.5" y2="719.5"/>
</g>
<text x="244.5" y="754.9" font-size="16.5" text-anchor="middle" fill="#262626">18</text>
<text x="384.5" y="754.9" font-size="16.5" text-anchor="middle" fill="#262626">20</text>
<text x="524.5" y="754.9" font-size="16.5" text-anchor="middle" fill="#262626">22</text>
<text x="664.5" y="754.9" font-size="16.5" text-anchor="middle" fill="#262626">24</text>
<text x="804.5" y="754.9" font-size="16.5" text-anchor="middle" fill="#262626">26</text>
<text x="944.5" y="754.9" font-size="16.5" text-anchor="middle" fill="#262626">28</text>
<text x="1084.5" y="754.9" font-size="16.5" text-anchor="middle" fill="#262626">30</text>
<text x="1224.5" y="754.9" font-size="16.5" text-anchor="middle" fill="#262626">32</text>
<text x="699.8" y="779" font-size="16.5" text-anchor="middle" fill="#262626">°C</text>
</svg></body></html>
